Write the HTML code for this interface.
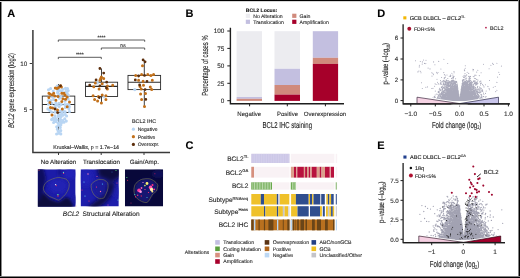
<!DOCTYPE html><html><head><meta charset="utf-8"><style>html,body{margin:0;padding:0;background:#fff;width:520px;height:278px;overflow:hidden}svg{display:block;will-change:transform}text{font-family:"Liberation Sans",sans-serif;text-rendering:geometricPrecision;stroke:#222;stroke-width:0.11px}</style></head><body>
<svg width="520" height="278" viewBox="0 0 520 278">
<rect width="520" height="278" fill="#fff"/>
<text x="7.2" y="16.8" font-size="11.00" text-anchor="start" font-weight="bold" fill="#000" >A</text>
<text x="185.6" y="17.0" font-size="11.00" text-anchor="start" font-weight="bold" fill="#000" >B</text>
<text x="185.4" y="148.9" font-size="11.00" text-anchor="start" font-weight="bold" fill="#000" >C</text>
<text x="377.3" y="17.3" font-size="11.00" text-anchor="start" font-weight="bold" fill="#000" >D</text>
<text x="377.3" y="149.0" font-size="11.00" text-anchor="start" font-weight="bold" fill="#000" >E</text>
<path d="M32.9 30V152.4H170" stroke="#3a3a3a" stroke-width="1.5" fill="none"/>
<path d="M29.7 63.5H32" stroke="#3a3a3a" stroke-width="1"/>
<text x="27.2" y="65.7" font-size="6.30" text-anchor="end" font-weight="normal" fill="#333" >10</text>
<path d="M29.7 109.6H32" stroke="#3a3a3a" stroke-width="1"/>
<text x="27.2" y="111.8" font-size="6.30" text-anchor="end" font-weight="normal" fill="#333" >5</text>
<path d="M58.5 152.4V155" stroke="#3a3a3a" stroke-width="1"/>
<path d="M101.2 152.4V155" stroke="#3a3a3a" stroke-width="1"/>
<path d="M144.0 152.4V155" stroke="#3a3a3a" stroke-width="1"/>
<text transform="translate(13.9,90.5) rotate(-90) scale(0.705,1)" font-size="8.2" text-anchor="middle" fill="#222"><tspan font-style="italic">BCL2</tspan> gene expression (log2)</text>
<path d="M58.3 41.8V40.0H144.7V41.8" stroke="#333" stroke-width="0.8" fill="none"/>
<text x="101.5" y="39.0" font-size="5.00" text-anchor="middle" font-weight="normal" fill="#333" >****</text>
<path d="M101.3 49.8V48.0H144.7V49.8" stroke="#333" stroke-width="0.8" fill="none"/>
<text x="123.0" y="47.0" font-size="5.00" text-anchor="middle" font-weight="normal" fill="#333" >ns</text>
<path d="M58.3 59.1V57.3H101.3V59.1" stroke="#333" stroke-width="0.8" fill="none"/>
<text x="79.8" y="56.0" font-size="5.00" text-anchor="middle" font-weight="normal" fill="#333" >****</text>
<path d="M58.6 84.0V96.1M58.6 112.5V133.5" stroke="#2a2a2a" stroke-width="0.9"/>
<rect x="42.3" y="96.1" width="32.5" height="16.4" fill="none" stroke="#2a2a2a" stroke-width="0.9"/>
<path d="M42.3 104.5H74.8" stroke="#2a2a2a" stroke-width="1.1"/>
<path d="M101.5 68.5V82.2M101.5 96.5V103.0" stroke="#2a2a2a" stroke-width="0.9"/>
<rect x="85.5" y="82.2" width="32.1" height="14.3" fill="none" stroke="#2a2a2a" stroke-width="0.9"/>
<path d="M85.5 86.4H117.6" stroke="#2a2a2a" stroke-width="1.1"/>
<path d="M144.3 60.0V75.4M144.3 89.6V106.6" stroke="#2a2a2a" stroke-width="0.9"/>
<rect x="128.0" y="75.4" width="32.6" height="14.2" fill="none" stroke="#2a2a2a" stroke-width="0.9"/>
<path d="M128.0 82.2H160.6" stroke="#2a2a2a" stroke-width="1.1"/>
<path d="M53.1 118.2h0M60.4 119.3h0M62.3 112.9h0M57.5 92.6h0M67.3 93.5h0M65.5 88.4h0M62.7 89.2h0M56.7 126.8h0M67.5 88.5h0M49.8 110.4h0M60.8 133.9h0M51.6 119.6h0M57.0 105.1h0M58.4 114.7h0M48.5 104.3h0M66.3 121.1h0M55.8 103.0h0M53.2 91.1h0M59.0 103.3h0M58.8 125.2h0M59.2 106.6h0M64.8 104.5h0M59.8 90.5h0M68.9 108.8h0M52.0 103.3h0M58.1 123.3h0M65.1 101.3h0M57.3 129.3h0M68.1 99.1h0M63.1 110.7h0M54.2 120.0h0M53.7 99.5h0M69.3 106.8h0M60.8 130.6h0M65.2 114.3h0M59.8 121.6h0M65.2 111.7h0M57.1 119.8h0M61.4 122.7h0M58.2 131.3h0M60.3 127.4h0M56.0 121.4h0M50.8 100.6h0M67.0 104.6h0M55.0 115.8h0M58.9 133.1h0M57.2 86.1h0M58.3 116.6h0M62.9 115.3h0M50.6 88.6h0M54.8 112.1h0M61.3 104.4h0M52.4 96.9h0M61.0 116.8h0M55.7 108.3h0M62.8 120.5h0M48.3 100.5h0M69.1 104.6h0M65.8 91.5h0M59.5 98.3h0M60.2 111.1h0M66.6 116.0h0M64.7 118.7h0M55.3 117.9h0M64.0 122.3h0M55.0 105.8h0M69.5 111.5h0M68.5 95.3h0M51.5 112.0h0M62.1 91.3h0M47.9 108.9h0M48.5 89.7h0M56.6 134.0h0M58.7 94.2h0M56.7 112.3h0M60.8 96.5h0M68.2 90.6h0M65.4 107.4h0M53.6 122.5h0M60.8 114.5h0M60.9 124.7h0M57.8 90.6h0" stroke="#b8d5f3" stroke-width="3.10" stroke-linecap="round" fill="none"/>
<path d="M55.3 87.9h0M56.9 88.6h0M58.6 87.4h0M60.7 85.8h0M61.4 87.0h0M48.9 93.3h0M50.0 94.0h0M53.7 93.3h0M52.1 95.0h0M61.8 93.3h0M64.0 93.3h0M65.0 95.0h0M67.2 97.1h0M48.9 97.6h0M54.8 96.0h0M58.0 96.6h0M55.9 100.3h0M62.9 98.7h0M65.6 99.3h0M61.8 101.4h0M49.9 102.5h0M50.5 107.4h0M52.6 107.9h0M67.2 106.8h0M62.3 109.0h0M57.5 110.0h0M52.0 115.0h0M69.5 102.0h0" stroke="#c2701a" stroke-width="3.00" stroke-linecap="round" fill="none"/>
<path d="M57.6 112.6h0M60.5 85.8h0M55.0 109.0h0" stroke="#5c2e0c" stroke-width="2.80" stroke-linecap="round" fill="none"/>
<path d="M97.3 82.9h0M103.9 96.7h0" stroke="#b8d5f3" stroke-width="3.10" stroke-linecap="round" fill="none"/>
<path d="M101.4 76.9h0M100.6 78.4h0M103.7 78.4h0M99.9 80.3h0M95.3 82.9h0M102.2 83.7h0M93.8 86.7h0M107.4 85.9h0M112.7 85.2h0M99.1 89.0h0M107.4 88.9h0M93.1 95.8h0M98.4 96.5h0M102.2 95.0h0M105.9 95.8h0M94.6 99.6h0M97.6 101.1h0M105.9 99.6h0M101.4 103.0h0" stroke="#c2701a" stroke-width="3.00" stroke-linecap="round" fill="none"/>
<path d="M99.9 68.5h0M103.7 73.1h0M96.1 79.9h0M106.7 82.2h0M89.7 85.2h0M99.9 85.9h0M106.4 88.0h0M99.3 97.6h0" stroke="#5c2e0c" stroke-width="2.80" stroke-linecap="round" fill="none"/>
<path d="M134.8 89.6h0" stroke="#b8d5f3" stroke-width="3.10" stroke-linecap="round" fill="none"/>
<path d="M142.5 65.7h0M135.7 75.4h0M141.6 74.5h0M147.8 74.5h0M150.9 75.4h0M153.6 74.5h0M138.6 80.3h0M143.1 81.3h0M152.3 80.3h0M140.0 86.5h0M143.5 85.2h0M141.2 89.0h0M150.3 87.1h0M151.7 89.6h0M140.6 93.9h0M145.5 93.5h0M141.6 99.4h0M144.5 106.6h0" stroke="#c2701a" stroke-width="3.00" stroke-linecap="round" fill="none"/>
<path d="M143.1 59.9h0M145.1 61.8h0M138.6 76.0h0M144.5 75.4h0M135.3 79.9h0M147.0 81.3h0M139.6 85.0h0M145.1 89.6h0M145.8 99.4h0" stroke="#5c2e0c" stroke-width="2.80" stroke-linecap="round" fill="none"/>
<text x="53.3" y="148.8" font-size="5.30" text-anchor="start" font-weight="normal" fill="#222" >Kruskal–Wallis, p = 1.7e−14</text>
<text x="132.0" y="123.4" font-size="5.40" text-anchor="start" font-weight="normal" fill="#333" >BCL2 IHC</text>
<circle cx="133.4" cy="129.2" r="1.6" fill="#b8d5f3"/>
<text x="137.7" y="131.1" font-size="5.00" text-anchor="start" font-weight="normal" fill="#333" >Negative</text>
<circle cx="133.4" cy="136.7" r="1.6" fill="#c2701a"/>
<text x="137.7" y="138.6" font-size="5.00" text-anchor="start" font-weight="normal" fill="#333" >Positive</text>
<circle cx="133.4" cy="144.4" r="1.6" fill="#5c2e0c"/>
<text x="137.7" y="146.3" font-size="5.00" text-anchor="start" font-weight="normal" fill="#333" >Overexpr.</text>
<text x="58.5" y="164.1" font-size="6.20" text-anchor="middle" font-weight="normal" fill="#222" >No Alteration</text>
<text x="101.4" y="164.1" font-size="6.20" text-anchor="middle" font-weight="normal" fill="#222" >Translocation</text>
<text x="144.3" y="164.1" font-size="6.20" text-anchor="middle" font-weight="normal" fill="#222" >Gain/Amp.</text>
<defs><filter id="bl" x="-20%" y="-20%" width="140%" height="140%"><feGaussianBlur stdDeviation="1.6"/></filter><filter id="bl2" x="-20%" y="-20%" width="140%" height="140%"><feGaussianBlur stdDeviation="2.2"/></filter><filter id="bs" x="-50%" y="-50%" width="200%" height="200%"><feGaussianBlur stdDeviation="0.45"/></filter><clipPath id="c1"><rect x="37.8" y="169.3" width="37.8" height="37.4"/></clipPath><clipPath id="c2"><rect x="80.6" y="169.3" width="38.2" height="37.2"/></clipPath><clipPath id="c3"><rect x="124.9" y="169.3" width="38.2" height="37.2"/></clipPath></defs>
<g clip-path="url(#c1)"><rect x="37.8" y="169.3" width="37.8" height="37.4" fill="#1c1ca8"/>
<g filter="url(#bl)"><path d="M34 195L44 193L50 199L58 202L62 200L66 197L70 199L73 204L74 210H34Z" fill="#0a0a3c"/><path d="M36 166L43 166L46 178L44 190L40 200L36 200Z" fill="#0e0e60"/><ellipse cx="59.5" cy="172" rx="1.6" ry="4" fill="#141488"/><ellipse cx="58" cy="186" rx="9" ry="7" fill="#2020b4"/><ellipse cx="70" cy="174" rx="6" ry="5" fill="#2222b8"/><ellipse cx="75" cy="200" rx="2.5" ry="5" fill="#1a1aa0"/></g>
<path d="M43.3 188.1C43.6 186.5 44.2 185 45 183.6C46.2 182.3 47.4 181.3 48.8 180.6C51 179.5 53.3 178.5 55.6 177.9C57.2 177.6 58.7 177.5 60.2 177.6C62.3 178 64.3 178.4 66.2 179.1C67.6 180.4 68.6 182 69.2 183.6C69.3 185.5 69.1 187.2 68.5 188.9C67.7 190.8 66.7 192.6 65.5 194.2C64.3 195.6 63 196.9 61.7 198C60.8 199 59.8 199.8 58.7 200.2C57.4 199.9 56.2 199.3 54.9 198.7C53.1 198 51.4 197.3 49.6 196.5C47.9 195.3 46.4 194.1 45 192.7C44.1 191.3 43.5 189.7 43.3 188.1Z" fill="none" stroke="#8c8a46" stroke-width="0.5"/>
</g>
<g clip-path="url(#c2)"><rect x="80.6" y="169.3" width="38.2" height="37.2" fill="#1e1eac"/>
<g filter="url(#bl2)"><path d="M97 166H123V175L114 181L109 181.5L104 178.5L99 177.5Z" fill="#0a0a40"/><path d="M112 183C110 190 108 196 103 200C98 204 94 206 90 210" fill="none" stroke="#0a0a40" stroke-width="7"/><path d="M92 186C92 182 96 179.5 99 179.5C103 179.5 107 181 107.5 185C108 190 106 196 101 197.5C96 197 93 193 92 186Z" fill="#1a1a98"/><ellipse cx="118" cy="192" rx="3" ry="6" fill="#2020b0"/><ellipse cx="86" cy="178" rx="6" ry="8" fill="#2222b8"/></g>
<path d="M91.1 185.1C91.6 184 92.4 183 93.4 182.1C95 180.9 96.7 180 98.6 179.4C100.4 179.3 102.2 179.4 103.9 179.8C105.4 180.6 106.7 181.6 107.7 182.9C108.2 184.6 108.2 186.4 108 188.1C107.6 190 107 191.8 106.2 193.4C105.5 195 104.8 196.6 103.9 198C102.4 198.5 100.9 198.8 99.4 198.7C97.4 197.8 95.6 196.5 94.1 195C93.1 193.6 92.3 192 91.8 190.4C91.4 188.7 91.1 186.9 91.1 185.1Z" fill="none" stroke="#8c8a46" stroke-width="0.5"/>
</g>
<g clip-path="url(#c3)"><rect x="124.9" y="169.3" width="38.2" height="37.2" fill="#08083a"/>
<g filter="url(#bl)"><path d="M134.5 188L137 182.4L142.7 179.2L149.2 178.8L154.9 181.7L157.8 185.3L156.4 191L152.8 193.9L149.9 198.9L147 202.5L142.7 201.8L137.7 198.9L134.8 195.3Z" fill="#121272"/><ellipse cx="158" cy="174" rx="6" ry="4" fill="#10105a"/></g>
<path d="M134.1 188.1C134.5 185 135.5 183.5 137 182.4C139 180.5 141 179.5 142.7 179.2C145 178.7 147 178.6 149.2 178.8C151.5 179.3 153.5 180.5 154.9 181.7C156.5 183 157.5 184 157.8 185.3C157.5 187.5 157 189.5 156.4 191C155 192.5 153.8 193 152.8 193.9C151.5 195.5 150.8 197.5 149.9 198.9C149 200.5 148 201.8 147 202.5C145.5 202.6 144 202.3 142.7 201.8C140.5 200.8 139 200 137.7 198.9C136.5 197.8 135.5 196.5 134.8 195.3C134 193 133.9 190.5 134.1 188.1Z" fill="none" stroke="#8c8a46" stroke-width="0.5"/>
<g filter="url(#bs)"><circle cx="139.1" cy="190.3" r="1.9" fill="#ff3c9c"/><circle cx="140.6" cy="191.8" r="1.3" fill="#ffa0e0"/><circle cx="147.0" cy="183.5" r="1.4" fill="#fff070"/><circle cx="150.6" cy="187.4" r="1.8" fill="#ff50b0"/><circle cx="151.6" cy="189.5" r="1.7" fill="#fff0b0"/><circle cx="152.5" cy="185.0" r="1.0" fill="#ff3080"/><circle cx="141.5" cy="188.0" r="0.9" fill="#ff60b0"/><circle cx="152.3" cy="191.6" r="1.0" fill="#fff080"/><circle cx="144.9" cy="185.6" r="0.8" fill="#c8ff60"/><circle cx="154.2" cy="189.3" r="0.9" fill="#ff4090"/><circle cx="137.7" cy="195.3" r="0.7" fill="#ff3080"/><circle cx="135.5" cy="196.8" r="0.6" fill="#ff3070"/><circle cx="141.3" cy="196.0" r="0.7" fill="#d02050"/><circle cx="134.8" cy="194.6" r="0.5" fill="#40e0e0"/><circle cx="147.0" cy="197.5" r="0.5" fill="#40d0e0"/><circle cx="126.9" cy="177.4" r="0.5" fill="#60ff80"/><circle cx="127.6" cy="180.2" r="0.5" fill="#ff3050"/><circle cx="154.9" cy="173.8" r="0.5" fill="#e02050"/><circle cx="145.0" cy="189.5" r="0.6" fill="#ff5090"/><circle cx="148.5" cy="192.5" r="0.6" fill="#ff3070"/><circle cx="143.0" cy="182.5" r="0.6" fill="#ffa0d0"/><circle cx="131.0" cy="203.0" r="0.5" fill="#c02060"/></g>
</g>
<g filter="url(#bs)"><circle cx="55.6" cy="184.6" r="0.7" fill="#e0f0ff"/><circle cx="56.2" cy="185.6" r="0.6" fill="#ff3060"/><circle cx="63.5" cy="172.4" r="0.6" fill="#60e0c0"/><circle cx="63.6" cy="173.5" r="0.6" fill="#ff3070"/><circle cx="57.9" cy="194.8" r="0.7" fill="#60ff90"/><circle cx="58.0" cy="196.0" r="0.7" fill="#ff2050"/><circle cx="39.0" cy="170.0" r="0.6" fill="#ff6040"/><circle cx="76.0" cy="206.0" r="0.4" fill="#ff8080"/><circle cx="88.0" cy="174.0" r="0.7" fill="#ff80c0"/><circle cx="84.0" cy="182.0" r="0.6" fill="#60c0ff"/><circle cx="97.0" cy="176.5" r="0.5" fill="#ff60a0"/><circle cx="96.5" cy="187.0" r="0.6" fill="#ff3080"/><circle cx="100.5" cy="191.5" r="0.7" fill="#ff70b0"/><circle cx="102.5" cy="184.0" r="0.6" fill="#40c0ff"/><circle cx="85.0" cy="196.0" r="0.6" fill="#60d0ff"/><circle cx="89.0" cy="201.0" r="0.6" fill="#ff3060"/><circle cx="117.0" cy="183.0" r="0.5" fill="#ff4070"/><circle cx="118.0" cy="200.0" r="0.5" fill="#80ffd0"/><circle cx="108.0" cy="205.0" r="0.5" fill="#ff60c0"/><circle cx="116.0" cy="170.5" r="0.5" fill="#60ff80"/><circle cx="82.0" cy="190.0" r="0.5" fill="#ff3080"/><circle cx="112.0" cy="172.0" r="0.4" fill="#40a0ff"/></g>
<text x="62.8" y="215.8" font-size="6.55" fill="#222"><tspan font-style="italic">BCL2</tspan> <tspan dx="1.5">Structural Alteration</tspan></text>
<text x="245.8" y="12.1" font-size="5.10" text-anchor="start" font-weight="bold" fill="#111" >BCL2 Locus:</text>
<rect x="245.8" y="13.7" width="4.2" height="4.2" fill="#ececf0"/>
<text x="253.2" y="17.6" font-size="5.15" text-anchor="start" font-weight="normal" fill="#333" >No Alteration</text>
<rect x="245.8" y="19.7" width="4.2" height="4.2" fill="#c3bfe0"/>
<text x="253.2" y="23.6" font-size="5.15" text-anchor="start" font-weight="normal" fill="#333" >Translocation</text>
<rect x="292.2" y="13.7" width="4.2" height="4.2" fill="#d08a7c"/>
<text x="299.6" y="17.6" font-size="5.15" text-anchor="start" font-weight="normal" fill="#333" >Gain</text>
<rect x="292.2" y="19.7" width="4.2" height="4.2" fill="#a6002a"/>
<text x="299.6" y="23.6" font-size="5.15" text-anchor="start" font-weight="normal" fill="#333" >Amplification</text>
<path d="M230.4 27.7V103.7H344" stroke="#1e1e1e" stroke-width="1.4" fill="none"/>
<path d="M227.3 100.7H230" stroke="#1e1e1e" stroke-width="1"/>
<text x="224.3" y="102.9" font-size="6.40" text-anchor="end" font-weight="normal" fill="#333" >0</text>
<path d="M227.3 83.3H230" stroke="#1e1e1e" stroke-width="1"/>
<text x="224.3" y="85.5" font-size="6.40" text-anchor="end" font-weight="normal" fill="#333" >25</text>
<path d="M227.3 65.9H230" stroke="#1e1e1e" stroke-width="1"/>
<text x="224.3" y="68.1" font-size="6.40" text-anchor="end" font-weight="normal" fill="#333" >50</text>
<path d="M227.3 48.4H230" stroke="#1e1e1e" stroke-width="1"/>
<text x="224.3" y="50.6" font-size="6.40" text-anchor="end" font-weight="normal" fill="#333" >75</text>
<path d="M227.3 31.0H230" stroke="#1e1e1e" stroke-width="1"/>
<text x="224.3" y="33.2" font-size="6.40" text-anchor="end" font-weight="normal" fill="#333" >100</text>
<path d="M249.6 103.6V106.3" stroke="#1e1e1e" stroke-width="1"/>
<path d="M287.3 103.6V106.3" stroke="#1e1e1e" stroke-width="1"/>
<path d="M325.4 103.6V106.3" stroke="#1e1e1e" stroke-width="1"/>
<rect x="236.6" y="31.2" width="25.4" height="65.8" fill="#ececf0"/>
<rect x="236.6" y="97.0" width="25.4" height="1.8" fill="#c3bfe0"/>
<rect x="236.6" y="98.8" width="25.4" height="2.1" fill="#d08a7c"/>
<rect x="274.5" y="31.2" width="25.5" height="37.6" fill="#ececf0"/>
<rect x="274.5" y="68.8" width="25.5" height="16.2" fill="#c3bfe0"/>
<rect x="274.5" y="85.0" width="25.5" height="9.6" fill="#d08a7c"/>
<rect x="274.5" y="94.6" width="25.5" height="6.3" fill="#a6002a"/>
<rect x="312.8" y="31.2" width="25.3" height="26.6" fill="#c3bfe0"/>
<rect x="312.8" y="57.8" width="25.3" height="6.1" fill="#d08a7c"/>
<rect x="312.8" y="63.9" width="25.3" height="37.0" fill="#a6002a"/>
<text x="249.3" y="115.6" font-size="6.05" text-anchor="middle" font-weight="normal" fill="#333" >Negative</text>
<text x="287.5" y="115.6" font-size="6.05" text-anchor="middle" font-weight="normal" fill="#333" >Positive</text>
<text x="325.0" y="115.6" font-size="6.05" text-anchor="middle" font-weight="normal" fill="#333" >Overexpression</text>
<text transform="translate(287.3,128.0) scale(0.70,1)" font-size="8.6" stroke="#222" stroke-width="0.22" text-anchor="middle" fill="#222">BCL2 IHC staining</text>
<text transform="translate(207.9,65.5) rotate(-90) scale(0.666,1)" font-size="8.8" text-anchor="middle" fill="#222">Percentage of cases %</text>
<rect x="251.3" y="153.8" width="38.2" height="9.2" fill="#f9f2f5"/>
<rect x="290.8" y="153.8" width="43.6" height="9.2" fill="#f9f2f5"/>
<rect x="335.7" y="153.8" width="1.5" height="9.2" fill="#f9f2f5"/>
<rect x="251.3" y="166.8" width="38.2" height="10.8" fill="#f9f2f5"/>
<rect x="290.8" y="166.8" width="43.6" height="10.8" fill="#f9f2f5"/>
<rect x="335.7" y="166.8" width="1.5" height="10.8" fill="#f9f2f5"/>
<rect x="251.3" y="182.3" width="38.2" height="7.3" fill="#f9f2f5"/>
<rect x="290.8" y="182.3" width="43.6" height="7.3" fill="#f9f2f5"/>
<rect x="335.7" y="182.3" width="1.5" height="7.3" fill="#f9f2f5"/>
<rect x="251.3" y="153.8" width="38.2" height="9.2" fill="#cbc6e6"/>
<rect x="251.3" y="166.8" width="2.7" height="10.8" fill="#d6907e"/>
<rect x="290.9" y="166.8" width="3.1" height="10.8" fill="#dba08c"/>
<rect x="294.0" y="166.8" width="2.2" height="10.8" fill="#b8123e"/>
<rect x="296.2" y="166.8" width="1.1" height="10.8" fill="#dba08c"/>
<rect x="297.3" y="166.8" width="6.6" height="10.8" fill="#b8123e"/>
<rect x="303.9" y="166.8" width="1.2" height="10.8" fill="#dba08c"/>
<rect x="305.1" y="166.8" width="1.9" height="10.8" fill="#b8123e"/>
<rect x="307.0" y="166.8" width="1.7" height="10.8" fill="#dba08c"/>
<rect x="308.7" y="166.8" width="1.6" height="10.8" fill="#b8123e"/>
<rect x="310.3" y="166.8" width="1.5" height="10.8" fill="#dba08c"/>
<rect x="311.8" y="166.8" width="5.0" height="10.8" fill="#b8123e"/>
<rect x="316.8" y="166.8" width="2.9" height="10.8" fill="#dba08c"/>
<rect x="319.7" y="166.8" width="1.8" height="10.8" fill="#b8123e"/>
<rect x="321.5" y="166.8" width="3.5" height="10.8" fill="#dba08c"/>
<rect x="325.0" y="166.8" width="4.8" height="10.8" fill="#b8123e"/>
<rect x="329.8" y="166.8" width="1.0" height="10.8" fill="#e8b8a8"/>
<rect x="330.8" y="166.8" width="3.2" height="10.8" fill="#b8123e"/>
<rect x="251.3" y="182.3" width="20.7" height="7.3" fill="#68a84c"/>
<rect x="290.8" y="182.3" width="5.2" height="7.3" fill="#68a84c"/>
<rect x="335.8" y="182.3" width="0.8" height="7.3" fill="#68a84c"/>
<path d="M252.90 182.3V189.6M254.50 182.3V189.6M256.10 182.3V189.6M257.70 182.3V189.6M259.30 182.3V189.6M260.90 182.3V189.6M262.50 182.3V189.6M264.10 182.3V189.6M265.70 182.3V189.6M267.30 182.3V189.6M268.90 182.3V189.6M270.50 182.3V189.6M292.40 182.3V189.6M294.00 182.3V189.6M295.60 182.3V189.6" stroke="#eef6ea" stroke-width="0.6"/>
<path d="M253.00 153.8V163M254.70 153.8V163M256.40 153.8V163M258.10 153.8V163M259.80 153.8V163M261.50 153.8V163M263.20 153.8V163M264.90 153.8V163M266.60 153.8V163M268.30 153.8V163M270.00 153.8V163M271.70 153.8V163M273.40 153.8V163M275.10 153.8V163M276.80 153.8V163M278.50 153.8V163M280.20 153.8V163M281.90 153.8V163M283.60 153.8V163M285.30 153.8V163M287.00 153.8V163M288.70 153.8V163" stroke="#e2def4" stroke-width="0.35"/>
<rect x="251.3" y="194.0" width="9.5" height="10.5" fill="#efc12a"/>
<rect x="260.8" y="194.0" width="3.2" height="10.5" fill="#2f4e8e"/>
<rect x="264.0" y="194.0" width="12.8" height="10.5" fill="#efc12a"/>
<rect x="276.8" y="194.0" width="1.5" height="10.5" fill="#2f4e8e"/>
<rect x="278.3" y="194.0" width="1.5" height="10.5" fill="#c8cce4"/>
<rect x="279.8" y="194.0" width="9.5" height="10.5" fill="#efc12a"/>
<rect x="291.1" y="194.0" width="4.8" height="10.5" fill="#efc12a"/>
<rect x="295.9" y="194.0" width="12.8" height="10.5" fill="#2f4e8e"/>
<rect x="308.7" y="194.0" width="1.3" height="10.5" fill="#efc12a"/>
<rect x="310.0" y="194.0" width="2.1" height="10.5" fill="#2f4e8e"/>
<rect x="312.1" y="194.0" width="1.4" height="10.5" fill="#efc12a"/>
<rect x="313.5" y="194.0" width="6.8" height="10.5" fill="#2f4e8e"/>
<rect x="321.2" y="194.0" width="3.6" height="10.5" fill="#2f4e8e"/>
<rect x="326.3" y="194.0" width="1.6" height="10.5" fill="#efc12a"/>
<rect x="327.9" y="194.0" width="1.5" height="10.5" fill="#2f4e8e"/>
<rect x="329.4" y="194.0" width="1.7" height="10.5" fill="#efc12a"/>
<rect x="331.1" y="194.0" width="2.6" height="10.5" fill="#2f4e8e"/>
<rect x="335.8" y="194.0" width="1.0" height="10.5" fill="#2f4e8e"/>
<rect x="251.3" y="206.2" width="12.7" height="10.2" fill="#efc12a"/>
<rect x="264.0" y="206.2" width="1.4" height="10.2" fill="#2f4e8e"/>
<rect x="265.4" y="206.2" width="11.5" height="10.2" fill="#efc12a"/>
<rect x="276.9" y="206.2" width="1.4" height="10.2" fill="#2f4e8e"/>
<rect x="278.3" y="206.2" width="4.6" height="10.2" fill="#efc12a"/>
<rect x="282.9" y="206.2" width="1.7" height="10.2" fill="#c6c6cc"/>
<rect x="284.6" y="206.2" width="3.6" height="10.2" fill="#efc12a"/>
<rect x="288.2" y="206.2" width="1.3" height="10.2" fill="#d4d4dc"/>
<rect x="291.1" y="206.2" width="6.4" height="10.2" fill="#efc12a"/>
<rect x="297.5" y="206.2" width="11.2" height="10.2" fill="#2f4e8e"/>
<rect x="310.0" y="206.2" width="10.0" height="10.2" fill="#2f4e8e"/>
<rect x="320.0" y="206.2" width="1.9" height="10.2" fill="#efc12a"/>
<rect x="322.8" y="206.2" width="2.0" height="10.2" fill="#2f4e8e"/>
<rect x="326.0" y="206.2" width="1.9" height="10.2" fill="#efc12a"/>
<rect x="327.9" y="206.2" width="1.5" height="10.2" fill="#c6c6cc"/>
<rect x="329.4" y="206.2" width="1.7" height="10.2" fill="#efc12a"/>
<rect x="331.1" y="206.2" width="1.7" height="10.2" fill="#2f4e8e"/>
<rect x="332.8" y="206.2" width="1.4" height="10.2" fill="#efc12a"/>
<rect x="335.8" y="206.2" width="1.0" height="10.2" fill="#c6c6cc"/>
<rect x="251.3" y="219.5" width="38.2" height="10.8" fill="#b8701f"/>
<rect x="290.8" y="219.5" width="43.6" height="10.8" fill="#b8701f"/>
<rect x="335.8" y="219.5" width="1.2" height="10.8" fill="#b9d6f2"/>
<rect x="251.3" y="219.5" width="2.3" height="10.8" fill="#6a4518"/>
<rect x="253.9" y="219.5" width="1.5" height="10.8" fill="#b9d6f2"/>
<rect x="258.5" y="219.5" width="1.2" height="10.8" fill="#6a4518"/>
<rect x="263.9" y="219.5" width="1.2" height="10.8" fill="#6a4518"/>
<rect x="268.4" y="219.5" width="5.0" height="10.8" fill="#6a4518"/>
<rect x="277.0" y="219.5" width="1.3" height="10.8" fill="#b9d6f2"/>
<rect x="282.8" y="219.5" width="0.9" height="10.8" fill="#6a4518"/>
<rect x="287.3" y="219.5" width="2.2" height="10.8" fill="#6a4518"/>
<rect x="290.8" y="219.5" width="1.7" height="10.8" fill="#b9d6f2"/>
<rect x="292.8" y="219.5" width="1.4" height="10.8" fill="#6a4518"/>
<rect x="295.5" y="219.5" width="0.6" height="10.8" fill="#6a4518"/>
<rect x="297.2" y="219.5" width="1.6" height="10.8" fill="#6a4518"/>
<rect x="300.5" y="219.5" width="3.5" height="10.8" fill="#6a4518"/>
<rect x="305.5" y="219.5" width="1.5" height="10.8" fill="#6a4518"/>
<rect x="312.0" y="219.5" width="2.8" height="10.8" fill="#6a4518"/>
<rect x="317.0" y="219.5" width="4.0" height="10.8" fill="#6a4518"/>
<rect x="325.0" y="219.5" width="2.8" height="10.8" fill="#6a4518"/>
<rect x="333.0" y="219.5" width="1.4" height="10.8" fill="#6a4518"/>
<text x="248.6" y="160.8" font-size="6.6" text-anchor="end" fill="#2a2a2a">BCL2<tspan font-size="4.2" dy="-2.7">TL</tspan></text>
<text x="248.2" y="174.5" font-size="6.6" text-anchor="end" fill="#2a2a2a">BCL2<tspan font-size="4.2" dy="-2.7">GA</tspan></text>
<text x="248.4" y="188.0" font-size="6.60" text-anchor="end" font-weight="normal" fill="#2a2a2a" >BCL2</text>
<text x="248.2" y="202.3" font-size="6.6" text-anchor="end" fill="#2a2a2a">Subtype<tspan font-size="4.2" dy="-2.7">RNAseq</tspan></text>
<text x="248.2" y="213.7" font-size="6.6" text-anchor="end" fill="#2a2a2a">Subtype<tspan font-size="4.2" dy="-2.7">Hans</tspan></text>
<text x="248.4" y="226.8" font-size="6.60" text-anchor="end" font-weight="normal" fill="#2a2a2a" >BCL2 IHC</text>
<text x="184.8" y="253.9" font-size="5.15" text-anchor="start" font-weight="normal" fill="#333" >Alterations</text>
<rect x="215.2" y="240.1" width="4.6" height="4.6" fill="#c4bfe2"/>
<text x="223.2" y="244.2" font-size="5.20" text-anchor="start" font-weight="normal" fill="#333" >Translocation</text>
<rect x="215.2" y="246.5" width="4.6" height="4.6" fill="#5b9f3e"/>
<text x="223.2" y="250.6" font-size="5.20" text-anchor="start" font-weight="normal" fill="#333" >Coding Mutation</text>
<rect x="215.2" y="252.8" width="4.6" height="4.6" fill="#d8907f"/>
<text x="223.2" y="256.9" font-size="5.20" text-anchor="start" font-weight="normal" fill="#333" >Gain</text>
<rect x="215.2" y="259.2" width="4.6" height="4.6" fill="#a8002c"/>
<text x="223.2" y="263.3" font-size="5.20" text-anchor="start" font-weight="normal" fill="#333" >Amplification</text>
<rect x="264.7" y="240.1" width="4.6" height="4.6" fill="#5a3414"/>
<text x="272.7" y="244.2" font-size="5.20" text-anchor="start" font-weight="normal" fill="#333" >Overexpression</text>
<rect x="264.7" y="246.5" width="4.6" height="4.6" fill="#b0651c"/>
<text x="272.7" y="250.6" font-size="5.20" text-anchor="start" font-weight="normal" fill="#333" >Positive</text>
<rect x="264.7" y="252.8" width="4.6" height="4.6" fill="#bcd8f4"/>
<text x="272.7" y="256.9" font-size="5.20" text-anchor="start" font-weight="normal" fill="#333" >Negative</text>
<rect x="311.5" y="240.1" width="4.6" height="4.6" fill="#233f85"/>
<text x="319.5" y="244.2" font-size="5.20" text-anchor="start" font-weight="normal" fill="#333" >ABC/nonGCB</text>
<rect x="311.5" y="246.5" width="4.6" height="4.6" fill="#f0c020"/>
<text x="319.5" y="250.6" font-size="5.20" text-anchor="start" font-weight="normal" fill="#333" >GCB</text>
<rect x="311.5" y="252.8" width="4.6" height="4.6" fill="#c4c4c8"/>
<text x="319.5" y="256.9" font-size="5.20" text-anchor="start" font-weight="normal" fill="#333" >Unclassified/Other</text>
<rect x="403.3" y="16.3" width="3.1" height="3.1" fill="#f2b705"/>
<text x="409.7" y="20.2" font-size="5.55" fill="#222">GCB DLBCL – <tspan font-style="italic">BCL2</tspan><tspan font-size="3.6" dy="-2.6">TL</tspan></text>
<circle cx="409.3" cy="28.8" r="1.95" fill="#a8102e"/>
<text x="413.9" y="30.8" font-size="5.20" text-anchor="start" font-weight="normal" fill="#222" >FDR&lt;5%</text>
<rect x="485.2" y="26.9" width="1.5" height="1.5" fill="#b01040"/>
<text x="490.0" y="29.6" font-size="5.40" text-anchor="start" font-weight="normal" fill="#333" >BCL2</text>
<path d="M403.1 24.3V103.8H509.8" stroke="#1e1e1e" stroke-width="1.3" fill="none"/>
<path d="M400.5 100.6H403" stroke="#1e1e1e" stroke-width="1"/>
<text x="398.3" y="102.8" font-size="6.20" text-anchor="end" font-weight="normal" fill="#333" >0</text>
<path d="M400.5 79.9H403" stroke="#1e1e1e" stroke-width="1"/>
<text x="398.3" y="82.1" font-size="6.20" text-anchor="end" font-weight="normal" fill="#333" >2</text>
<path d="M400.5 59.0H403" stroke="#1e1e1e" stroke-width="1"/>
<text x="398.3" y="61.2" font-size="6.20" text-anchor="end" font-weight="normal" fill="#333" >4</text>
<path d="M400.5 38.0H403" stroke="#1e1e1e" stroke-width="1"/>
<text x="398.3" y="40.2" font-size="6.20" text-anchor="end" font-weight="normal" fill="#333" >6</text>
<path d="M410.8 103.8V106.4" stroke="#1e1e1e" stroke-width="1"/>
<text x="410.8" y="115.5" font-size="6.50" text-anchor="middle" font-weight="normal" fill="#333" >−1.0</text>
<path d="M435.3 103.8V106.4" stroke="#1e1e1e" stroke-width="1"/>
<text x="435.3" y="115.5" font-size="6.50" text-anchor="middle" font-weight="normal" fill="#333" >−0.5</text>
<path d="M459.6 103.8V106.4" stroke="#1e1e1e" stroke-width="1"/>
<text x="459.6" y="115.5" font-size="6.50" text-anchor="middle" font-weight="normal" fill="#333" >0.0</text>
<path d="M484.0 103.8V106.4" stroke="#1e1e1e" stroke-width="1"/>
<text x="484.0" y="115.5" font-size="6.50" text-anchor="middle" font-weight="normal" fill="#333" >0.5</text>
<path d="M508.4 103.8V106.4" stroke="#1e1e1e" stroke-width="1"/>
<text x="508.4" y="115.5" font-size="6.50" text-anchor="middle" font-weight="normal" fill="#333" >1.0</text>
<text transform="translate(456.6,127.6) scale(0.70,1)" font-size="8.7" stroke="#222" stroke-width="0.22" text-anchor="middle" fill="#222">Fold change (log<tspan font-size="5.4" dy="1.6">2</tspan><tspan dy="-1.6">)</tspan></text>
<text transform="translate(388.2,63.8) rotate(-90) scale(0.74,1)" font-size="8.0" stroke="#222" stroke-width="0.2" text-anchor="middle" fill="#222">p–value (–log<tspan font-size="4.8" dy="1.5">10</tspan><tspan dy="-1.5">)</tspan></text>
<path d="M477.2 96.7h0M452.2 96.0h0M448.1 99.3h0M460.5 100.0h0M464.2 100.0h0M444.4 74.5h0M464.1 93.7h0M463.4 95.7h0M459.9 99.2h0M457.1 96.8h0M452.9 95.9h0M467.5 96.6h0M438.7 61.4h0M460.4 98.1h0M472.3 98.4h0M467.2 88.5h0M462.6 80.1h0M462.0 85.0h0M462.9 90.8h0M449.2 100.0h0M477.7 99.8h0M473.1 99.9h0M465.6 95.3h0M458.9 99.2h0M464.0 99.8h0M456.7 99.0h0M438.0 98.3h0M446.9 99.1h0M449.8 99.9h0M460.5 99.0h0M473.8 98.3h0M454.3 100.0h0M463.0 97.6h0M446.2 79.9h0M460.9 99.3h0M464.3 85.1h0M452.8 91.9h0M443.6 99.2h0M465.2 97.1h0M453.8 100.3h0M457.9 98.7h0M457.4 94.7h0M464.5 100.1h0M467.0 95.3h0M470.8 84.4h0M460.7 100.5h0M468.5 99.3h0M453.7 95.1h0M450.4 75.1h0M464.5 93.0h0M457.3 100.5h0M456.9 92.8h0M458.6 96.3h0M456.1 98.1h0M458.4 91.9h0M454.3 91.9h0M445.5 97.8h0M451.7 85.6h0M451.7 87.7h0M450.8 94.2h0M452.4 100.1h0M449.5 92.0h0M457.3 96.8h0M456.7 100.4h0M461.7 96.4h0M446.4 94.4h0M452.5 98.7h0M460.3 99.1h0M452.8 85.3h0M451.9 98.0h0M446.2 99.2h0M467.7 86.8h0M462.2 94.9h0M454.0 88.8h0M466.9 92.6h0M462.1 96.7h0M469.5 99.0h0M453.4 98.1h0M462.4 87.2h0M452.2 92.6h0M462.6 100.5h0M475.1 96.7h0M462.1 99.6h0M448.0 94.2h0M454.4 89.9h0M463.5 93.1h0M468.3 100.5h0M463.5 92.5h0M466.5 92.9h0M458.4 94.4h0M469.8 85.3h0M462.8 83.1h0M454.5 94.2h0M444.1 97.5h0M469.2 81.9h0M455.0 93.8h0M446.3 94.0h0M441.1 99.0h0M445.6 95.6h0M473.3 98.1h0M468.2 100.0h0M461.4 95.4h0M470.4 89.9h0M454.8 90.2h0M466.2 99.6h0M456.4 95.9h0M477.4 81.7h0M467.2 81.3h0M456.4 98.4h0M443.3 94.0h0M462.2 98.2h0M453.4 88.5h0M463.4 95.1h0M470.0 94.6h0M461.2 95.2h0M469.8 93.0h0M452.7 80.2h0M464.0 98.6h0M457.4 89.6h0M456.9 96.4h0M466.7 83.8h0M466.2 90.8h0M461.4 93.1h0M456.4 97.8h0M462.3 99.8h0M463.1 98.7h0M469.4 97.5h0M456.0 95.7h0M465.1 94.0h0M473.5 88.3h0M448.1 91.9h0M454.7 85.5h0M453.0 99.0h0M453.6 86.4h0M464.3 98.7h0M473.8 89.0h0M452.4 97.3h0M455.9 100.5h0M474.4 78.2h0M458.5 96.0h0M469.3 99.2h0M469.6 99.9h0M462.7 95.2h0M455.0 99.3h0M476.8 83.7h0M451.0 100.2h0M462.6 98.0h0M470.1 95.9h0M453.9 92.8h0M472.4 99.3h0M463.6 99.2h0M442.0 95.9h0M456.8 92.7h0M469.5 94.2h0M448.0 98.7h0M468.2 89.7h0M448.5 85.9h0M469.4 91.2h0M467.4 92.3h0M462.8 100.5h0M454.5 94.0h0M464.7 93.5h0M469.6 93.6h0M454.5 93.9h0M456.6 91.3h0M461.0 91.9h0M465.1 97.3h0M461.3 99.9h0M448.3 85.3h0M455.9 95.2h0M457.5 94.0h0M463.9 91.4h0M466.9 83.4h0M451.3 96.2h0M467.6 100.2h0M463.3 94.7h0M465.7 98.4h0M469.3 92.4h0M459.7 100.5h0M463.3 91.5h0M457.5 85.8h0M464.8 81.9h0M449.2 85.3h0M463.8 98.8h0M455.5 82.7h0M449.1 89.6h0M466.0 99.8h0M465.9 100.3h0M470.9 99.7h0M455.1 98.6h0M457.4 97.1h0M447.1 80.8h0M446.5 98.8h0M471.7 94.2h0M455.2 98.5h0M449.2 94.1h0M459.3 99.2h0M484.0 86.9h0M458.4 100.2h0M451.1 99.9h0M449.2 100.1h0M466.8 94.1h0M457.2 96.4h0M468.4 88.8h0M455.4 99.8h0M470.3 99.0h0M456.5 98.7h0M460.8 95.4h0M478.1 97.6h0M454.8 87.1h0M457.4 96.3h0M460.4 98.3h0M463.7 93.6h0M461.9 98.3h0M472.0 99.6h0M455.7 92.2h0M455.8 95.1h0M449.7 82.4h0M464.4 98.2h0M475.7 97.3h0M466.8 97.7h0M466.3 97.7h0M454.0 95.2h0M465.7 95.6h0M449.4 91.4h0M449.7 98.5h0M457.5 95.2h0M457.7 93.8h0M463.8 90.5h0M461.1 100.0h0M477.7 94.1h0M464.4 91.7h0M465.8 91.2h0M452.5 91.2h0M465.1 93.4h0M456.6 95.6h0M446.7 97.2h0M449.8 93.5h0M446.0 86.4h0M446.1 94.0h0M462.0 97.1h0M461.1 99.6h0M484.4 99.4h0M465.7 97.0h0M480.5 98.2h0M461.4 93.8h0M454.0 96.6h0M465.5 85.0h0M460.7 99.0h0M465.5 92.4h0M463.1 98.5h0M454.5 91.4h0M469.6 96.4h0M451.3 86.4h0M466.2 80.2h0M440.8 99.0h0M466.0 97.5h0M455.2 95.9h0M484.1 98.8h0M449.1 96.5h0M470.8 94.6h0M456.7 99.5h0M453.3 95.9h0M465.2 68.3h0M470.8 91.1h0M469.7 89.4h0M447.0 98.6h0M450.5 99.9h0M457.7 94.9h0M457.2 98.3h0M451.4 100.0h0M469.3 99.1h0M463.9 89.0h0M466.0 98.2h0M463.9 92.5h0M467.0 93.1h0M451.5 78.5h0M450.8 93.7h0M458.7 98.8h0M434.2 96.6h0M457.8 99.1h0M467.0 98.4h0M467.0 97.9h0M458.4 93.5h0M453.9 98.0h0M457.7 95.2h0M466.8 100.0h0M465.2 100.0h0M447.8 97.3h0M465.3 94.8h0M462.8 99.7h0M467.1 100.1h0M454.6 93.8h0M466.6 89.4h0M464.4 100.5h0M444.4 92.8h0M462.1 94.5h0M466.4 98.0h0M469.8 97.5h0M466.0 90.5h0M448.4 91.2h0M466.0 95.5h0M450.9 92.5h0M463.6 95.9h0M442.0 81.8h0M454.2 99.2h0M463.7 92.9h0M467.8 83.5h0M469.8 77.1h0M447.5 85.4h0M456.5 98.6h0M471.1 89.3h0M456.9 85.9h0M448.9 99.3h0M454.6 100.1h0M456.0 82.4h0M466.2 98.2h0M447.2 94.8h0M462.4 100.5h0M450.6 97.4h0M453.2 99.4h0M458.5 98.0h0M457.4 100.3h0M464.4 94.7h0M450.3 97.2h0M469.5 91.6h0M445.6 96.9h0M471.4 85.3h0M463.3 85.4h0M456.9 100.2h0M441.7 94.7h0M462.5 98.2h0M461.8 96.8h0M471.8 97.3h0M463.8 98.8h0M458.9 97.3h0M474.3 87.6h0M451.4 91.7h0M473.3 85.5h0M450.6 95.6h0M459.9 100.6h0M452.8 100.2h0M452.0 89.7h0M464.2 100.3h0M454.2 85.8h0M454.3 99.1h0M441.9 99.2h0M454.3 97.8h0M465.3 65.7h0M466.5 94.1h0M444.0 99.9h0M446.1 98.2h0M449.9 99.7h0M465.2 82.6h0M458.2 98.2h0M456.9 99.2h0M466.4 90.5h0M468.6 93.6h0M452.1 98.3h0M462.5 93.5h0M456.5 95.7h0M460.4 98.4h0M452.5 90.1h0M463.3 98.8h0M452.2 95.5h0M475.4 100.4h0M474.7 91.6h0M447.1 99.3h0M451.2 93.9h0M469.4 95.9h0M454.0 88.5h0M450.5 99.4h0M464.4 99.4h0M454.5 91.0h0M461.8 90.5h0M469.7 95.0h0M449.1 100.4h0M468.8 87.2h0M469.1 99.5h0M461.2 96.8h0M442.4 90.2h0M451.2 95.5h0M464.1 98.8h0M453.7 98.2h0M461.3 95.8h0M471.8 89.5h0M452.7 98.7h0M471.4 90.6h0M455.4 97.2h0M463.9 100.3h0M465.4 91.3h0M461.2 91.7h0M463.3 98.8h0M462.8 98.3h0M433.3 100.1h0M466.5 92.0h0M465.5 98.7h0M464.0 83.1h0M471.0 97.9h0M457.8 97.3h0M452.7 100.2h0M448.5 94.8h0M472.3 96.6h0M470.6 90.8h0M464.1 97.8h0M469.1 99.1h0M455.9 96.5h0M450.4 93.2h0M457.1 99.1h0M462.1 97.7h0M462.2 100.5h0M451.5 83.9h0M456.3 98.6h0M455.6 97.7h0M462.1 92.3h0M460.9 97.5h0M467.8 86.7h0M472.0 100.2h0M454.9 98.8h0M460.8 100.4h0M454.9 97.0h0M458.1 98.6h0M463.9 93.5h0M465.1 92.5h0M463.9 97.4h0M464.3 97.9h0M448.3 100.3h0M456.4 89.9h0M468.6 98.3h0M442.7 93.0h0M452.8 80.5h0M464.0 100.0h0M467.4 97.4h0M463.1 96.1h0M467.2 99.5h0M465.9 93.5h0M464.3 100.0h0M451.7 94.9h0M460.9 95.4h0M461.7 97.7h0M450.3 97.2h0M463.3 96.5h0M452.0 98.7h0M461.5 95.2h0M455.1 93.5h0M470.7 80.6h0M445.9 95.0h0M465.4 94.3h0M456.6 97.1h0M444.2 97.5h0M465.9 100.3h0M452.0 97.7h0M457.4 99.5h0M465.3 98.9h0M465.0 95.5h0M455.0 93.8h0M444.6 94.3h0M465.6 98.0h0M452.7 86.5h0M446.8 93.1h0M467.2 89.3h0M469.8 95.2h0M460.0 98.4h0M469.8 98.7h0M463.9 99.3h0M460.0 100.1h0M451.8 92.7h0M465.9 96.4h0M463.3 87.6h0M457.0 96.0h0M457.8 97.4h0M466.0 98.0h0M450.0 91.4h0M446.5 97.1h0M467.5 94.3h0M446.5 97.5h0M458.8 98.9h0M455.8 82.3h0M456.3 99.7h0M451.4 97.3h0M463.5 100.3h0M464.9 92.1h0M459.4 100.4h0M454.2 96.3h0M466.2 88.8h0M449.0 97.4h0M449.9 97.4h0M461.7 95.5h0M455.2 99.9h0M463.9 98.7h0M459.3 100.5h0M464.3 99.6h0M464.8 96.3h0M456.5 98.7h0M460.9 98.2h0M487.2 99.3h0M464.3 87.5h0M462.9 97.1h0M451.3 95.4h0M455.5 94.3h0M462.0 89.0h0M464.7 99.4h0M468.2 100.1h0M470.7 95.9h0M461.0 99.1h0M457.8 89.8h0M446.7 92.0h0M449.7 91.1h0M451.7 99.9h0M456.8 98.7h0M464.7 100.4h0M456.5 97.6h0M468.7 89.8h0M450.7 98.5h0M453.2 98.1h0M455.3 99.1h0M462.5 95.5h0M464.3 99.6h0M469.6 96.9h0M458.7 98.1h0M467.0 80.9h0M476.8 91.5h0M450.3 97.2h0M457.7 99.3h0M471.9 98.1h0M454.6 97.7h0M458.9 97.5h0M446.8 99.1h0M471.7 94.2h0M447.3 95.2h0M449.0 96.7h0M454.7 97.1h0M464.2 95.1h0M453.5 100.4h0M452.5 94.8h0M434.6 99.5h0M454.3 98.2h0M473.1 70.7h0M453.1 98.9h0M448.2 89.1h0M456.0 96.0h0M460.8 92.5h0M448.5 89.9h0M462.6 99.2h0M449.5 93.9h0M464.8 96.2h0M449.7 90.2h0M446.5 85.3h0M462.2 99.5h0M456.5 97.9h0M465.0 89.0h0M454.5 88.3h0M483.2 85.6h0M448.3 94.2h0M464.7 92.2h0M470.9 100.5h0M454.8 98.1h0M465.4 92.9h0M462.8 99.7h0M451.0 99.8h0M455.4 94.5h0M454.4 93.0h0M463.1 97.7h0M468.2 94.1h0M468.6 89.5h0M467.0 82.2h0M461.7 92.7h0M472.0 87.2h0M453.9 88.1h0M451.2 97.4h0M463.2 94.6h0M460.8 98.5h0M453.5 80.6h0M471.8 98.8h0M464.6 99.7h0M455.5 97.9h0M469.8 88.3h0M467.1 85.9h0M450.1 97.7h0M450.1 97.9h0M473.6 81.2h0M461.7 97.7h0M454.0 98.1h0M453.6 97.3h0M469.7 96.6h0M454.2 97.6h0M466.0 100.0h0M470.0 93.8h0M448.8 89.8h0M467.6 90.9h0M451.6 87.9h0M450.1 85.9h0M461.4 95.7h0M464.1 90.5h0M469.4 95.2h0M452.8 100.0h0M460.4 98.8h0M457.8 100.2h0M450.4 96.6h0M456.8 99.9h0M464.1 95.8h0M474.1 94.5h0M475.3 100.5h0M462.4 89.5h0M472.9 95.7h0M452.9 99.8h0M481.2 88.4h0M465.6 97.1h0M464.8 84.3h0M449.5 96.3h0M474.2 95.2h0M452.1 85.4h0M464.1 98.7h0M467.6 97.0h0M461.2 96.7h0M448.8 88.9h0M463.8 97.3h0M464.5 99.9h0M454.3 98.9h0M450.8 96.3h0M459.1 100.6h0M469.8 79.6h0M451.1 98.3h0M464.2 94.8h0M469.5 91.5h0M459.4 100.0h0M452.7 97.0h0M462.8 97.3h0M453.1 98.0h0M474.1 93.9h0M447.5 91.3h0M453.9 83.6h0M447.2 100.5h0M454.2 100.6h0M449.2 97.1h0M438.6 100.1h0M460.2 96.8h0M468.0 96.9h0M460.2 98.1h0M454.9 89.0h0M463.4 95.5h0M454.2 80.7h0M455.3 84.0h0M469.3 88.8h0M463.5 87.2h0M458.8 97.5h0M474.3 83.5h0M461.5 90.8h0M466.2 91.8h0M469.2 97.8h0M468.2 97.8h0M453.5 95.1h0M451.2 97.7h0M454.6 98.0h0M458.4 98.9h0M472.9 98.7h0M470.4 89.3h0M449.8 94.4h0M470.5 76.5h0M454.6 98.9h0M465.1 99.9h0M443.9 92.8h0M456.6 95.4h0M454.3 91.2h0M460.9 99.9h0M453.4 95.6h0M458.5 99.8h0M446.7 83.9h0M472.2 97.7h0M453.9 88.0h0M459.3 98.6h0M461.5 98.7h0M466.1 98.7h0M466.7 98.4h0M455.6 96.0h0M454.5 88.1h0M457.9 95.5h0M447.4 84.3h0M477.7 98.7h0M467.3 90.6h0M450.1 96.7h0M449.5 96.0h0M462.2 97.8h0M437.5 82.3h0M456.5 100.1h0M457.3 99.8h0M457.3 98.2h0M461.7 100.1h0M446.7 95.1h0M462.3 90.6h0M464.7 100.1h0M460.9 97.8h0M462.1 99.2h0M467.7 100.1h0M470.5 95.3h0M461.7 98.3h0M438.1 92.8h0M449.0 83.8h0M447.9 82.9h0M457.4 93.1h0M463.6 94.4h0M473.5 99.8h0M444.8 100.4h0M448.0 93.0h0M462.4 89.9h0M453.5 100.1h0M481.2 97.2h0M473.7 97.8h0M461.7 94.9h0M464.0 98.0h0M469.4 86.8h0M459.3 99.5h0M469.2 98.0h0M461.2 93.7h0M471.3 87.0h0M457.1 98.9h0M451.8 93.3h0M472.3 95.6h0M466.3 99.0h0M463.2 99.7h0M474.6 90.5h0M470.9 98.4h0M468.5 89.5h0M456.8 96.1h0M461.8 99.6h0M479.6 87.0h0M466.6 83.3h0M465.7 92.5h0M456.8 93.3h0M469.2 92.2h0M462.5 99.8h0M466.8 82.5h0M461.9 100.3h0M452.4 99.3h0M452.0 95.2h0M463.4 95.8h0M460.8 100.1h0M469.4 91.3h0M454.9 98.0h0M465.7 98.3h0M437.9 94.6h0M452.0 96.5h0M441.6 100.4h0M464.6 97.3h0M462.3 92.0h0M462.3 100.5h0M474.7 93.7h0M466.6 99.3h0M458.7 98.6h0M471.1 97.6h0M457.3 97.7h0M469.1 95.0h0M454.2 98.0h0M444.9 98.9h0M465.9 99.5h0M454.6 98.9h0M466.0 99.5h0M462.8 93.1h0M478.6 95.3h0M460.4 97.5h0M457.7 96.2h0M470.6 96.6h0M447.5 96.1h0M461.2 98.5h0M457.7 100.0h0M466.7 90.2h0M449.0 85.5h0M462.5 81.7h0M464.1 96.3h0M474.9 97.9h0M452.1 99.0h0M444.8 84.5h0M454.7 90.3h0M445.2 99.3h0M460.6 98.3h0M478.3 96.0h0M444.6 90.4h0M471.9 93.9h0M440.9 93.5h0M474.4 98.2h0M457.3 92.9h0M436.2 99.7h0M450.3 100.2h0M447.5 87.2h0M468.2 82.0h0M467.2 97.8h0M457.8 99.5h0M452.7 90.9h0M462.8 95.9h0M452.8 93.8h0M448.1 82.1h0M443.2 98.4h0M474.0 94.3h0M463.1 98.5h0M443.3 96.3h0M455.5 96.4h0M463.2 98.7h0M470.0 98.0h0M453.5 100.3h0M468.3 94.0h0M458.3 97.2h0M468.8 99.8h0M457.8 93.1h0M446.9 82.5h0M486.7 98.7h0M452.3 99.2h0M465.6 100.2h0M450.2 92.4h0M458.0 98.1h0M471.7 96.6h0M439.7 99.9h0M462.8 100.2h0M462.8 98.6h0M451.0 97.0h0M448.8 91.8h0M467.1 94.4h0M462.6 92.6h0M461.6 100.5h0M455.4 97.4h0M462.1 88.2h0M469.7 94.9h0M481.1 98.3h0M469.7 87.6h0M462.0 86.5h0M463.3 90.4h0M468.6 96.9h0M465.8 98.1h0M466.8 91.0h0M466.6 96.4h0M451.4 85.8h0M448.4 90.6h0M452.3 98.3h0M469.0 81.2h0M470.5 93.7h0M482.8 91.1h0M466.2 92.5h0M458.5 97.1h0M466.0 99.0h0M442.0 94.9h0M449.6 88.8h0M451.5 91.3h0M458.7 95.0h0M446.3 95.5h0M458.1 99.6h0M469.3 81.1h0M469.6 95.2h0M457.0 94.2h0M464.1 93.5h0M445.3 99.6h0M434.7 96.6h0M467.0 80.7h0M452.3 91.4h0M455.4 93.0h0M458.0 97.5h0M467.1 100.4h0M454.5 93.7h0M467.6 83.0h0M456.9 99.3h0M463.1 91.9h0M458.3 96.2h0M463.2 87.9h0M456.2 92.7h0M466.8 99.0h0M445.5 98.2h0M453.5 94.5h0M461.7 99.0h0M445.4 96.8h0M467.0 93.3h0M457.7 97.8h0M466.9 87.3h0M461.7 97.7h0M473.4 92.9h0M471.5 88.7h0M462.5 100.3h0M469.1 99.9h0M455.6 92.9h0M466.4 92.9h0M462.7 96.5h0M470.0 97.7h0M460.0 98.4h0M461.9 94.8h0M464.8 99.8h0M451.8 98.2h0M449.8 91.5h0M468.5 96.1h0M469.1 97.4h0M458.7 95.7h0M461.9 86.1h0M457.9 100.4h0M457.6 94.3h0M452.8 88.9h0M461.0 93.0h0M450.0 95.4h0M451.7 98.8h0M452.0 95.5h0M458.3 95.9h0M461.0 100.1h0M459.1 97.4h0M477.3 99.8h0M451.0 91.3h0M454.6 94.9h0M468.6 93.3h0M452.0 96.8h0M462.5 94.1h0M462.9 99.0h0M465.6 91.3h0M453.3 80.1h0M458.0 98.6h0M460.9 92.3h0M463.8 90.2h0M464.5 99.1h0M463.4 80.1h0M456.9 98.7h0M454.2 94.4h0M452.3 100.3h0M456.3 98.7h0M480.9 99.3h0M458.7 98.5h0M465.4 93.3h0M457.2 98.4h0M446.6 92.8h0M457.6 97.5h0M469.0 96.2h0M463.7 95.7h0M467.3 100.4h0M458.6 99.6h0M465.9 84.7h0M449.7 91.2h0M464.6 98.8h0M473.4 87.6h0M444.2 99.2h0M455.2 91.7h0M475.0 92.3h0M464.6 99.5h0M465.3 100.4h0M454.0 100.3h0M462.4 94.6h0M461.0 98.4h0M463.2 99.8h0M448.5 99.4h0M466.2 97.5h0M468.5 97.4h0M463.6 100.3h0M456.1 100.5h0M451.0 94.9h0M466.0 99.7h0M449.7 92.6h0M468.7 100.3h0M459.3 98.4h0M476.1 83.8h0M468.3 97.4h0M450.7 87.6h0M449.2 85.8h0M442.2 86.3h0M455.2 97.3h0M457.9 100.2h0M464.8 98.5h0M449.2 96.8h0M451.8 99.2h0M466.7 99.2h0M462.2 100.6h0M455.3 98.0h0M435.0 100.2h0M446.6 98.9h0M463.6 82.9h0M453.7 98.1h0M454.8 96.6h0M464.0 99.5h0M481.0 94.4h0M455.2 100.4h0M456.2 95.1h0M457.7 96.6h0M475.8 93.1h0M454.8 99.8h0M459.9 100.4h0M457.6 100.2h0M471.7 99.7h0M450.4 99.8h0M450.8 92.2h0M451.0 87.7h0M453.1 76.7h0M473.7 96.5h0M461.1 96.4h0M471.1 96.0h0M449.9 99.7h0M468.6 90.4h0M474.7 96.7h0M462.4 84.2h0M451.6 97.3h0M460.6 100.3h0M461.7 100.1h0M455.0 97.0h0M467.2 91.3h0M463.9 86.4h0M466.6 100.5h0M453.4 99.7h0M472.0 91.6h0M454.3 96.8h0M466.3 100.3h0M463.8 90.8h0M454.3 100.4h0M468.4 90.5h0M466.9 100.3h0M467.3 84.5h0M442.3 93.9h0M468.6 94.4h0M472.5 92.3h0M468.4 96.1h0M475.6 95.5h0M465.3 95.4h0M460.3 99.4h0M445.5 97.1h0M464.7 92.2h0M458.5 99.4h0M464.9 96.2h0M453.4 99.3h0M450.1 94.6h0M449.7 94.4h0M475.6 94.5h0M475.5 93.8h0M467.8 97.2h0M450.5 97.8h0M468.0 90.2h0M474.4 93.9h0M447.6 98.1h0M468.4 98.3h0M452.3 99.8h0M468.6 100.0h0M463.4 91.4h0M476.5 96.4h0M453.5 98.4h0M456.6 100.4h0M463.5 90.1h0M454.9 100.1h0M450.0 94.6h0M460.8 98.1h0M473.2 97.1h0M440.1 84.0h0M470.7 95.1h0M470.7 95.3h0M455.5 100.0h0M456.3 95.0h0M463.0 80.3h0M446.6 90.9h0M467.9 99.5h0M456.9 92.5h0M464.0 95.1h0M474.3 99.6h0M466.5 99.5h0M457.3 96.5h0M458.0 98.5h0M468.2 90.1h0M474.3 95.5h0M450.1 98.6h0M464.6 94.8h0M467.0 99.1h0M461.6 98.7h0M456.0 99.2h0M435.1 95.0h0M460.5 97.5h0M453.0 89.3h0M457.3 89.6h0M463.3 99.1h0M454.2 85.7h0M465.4 96.4h0M453.3 93.8h0M469.2 90.9h0M463.4 97.6h0M456.8 93.1h0M466.7 99.6h0M461.4 97.4h0M457.5 97.0h0M468.2 88.8h0M461.3 98.2h0M464.6 94.8h0M466.4 99.9h0M456.7 91.2h0M472.5 100.0h0M461.5 98.1h0M473.2 96.7h0M457.3 96.5h0M451.3 84.2h0M457.5 99.1h0M456.7 99.8h0M468.9 93.2h0M468.0 85.8h0M467.1 98.4h0M449.0 97.1h0M463.5 100.1h0M463.9 92.1h0M464.5 100.3h0M468.7 95.5h0M453.5 100.5h0M467.8 97.9h0M460.1 100.3h0M461.4 98.3h0M458.3 100.5h0M469.2 97.7h0M456.1 99.9h0M451.5 95.3h0M458.7 96.1h0M447.8 88.9h0M451.0 96.6h0M444.1 95.0h0M457.2 100.3h0M474.8 94.4h0M470.4 96.4h0M467.6 81.4h0M469.8 91.5h0M466.7 92.0h0M443.7 99.0h0M462.6 86.9h0M452.1 92.6h0M468.7 100.2h0M464.1 96.4h0M473.8 99.9h0M472.5 96.8h0M466.2 93.4h0M464.8 96.5h0M441.4 94.7h0M468.0 89.2h0M448.2 98.8h0M456.3 97.8h0M463.4 98.2h0M458.0 92.1h0M459.1 100.3h0M467.6 85.8h0M438.5 99.9h0M454.6 96.5h0M467.3 91.2h0M461.0 93.6h0M473.5 94.0h0M442.3 98.9h0M443.1 81.2h0M451.0 89.4h0M457.8 100.1h0M474.8 100.3h0M441.4 92.1h0M457.8 96.8h0M455.9 93.5h0M452.3 100.1h0M463.7 92.3h0M450.6 96.7h0M460.9 95.5h0M460.3 98.8h0M448.7 99.0h0M466.9 93.3h0M447.6 87.5h0M468.3 97.8h0M458.2 100.1h0M455.1 84.9h0M451.5 94.6h0M450.9 100.5h0M468.0 94.5h0M454.1 100.6h0M448.9 94.8h0M449.3 91.0h0M460.6 97.3h0M474.9 98.0h0M439.1 98.5h0M462.5 99.9h0M468.0 94.7h0M472.9 90.1h0M479.0 95.7h0M465.1 100.5h0M476.4 96.3h0M462.8 98.6h0M458.7 98.4h0M455.0 91.1h0M471.1 91.8h0M459.3 99.7h0M476.4 90.9h0M468.2 95.2h0M470.5 78.2h0M467.8 98.6h0M461.6 93.4h0M463.4 99.0h0M448.2 93.5h0M477.8 70.2h0M472.8 89.3h0M455.5 95.0h0M457.8 99.7h0M474.6 95.7h0M457.5 86.5h0M457.2 96.2h0M460.3 100.3h0M455.5 83.8h0M464.3 92.8h0M468.3 91.0h0M463.8 98.5h0M469.7 86.4h0M471.0 99.2h0M482.5 100.2h0M451.0 100.3h0M467.2 98.3h0M461.0 99.0h0M461.6 97.1h0M451.0 81.0h0M473.6 99.9h0M456.9 94.5h0M457.5 98.9h0M462.1 89.0h0M464.5 84.0h0M462.5 85.0h0M475.9 98.3h0M464.0 100.0h0M449.2 99.1h0M455.0 99.9h0M473.3 100.2h0M466.4 89.4h0M459.0 97.4h0M458.2 95.6h0M464.2 81.5h0M465.6 96.3h0M470.8 95.4h0M466.3 100.3h0M471.8 82.9h0M465.9 92.2h0M461.7 99.7h0M468.3 90.1h0M466.2 93.9h0M449.9 99.7h0M467.6 89.2h0M465.7 98.3h0M450.4 87.5h0M440.4 89.9h0M456.7 89.2h0M457.8 99.0h0M456.8 96.4h0M444.6 98.4h0M451.5 91.4h0M463.4 83.9h0M447.5 93.3h0M466.6 96.0h0M468.5 96.6h0M453.6 97.1h0M472.2 96.6h0M462.2 100.2h0M469.9 99.6h0M462.0 100.2h0M457.2 99.6h0M467.3 94.5h0M451.7 98.5h0M467.3 94.9h0M468.9 99.2h0M471.4 88.6h0M455.8 100.3h0M465.0 97.2h0M461.9 100.5h0M464.3 89.9h0M463.7 95.0h0M471.8 94.4h0M467.5 94.6h0M457.5 91.4h0M477.8 86.2h0M451.4 80.6h0M463.0 98.2h0M464.2 100.3h0M464.8 90.9h0M457.2 91.5h0M450.4 89.2h0M471.8 94.9h0M453.7 97.5h0M455.2 87.7h0M467.4 98.9h0M456.6 88.5h0M450.9 95.9h0M452.6 95.3h0M453.2 98.9h0M468.3 81.6h0M469.2 95.1h0M462.0 90.5h0M460.8 98.9h0M465.0 100.1h0M452.6 99.4h0M450.5 96.4h0M471.9 98.3h0M455.6 92.0h0M466.7 98.4h0M461.4 96.9h0M444.0 80.7h0M471.4 96.2h0M460.0 100.0h0M456.6 94.8h0M448.2 96.9h0M452.0 94.6h0M467.9 95.3h0M456.1 93.3h0M468.3 96.4h0M455.9 96.0h0M455.7 99.3h0M486.9 99.4h0M464.3 87.9h0M464.9 96.6h0M475.2 97.8h0M466.2 95.6h0M463.2 95.4h0M446.3 80.6h0M475.4 98.6h0M465.3 93.8h0M463.1 98.4h0M454.2 97.0h0M452.7 98.6h0M467.3 90.0h0M470.0 76.2h0M462.8 92.5h0M461.2 93.1h0M477.4 87.4h0M450.5 97.3h0M454.3 95.3h0M480.8 91.8h0M446.4 100.2h0M464.8 98.5h0M462.2 88.6h0M462.4 99.4h0M458.8 96.2h0M452.1 93.8h0M469.1 93.4h0M455.3 97.6h0M460.7 96.3h0M456.8 96.2h0M465.7 100.0h0M472.1 99.3h0M458.1 93.0h0M451.1 91.6h0M460.4 96.7h0M469.8 99.3h0M465.5 100.4h0M456.8 95.5h0M466.1 96.8h0M471.9 93.2h0M458.5 95.6h0M456.6 88.8h0M465.6 99.9h0M464.4 96.0h0M471.7 82.0h0M449.8 89.6h0M463.2 96.2h0M449.6 99.7h0M475.2 98.1h0M470.8 97.7h0M468.9 96.3h0M460.4 99.6h0M453.2 98.8h0M455.7 96.9h0M468.1 95.4h0M458.9 96.2h0M452.2 96.4h0M462.5 99.5h0M462.7 99.7h0M469.3 85.2h0M456.7 92.0h0M460.0 100.3h0M455.2 90.8h0M444.9 98.9h0M461.0 95.8h0M455.8 100.1h0M450.0 96.6h0M453.8 95.2h0M452.3 95.7h0M472.6 95.4h0M456.3 99.9h0M453.7 95.4h0M458.6 97.0h0M468.4 86.5h0M451.2 98.2h0M455.6 91.5h0M464.4 89.9h0M437.8 96.8h0M455.3 98.2h0M467.6 95.8h0M458.0 100.5h0M450.5 99.6h0M464.5 77.3h0M467.8 86.8h0M448.1 98.3h0M465.7 89.0h0M466.8 96.1h0M465.5 89.6h0M464.5 93.5h0M454.0 95.0h0M441.9 92.5h0M449.7 95.2h0M456.7 99.3h0M446.9 80.5h0M468.1 100.3h0M455.2 91.3h0M467.2 88.1h0M462.1 96.5h0M464.0 95.0h0M464.6 100.4h0M444.2 91.9h0M470.5 93.6h0M470.7 85.8h0M444.1 80.9h0M460.3 99.3h0M464.7 97.5h0M464.3 97.7h0M467.9 90.3h0M438.8 92.5h0M448.9 92.7h0M449.8 84.7h0M463.2 100.1h0M458.5 98.0h0M460.4 100.1h0M466.4 96.3h0M470.1 93.5h0M477.7 94.4h0M470.3 98.5h0M453.3 80.1h0M453.7 93.4h0M465.8 100.1h0M447.2 93.0h0M464.5 100.0h0M461.3 99.3h0M449.8 99.8h0M461.4 99.5h0M464.7 92.2h0M457.2 98.3h0M468.0 96.0h0M462.3 89.5h0M451.3 89.2h0M465.0 99.5h0M421.5 82.8h0M443.9 92.0h0M465.6 96.4h0M470.8 93.2h0M470.3 98.3h0M450.4 98.4h0M462.3 95.8h0M467.4 100.2h0M451.9 95.6h0M469.9 99.9h0M464.9 93.7h0M463.0 93.7h0M469.3 95.8h0M460.9 98.8h0M463.6 92.0h0M438.2 97.3h0M453.3 100.4h0M457.2 92.1h0M457.8 96.0h0M454.1 83.4h0M468.5 96.2h0M458.8 99.2h0M448.1 95.9h0M463.2 93.8h0M466.3 80.9h0M468.5 99.4h0M458.3 99.3h0M462.6 93.5h0M449.0 81.0h0M464.7 93.8h0M461.3 91.7h0M451.5 92.1h0M470.3 94.7h0M449.2 90.2h0M451.8 94.0h0M463.2 99.8h0M466.9 97.1h0M450.5 100.0h0M456.3 88.6h0M464.8 100.5h0M462.0 98.1h0M457.8 92.0h0M445.3 98.6h0M450.1 85.1h0M458.8 100.0h0M472.5 91.4h0M456.1 90.5h0M454.7 82.3h0M477.0 97.8h0M443.9 94.6h0M444.5 92.3h0M464.1 99.4h0M467.4 98.5h0M467.5 92.0h0M455.9 90.6h0M461.9 88.9h0M463.0 96.6h0M461.6 89.3h0M461.0 100.3h0M468.4 94.6h0M466.5 95.3h0M460.7 98.2h0M454.6 97.6h0M462.4 93.3h0M471.7 91.7h0M457.5 94.8h0M443.0 84.9h0M454.2 90.4h0M464.6 99.7h0M454.9 100.0h0M451.6 90.0h0M461.1 97.9h0M463.9 87.3h0M451.8 100.5h0M458.1 96.7h0M471.1 100.1h0M463.8 84.4h0M463.5 93.3h0M456.6 90.5h0M453.9 84.6h0M458.3 96.0h0M465.0 94.1h0M461.7 100.0h0M456.8 98.4h0M460.4 99.8h0M455.2 84.0h0M470.7 97.3h0M456.9 99.6h0M468.5 89.5h0M447.8 97.0h0M474.7 99.2h0M462.7 100.5h0M458.7 96.0h0M453.4 99.0h0M456.1 100.3h0M455.9 96.7h0M453.6 100.0h0M462.5 99.0h0M470.8 99.3h0M456.0 99.0h0M447.1 98.8h0M456.0 90.0h0M455.4 99.1h0M448.6 94.2h0M460.1 98.9h0M463.8 95.0h0M453.3 87.0h0M461.6 94.3h0M464.5 97.5h0M465.2 98.8h0M453.3 96.7h0M462.2 86.5h0M450.0 90.1h0M448.5 97.8h0M463.9 97.8h0M468.2 92.4h0M455.1 96.1h0M448.3 92.2h0M451.8 91.9h0M441.8 93.6h0M466.6 95.7h0M462.7 96.1h0M461.1 92.5h0M460.9 94.3h0M454.7 93.2h0M468.9 94.4h0M451.7 96.0h0M444.2 87.3h0M452.2 90.0h0M458.2 100.1h0M467.6 83.9h0M449.1 96.3h0M449.3 86.1h0M453.0 100.0h0M462.3 91.5h0M447.5 98.2h0M451.5 100.0h0M473.3 91.9h0M463.2 99.9h0M466.3 98.7h0M456.5 100.0h0M451.2 89.7h0M452.4 97.7h0M441.9 89.8h0M463.2 92.0h0M462.9 96.2h0M457.6 94.0h0M456.1 99.6h0M450.6 95.2h0M456.2 100.3h0M469.8 100.0h0M466.2 98.2h0M455.8 100.1h0M474.4 80.7h0M473.9 94.4h0M448.8 88.4h0M468.9 80.4h0M469.0 96.9h0M466.0 92.8h0M462.8 100.5h0M463.0 95.8h0M457.4 91.0h0M455.5 99.7h0M457.8 100.0h0M450.0 93.7h0M456.0 98.0h0M464.5 97.6h0M473.2 99.2h0M468.5 89.7h0M458.5 95.0h0M467.9 100.0h0M461.7 98.7h0M467.5 95.0h0M458.9 98.8h0M453.5 93.1h0M462.4 99.7h0M451.5 89.0h0M463.3 87.9h0M460.3 97.0h0M471.4 97.8h0M471.7 98.1h0M467.9 88.4h0M453.7 98.8h0M457.8 92.5h0M469.5 98.9h0M454.8 87.7h0M456.9 89.6h0M482.9 100.3h0M446.9 100.4h0M461.3 98.3h0M449.0 95.8h0M473.6 88.9h0M469.7 97.8h0M459.1 100.3h0M461.5 89.6h0M460.8 100.2h0M473.5 100.0h0M453.3 95.0h0M466.4 91.8h0M464.4 69.8h0M444.0 84.6h0M466.4 99.4h0M442.3 86.7h0M456.0 97.8h0M472.5 97.4h0M465.1 89.6h0M439.8 95.1h0M442.5 99.0h0M463.0 92.5h0M457.7 96.9h0M464.0 92.6h0M473.7 80.8h0M472.4 97.2h0M458.3 96.1h0M433.0 88.2h0M461.1 92.0h0M463.7 96.2h0M465.9 85.6h0M464.6 95.6h0M468.0 81.4h0M453.2 100.3h0M470.0 94.5h0M462.1 85.3h0M461.8 98.9h0M466.9 96.9h0M449.9 91.4h0M453.4 97.9h0M462.7 97.8h0M456.2 95.3h0M449.3 96.6h0M462.2 98.5h0M460.9 94.3h0M455.0 94.2h0M444.4 91.0h0M468.7 98.6h0M445.5 77.0h0M464.1 97.9h0M457.9 98.0h0M447.4 94.2h0M460.6 100.6h0M465.4 84.7h0M455.1 90.2h0M452.4 98.4h0M461.5 94.7h0M465.0 73.6h0M448.6 98.5h0M459.0 96.3h0M461.1 97.4h0M467.3 92.9h0M435.1 99.8h0M457.5 93.4h0M461.3 99.1h0M459.7 100.4h0M464.9 99.8h0M467.2 100.1h0M480.1 81.2h0M457.7 99.1h0M452.7 100.5h0M447.9 83.8h0M457.3 98.1h0M455.7 90.6h0M449.1 83.4h0M444.2 100.4h0M453.7 96.3h0M456.3 91.5h0M447.2 100.6h0M460.8 96.9h0M461.0 98.3h0M455.3 93.7h0M470.9 99.8h0M455.6 97.3h0M445.0 87.3h0M454.3 91.9h0M449.0 88.2h0M447.0 99.5h0M457.0 99.2h0M455.9 91.4h0M464.5 94.3h0M454.2 85.1h0M444.6 99.8h0M467.8 95.4h0M454.9 98.9h0M457.4 98.1h0M458.5 100.5h0M467.0 81.2h0M449.8 100.2h0M460.9 96.2h0M457.3 98.9h0M467.4 100.4h0M456.8 88.5h0M459.0 98.8h0M468.1 93.6h0M451.1 96.5h0M464.8 93.0h0M465.9 95.9h0M470.5 99.6h0M444.3 81.0h0M471.5 92.8h0M480.7 91.7h0M458.4 94.0h0M465.1 94.2h0M449.2 93.2h0M455.2 99.1h0M464.7 96.2h0M475.3 99.7h0M466.8 100.0h0M450.9 75.8h0M465.0 99.4h0M471.0 97.2h0M464.8 97.2h0M469.9 96.2h0M445.6 94.9h0M455.2 91.8h0M470.1 96.0h0M450.7 97.5h0M452.7 98.6h0M467.3 100.5h0M448.9 98.1h0M467.4 82.4h0M460.0 97.6h0M472.1 84.1h0M442.3 100.1h0M453.9 89.6h0M461.5 96.0h0M453.3 89.0h0M449.5 97.1h0M450.4 89.0h0M443.6 97.7h0M455.8 97.1h0M448.3 84.2h0M449.3 96.4h0M468.0 100.0h0M462.8 98.5h0M463.8 98.7h0M451.3 95.2h0M469.6 91.3h0M455.9 97.0h0M452.8 84.2h0M464.6 100.2h0M463.4 94.4h0M451.6 99.3h0M452.7 96.0h0M455.9 90.9h0M446.6 96.5h0M451.8 99.8h0M455.0 98.9h0M450.2 98.4h0M460.2 99.5h0M465.3 94.1h0M467.5 84.5h0M460.9 95.0h0M479.5 92.9h0M469.3 95.7h0M478.9 88.8h0M467.6 98.9h0M460.5 98.7h0M465.3 95.7h0M464.8 96.5h0M449.6 95.9h0M465.0 96.7h0M467.3 82.0h0M464.7 97.2h0M454.5 87.8h0M469.3 99.7h0M446.9 99.7h0M465.6 82.4h0M455.1 96.6h0M452.2 96.2h0M450.0 100.1h0M451.0 96.2h0M471.7 91.4h0M452.9 99.8h0M453.3 88.5h0M463.3 100.3h0M451.4 98.3h0M458.8 96.9h0M461.5 93.7h0M465.2 98.0h0M462.4 96.1h0M482.7 98.3h0M458.1 100.6h0M462.1 94.9h0M464.4 70.3h0M458.0 98.8h0M470.9 91.9h0M446.1 98.9h0M457.2 95.7h0M452.0 94.1h0M456.4 95.1h0M469.7 100.5h0M458.8 98.2h0M445.6 99.7h0M456.2 86.9h0M457.0 86.8h0M450.3 96.0h0M453.0 94.7h0M470.4 96.5h0M469.1 98.3h0M456.7 97.0h0M451.7 98.4h0M454.1 98.7h0M450.6 95.5h0M456.4 95.2h0M466.2 97.7h0M461.6 98.6h0M471.7 97.7h0M463.8 85.3h0M452.9 98.5h0M457.2 98.3h0M443.9 100.3h0M453.5 98.6h0M452.7 97.7h0M458.3 93.8h0M449.9 98.7h0M454.6 96.4h0M450.4 83.8h0M454.3 95.0h0M450.5 90.9h0M465.8 98.6h0M456.8 100.5h0M441.6 77.5h0M467.6 99.9h0M441.3 87.0h0M456.2 99.6h0M472.3 100.4h0M466.1 99.2h0M467.8 97.3h0M471.5 85.3h0M470.5 82.6h0M461.4 93.8h0M449.1 98.8h0M473.0 99.7h0M446.4 99.5h0M457.3 97.8h0M468.6 89.3h0M455.0 95.5h0M457.8 97.9h0M438.0 100.2h0M452.6 99.7h0M465.7 96.5h0M457.0 88.5h0M457.8 91.7h0M451.1 98.3h0M461.5 96.9h0M466.2 100.0h0M468.2 99.0h0M462.4 86.7h0M450.8 98.8h0M455.0 97.8h0M458.0 92.4h0M460.8 98.7h0M467.2 98.5h0M457.3 84.7h0M450.6 96.7h0M451.4 95.7h0M448.8 97.5h0M452.0 100.0h0M448.6 96.4h0M467.4 100.3h0M444.2 91.9h0M461.4 96.1h0M449.7 95.8h0M474.6 99.4h0M465.1 87.7h0M463.3 97.7h0M469.7 99.5h0M444.8 86.3h0M458.1 93.1h0M469.3 99.5h0M472.5 95.8h0M465.9 84.4h0M455.0 96.5h0M462.7 96.5h0M462.6 89.1h0M451.2 99.2h0M477.2 97.2h0M446.2 97.6h0M446.0 88.0h0M454.9 99.8h0M461.7 97.7h0M461.1 93.6h0M477.4 93.5h0M458.2 100.3h0M451.5 91.0h0M461.6 99.4h0M451.8 99.1h0M463.8 100.6h0M460.9 98.4h0M456.3 82.5h0M468.4 98.7h0M462.1 94.0h0M473.6 92.3h0M456.0 81.4h0M476.3 84.4h0M480.9 81.0h0M452.1 95.9h0M469.0 95.4h0M473.7 92.7h0M446.0 97.2h0M446.7 92.3h0M462.8 100.0h0M466.5 97.6h0M455.2 97.1h0M462.1 95.4h0M466.2 96.7h0M451.3 91.8h0M444.4 94.2h0M455.2 95.8h0M451.3 97.6h0M464.7 93.3h0M470.5 89.3h0M462.8 98.3h0M464.5 94.4h0M475.9 100.2h0M463.2 100.0h0M455.8 99.5h0M474.0 97.7h0M462.0 96.1h0M469.6 96.3h0M465.0 94.1h0M450.7 96.1h0M467.0 89.8h0M446.2 99.2h0M473.3 96.9h0M457.6 98.5h0M456.5 99.2h0M453.5 97.5h0M457.5 93.1h0M465.1 99.4h0M465.7 90.8h0M467.2 94.9h0M468.7 97.7h0M460.8 100.4h0M463.1 99.9h0M456.3 99.6h0M462.4 93.8h0M452.1 95.5h0M466.2 99.7h0M469.9 93.5h0M445.1 99.9h0M466.4 100.5h0M463.5 94.1h0M444.0 95.8h0M469.9 99.2h0M461.7 91.5h0M466.5 93.2h0M449.6 100.2h0M455.6 88.4h0M441.2 99.9h0M462.1 100.5h0M465.1 96.1h0M445.5 84.4h0M460.9 96.2h0M449.1 99.4h0M483.9 94.2h0M466.3 91.8h0M455.0 97.7h0M456.6 92.4h0M445.3 96.6h0M460.6 93.7h0M456.5 95.8h0M461.9 88.1h0M464.6 99.4h0M461.7 96.2h0M463.7 96.5h0M453.9 99.3h0M448.0 80.7h0M466.0 100.0h0M458.6 100.1h0M457.7 93.7h0M453.1 95.4h0M471.8 98.8h0M464.3 99.8h0M463.1 100.4h0M473.4 99.1h0M452.4 100.3h0M456.5 100.1h0M466.6 96.9h0M461.4 98.0h0M465.2 93.0h0M473.6 98.9h0M455.9 98.6h0M453.5 78.1h0M461.9 91.3h0M464.6 98.4h0M451.3 99.3h0M481.9 100.5h0M470.2 99.0h0M441.1 93.4h0M465.3 100.4h0M454.2 90.4h0M471.0 94.2h0M454.0 89.3h0M445.1 93.8h0M478.2 92.4h0M462.5 100.5h0M458.8 94.7h0M460.5 96.8h0M461.5 97.7h0M437.0 98.6h0M438.1 99.2h0M469.0 99.4h0M463.2 90.7h0M462.2 90.1h0M448.2 99.8h0M473.4 87.4h0M471.2 99.1h0M465.4 92.8h0M457.4 94.0h0M470.9 81.1h0M453.4 90.7h0M458.0 100.0h0M455.2 86.4h0M454.6 97.6h0M464.4 97.7h0M457.7 88.9h0M467.5 95.3h0M470.7 97.5h0M467.3 94.2h0M473.3 91.4h0M464.8 87.4h0M466.6 99.1h0M462.0 95.3h0M468.7 95.4h0M463.6 96.5h0M454.5 98.5h0M460.3 98.7h0M465.7 84.9h0M475.9 96.7h0M477.9 90.7h0M450.4 98.4h0M458.1 95.1h0M461.4 100.2h0M466.3 97.1h0M457.0 99.7h0M467.0 99.2h0M467.1 90.0h0M453.5 98.2h0M457.3 96.4h0M460.9 96.2h0M467.4 98.2h0M462.7 100.4h0M456.3 95.7h0M468.3 87.3h0M466.7 88.4h0M445.5 97.5h0M467.5 83.7h0M464.5 88.9h0M470.6 90.0h0M450.1 81.7h0M455.6 97.0h0M467.6 88.1h0M454.1 93.5h0M472.4 94.3h0M457.4 96.4h0M456.1 92.1h0M462.9 89.5h0M454.0 95.7h0M473.9 97.8h0M453.4 100.4h0M463.1 96.1h0M443.8 100.5h0M471.6 83.2h0M450.1 82.4h0M465.9 75.9h0M451.9 95.9h0M465.8 95.7h0M461.2 98.8h0M466.2 96.5h0M456.1 91.9h0M462.4 98.9h0M451.6 100.0h0M461.4 98.8h0M444.4 95.2h0M479.6 91.8h0M471.0 91.9h0M459.9 99.8h0M455.1 98.9h0M448.0 90.6h0M460.5 94.8h0M456.4 96.6h0M468.5 99.2h0M464.1 95.0h0M453.2 96.1h0M451.6 100.3h0M452.6 97.4h0M461.6 100.4h0M447.5 95.9h0M465.4 95.3h0M467.1 100.4h0M463.9 97.0h0M450.5 82.3h0M461.3 94.8h0M440.6 89.9h0M465.7 93.0h0M475.3 92.7h0M461.8 98.4h0M449.3 93.5h0M450.9 95.5h0M461.7 95.5h0M465.0 94.2h0M455.9 95.2h0M456.7 92.4h0M469.7 78.6h0M450.8 96.8h0M463.0 97.9h0M449.3 95.9h0M466.3 88.9h0M471.2 100.6h0M462.9 100.0h0M461.0 91.5h0M467.4 87.2h0M452.3 99.7h0M455.5 99.7h0M448.9 98.8h0M476.8 98.8h0M452.6 98.9h0M461.2 97.3h0M455.2 86.3h0M455.1 99.7h0M444.6 96.8h0M445.7 100.2h0M466.7 93.9h0M472.4 98.2h0M448.1 89.8h0M464.7 96.8h0M436.3 99.2h0M462.8 100.4h0M469.4 97.5h0M466.5 93.4h0M463.7 92.9h0M470.5 95.4h0M463.9 85.1h0M461.9 98.3h0M462.3 96.3h0M461.7 99.4h0M459.9 98.4h0M457.3 98.7h0M450.7 94.8h0M445.7 83.2h0M454.9 100.1h0M473.2 95.7h0M465.5 81.5h0M444.4 96.5h0M471.4 96.8h0M451.3 92.0h0M453.5 95.3h0M458.2 99.0h0M465.7 100.4h0M464.6 99.1h0M448.5 99.9h0M450.3 91.7h0M449.7 100.4h0M453.8 87.3h0M449.3 76.3h0M448.9 88.6h0M445.7 99.2h0M476.0 89.7h0M450.8 99.4h0M451.2 99.4h0M471.7 97.3h0M472.0 92.9h0M460.2 98.8h0M457.7 94.5h0M453.1 94.6h0M457.7 95.8h0M457.9 93.6h0M453.5 77.2h0M455.3 97.1h0M464.4 81.9h0M462.0 93.3h0M465.4 94.3h0M449.8 99.1h0M450.6 98.9h0M449.5 82.8h0M453.8 92.5h0M458.7 95.7h0M457.4 100.4h0M461.9 100.0h0M443.9 91.0h0M457.9 98.3h0M471.1 95.5h0M458.8 97.5h0M440.5 93.9h0M462.6 99.8h0M464.6 96.1h0M442.5 100.5h0M468.7 76.4h0M449.9 97.5h0M466.9 93.0h0M454.6 96.7h0M478.7 95.9h0M471.4 91.0h0M456.7 96.1h0M463.0 93.0h0M464.0 95.6h0M454.2 82.2h0M453.7 95.6h0M444.7 97.3h0M476.8 98.1h0M452.0 97.6h0M461.4 98.2h0M458.2 96.8h0M472.9 90.4h0M461.2 96.5h0M473.2 97.9h0M460.4 94.6h0M461.0 98.5h0M465.0 100.6h0M462.7 98.3h0M457.1 100.0h0M457.4 98.7h0M462.0 99.2h0M475.4 97.6h0M469.8 95.0h0M457.3 85.5h0M465.8 99.5h0M453.7 98.4h0M462.4 98.7h0M461.8 99.8h0M469.1 93.6h0M448.2 99.2h0M451.7 96.6h0M448.4 98.7h0M455.5 97.6h0M474.1 92.6h0M463.7 90.6h0M453.9 95.9h0M466.0 100.4h0M452.2 95.5h0M448.2 92.4h0M466.0 99.5h0M457.2 96.0h0M460.9 96.5h0M447.6 95.4h0M453.5 93.7h0M440.5 83.1h0M470.1 94.9h0M463.3 88.2h0M451.9 98.2h0M457.0 100.2h0M455.1 87.9h0M464.9 91.6h0M448.7 91.7h0M456.1 99.1h0M461.9 92.8h0M455.1 94.5h0M463.4 98.5h0M459.3 100.0h0M465.4 96.9h0M463.1 89.6h0M463.7 98.3h0M463.1 96.2h0M463.2 86.5h0M449.9 92.3h0M466.5 99.0h0M481.6 95.9h0M462.4 94.1h0M465.2 97.7h0M486.1 96.6h0M474.3 88.4h0M467.6 98.9h0M467.3 97.8h0M462.9 91.8h0M476.4 91.4h0M454.9 90.8h0M454.8 90.4h0M462.2 95.0h0M455.1 91.2h0M450.4 85.9h0M462.2 86.5h0M468.6 96.6h0M452.1 97.6h0M464.9 86.2h0M456.2 84.5h0M462.6 80.7h0M449.6 97.7h0M445.2 94.8h0M471.8 85.9h0M458.1 98.0h0M455.2 93.9h0M459.8 100.3h0M464.2 99.1h0M463.7 96.9h0M458.6 98.7h0M463.7 97.2h0M466.4 91.0h0M454.0 99.3h0M470.1 96.2h0M455.2 99.5h0M467.2 94.1h0M444.5 96.8h0M465.7 88.2h0M482.3 98.6h0M450.1 95.3h0M462.1 98.7h0M465.4 93.3h0M464.1 96.5h0M453.5 95.9h0M463.8 86.4h0M451.7 97.8h0M466.9 97.5h0M452.3 89.2h0M468.9 96.0h0M452.6 94.7h0M447.9 90.1h0M458.0 99.7h0M473.5 86.1h0M457.3 100.2h0M461.1 98.1h0M450.6 85.1h0M463.6 93.1h0M476.7 79.4h0M453.8 93.9h0M449.7 100.2h0M464.9 94.6h0M464.3 99.6h0M454.8 99.1h0M450.9 98.0h0M478.1 97.1h0M460.7 97.6h0M470.5 96.5h0M451.9 93.8h0M458.4 97.2h0M465.8 99.8h0M454.3 98.3h0M472.0 99.6h0M450.6 100.2h0M460.0 98.8h0M450.1 99.6h0M467.9 98.1h0M458.7 98.5h0M466.2 88.8h0M458.5 100.6h0M462.4 96.1h0M445.5 95.0h0M461.1 100.4h0M456.5 88.7h0M460.6 99.2h0M458.4 98.0h0M454.9 91.5h0M467.1 99.5h0M458.7 99.2h0M465.0 77.0h0M474.5 96.9h0M452.2 84.2h0M477.6 98.5h0M473.5 69.5h0M451.9 93.4h0M454.8 99.1h0M472.8 97.3h0M452.8 92.8h0M455.2 90.9h0M466.8 96.8h0M460.6 95.2h0M464.2 99.7h0M464.8 99.1h0M463.2 91.1h0M461.2 100.1h0M474.7 81.8h0M467.2 98.3h0M459.9 99.9h0M442.5 91.6h0M477.0 97.7h0M451.8 98.5h0M466.2 90.3h0M453.2 100.4h0M465.7 87.0h0M461.1 99.3h0M452.9 100.6h0M457.7 96.8h0M466.8 85.7h0M463.9 98.1h0M468.8 79.7h0M470.6 97.7h0M464.1 92.3h0M454.8 99.5h0M464.9 83.4h0M457.0 91.5h0M467.0 99.6h0M479.3 75.6h0M463.1 93.8h0M457.2 92.6h0M446.6 99.0h0M458.0 90.4h0M454.5 100.5h0M460.8 93.8h0M447.9 95.3h0M446.1 88.0h0M461.6 95.9h0M442.9 100.4h0M445.5 99.2h0M453.1 99.2h0M446.8 100.5h0M462.2 92.6h0M465.1 91.8h0M464.6 99.4h0M460.4 99.5h0M465.9 99.9h0M463.6 99.3h0M458.8 100.1h0M462.0 99.8h0M450.6 99.6h0M479.5 100.0h0M456.9 99.4h0M456.0 91.1h0M452.6 97.0h0M455.3 96.3h0M466.1 96.9h0M469.2 97.0h0M469.7 84.5h0M462.8 94.6h0M465.0 93.4h0M454.7 100.1h0M449.5 100.2h0M451.8 94.8h0M467.0 96.8h0M456.6 94.9h0M466.3 95.3h0M461.6 87.9h0M469.4 86.3h0M463.8 100.1h0M468.7 88.0h0M465.8 99.2h0M458.0 96.7h0M445.0 94.8h0M468.1 84.5h0M456.1 90.0h0M473.1 93.6h0M455.5 83.3h0M465.5 99.3h0M458.0 94.2h0M457.9 94.4h0M458.1 100.4h0M464.9 90.0h0M464.4 96.5h0M470.7 95.6h0M464.9 100.2h0M469.6 86.6h0M452.4 100.5h0M449.6 96.8h0M473.7 93.3h0M465.9 96.9h0M467.3 94.1h0M453.6 99.3h0M456.0 92.2h0M455.3 94.3h0M445.3 89.2h0M452.1 82.5h0M462.2 95.9h0M466.7 98.6h0M467.9 99.3h0M451.9 90.1h0M453.9 83.4h0M464.0 83.7h0M454.5 99.6h0M462.2 86.9h0M472.2 100.6h0M470.4 95.1h0M472.7 97.1h0M444.7 97.1h0M465.6 90.6h0M454.7 98.9h0M470.9 86.0h0M452.6 91.6h0M466.3 96.4h0M469.5 85.2h0M469.4 97.1h0M464.6 99.1h0M453.7 91.7h0M470.2 97.6h0M447.3 94.3h0M466.6 89.2h0M458.4 94.0h0M473.3 90.0h0M450.9 97.6h0M446.2 95.3h0M453.5 92.0h0M462.4 91.0h0M461.9 95.2h0M452.9 93.5h0M462.8 98.6h0M468.9 91.4h0M446.1 98.7h0M468.7 99.8h0M465.4 100.3h0M449.1 98.4h0M457.8 100.3h0M444.2 98.1h0M446.8 84.1h0M453.2 83.4h0M464.7 93.5h0M458.8 97.0h0M458.7 96.3h0M453.5 95.1h0M463.6 99.2h0M461.3 97.8h0M470.0 80.7h0M467.5 86.6h0M464.4 88.0h0M467.4 94.2h0M452.3 93.5h0M462.0 92.6h0M447.2 84.8h0M470.1 97.9h0M470.7 96.9h0M452.3 91.6h0M469.9 96.6h0M445.1 90.5h0M463.6 90.6h0M464.1 94.9h0M450.6 98.3h0M460.1 97.2h0M461.5 97.6h0M461.4 95.8h0M456.5 92.9h0M456.2 91.6h0M462.1 94.6h0M464.9 93.1h0M477.4 96.1h0M449.8 97.4h0M451.0 81.6h0M466.7 96.3h0M460.1 99.0h0M457.0 86.1h0M455.5 89.2h0M466.7 100.3h0M458.7 97.7h0M444.3 78.6h0M466.3 84.4h0M456.2 98.6h0M448.8 90.1h0M467.9 91.0h0M467.0 94.9h0M465.4 97.8h0M467.8 95.9h0M467.0 92.8h0M445.0 96.3h0M461.2 91.7h0M460.3 96.6h0M463.4 96.4h0M456.4 96.6h0M463.7 96.9h0M461.9 95.6h0M448.1 92.4h0M466.6 100.6h0M446.6 91.1h0M462.0 83.8h0M468.2 100.0h0M455.1 98.6h0M474.4 91.3h0M461.4 94.0h0M462.6 87.0h0M466.4 85.5h0M464.1 97.0h0M451.8 99.8h0M478.5 97.1h0M465.8 96.2h0M449.0 94.3h0M457.4 98.5h0M447.4 86.8h0M444.9 96.6h0M460.3 99.8h0M452.7 99.8h0M471.9 100.2h0M465.1 100.5h0M473.0 92.5h0M454.4 99.6h0M454.6 82.9h0M467.5 96.7h0M464.5 90.6h0M466.8 91.3h0M458.7 99.8h0M476.7 96.1h0M474.5 97.8h0M460.0 98.5h0M449.4 96.5h0M451.7 97.8h0M452.8 94.7h0M457.3 97.7h0M464.9 99.8h0M472.9 88.4h0M454.6 99.0h0M456.8 87.9h0M455.4 100.1h0M461.1 98.0h0M462.8 95.3h0M443.6 92.8h0M462.7 87.3h0M465.3 97.8h0M466.1 98.8h0M447.7 99.9h0M473.1 98.6h0M471.5 100.0h0M469.2 97.6h0M467.9 92.8h0M480.6 83.6h0M453.1 96.8h0M458.9 95.9h0M469.6 87.3h0M473.0 98.3h0M461.5 96.0h0M477.2 97.4h0M456.9 98.1h0M450.1 97.8h0M442.4 89.0h0M448.5 99.0h0M463.6 87.3h0M477.2 89.5h0M467.9 81.9h0M453.2 94.3h0M467.2 98.3h0M455.1 98.9h0M471.9 95.6h0M444.3 99.6h0M456.2 97.1h0M450.5 92.4h0M466.8 99.4h0M467.0 90.3h0M465.5 97.7h0M463.2 98.6h0M460.6 98.5h0M464.6 93.8h0M461.4 89.5h0M453.5 100.1h0M451.2 100.3h0M466.8 96.7h0M460.3 96.6h0M463.9 96.2h0M477.0 94.5h0M475.1 84.1h0M466.4 89.7h0M465.8 85.0h0M456.6 96.0h0M454.7 98.7h0M447.0 75.0h0M448.4 90.8h0M469.1 90.2h0M477.2 98.9h0M472.6 89.7h0M441.7 92.6h0M477.9 94.7h0M456.9 88.3h0M464.3 95.8h0M448.5 99.2h0M465.7 97.4h0M457.6 96.0h0M458.3 97.7h0M466.1 91.3h0M449.6 94.9h0M456.3 98.7h0M460.8 96.9h0M462.4 92.6h0M453.4 94.9h0M456.0 100.0h0M470.0 100.5h0M436.9 100.3h0M451.0 94.8h0M467.6 99.7h0M460.4 100.5h0M454.0 83.7h0M469.8 92.1h0M463.4 93.0h0M454.1 95.0h0M466.3 95.2h0M456.6 87.6h0M453.1 98.6h0M455.8 92.9h0M469.7 97.4h0M447.5 88.2h0M471.8 87.7h0M465.0 98.5h0M462.5 100.2h0M460.3 99.5h0M446.8 90.1h0M460.7 99.3h0M468.7 86.3h0M463.3 99.0h0M473.2 92.0h0M480.6 92.6h0M482.4 91.1h0M469.3 91.9h0M455.5 100.5h0M460.8 99.0h0M449.0 95.6h0M453.7 100.3h0M461.1 89.9h0M458.5 99.1h0M454.9 98.6h0M463.0 99.8h0M464.6 91.5h0M455.0 99.2h0M461.4 89.7h0M457.0 100.5h0M448.6 80.7h0M453.8 97.7h0M464.4 94.4h0M465.6 96.8h0M443.5 98.2h0M468.7 73.4h0M453.7 92.8h0M454.2 97.2h0M449.1 100.6h0M463.1 86.9h0M442.5 88.3h0M453.6 89.1h0M462.8 98.8h0M455.7 90.8h0M464.6 100.5h0M456.4 86.6h0M442.4 99.9h0M448.5 85.1h0M446.9 82.7h0M450.5 89.5h0M457.1 88.8h0M479.7 87.2h0M460.7 97.9h0M457.7 87.3h0M455.1 96.2h0M462.5 83.1h0M464.2 93.7h0M468.8 92.5h0M460.3 97.9h0M455.1 89.1h0M467.3 97.3h0M452.3 94.2h0M452.2 97.7h0M474.0 92.9h0M435.1 83.7h0M469.0 100.2h0M454.8 90.3h0M456.4 88.0h0M465.6 83.5h0M465.1 86.1h0M450.0 87.1h0M462.0 99.1h0M462.8 99.7h0M456.4 100.4h0M455.7 94.4h0M454.1 96.2h0M453.6 100.3h0M466.6 99.1h0M460.8 95.6h0M462.4 96.4h0M460.6 98.6h0M462.7 96.2h0M451.8 78.6h0M467.8 95.8h0M475.4 96.4h0M458.7 100.1h0M451.9 98.3h0M455.1 97.6h0M449.3 82.6h0M444.8 100.0h0M466.0 98.7h0M476.7 92.7h0M470.1 95.1h0M444.2 99.2h0M480.9 94.5h0M468.1 87.4h0M457.9 98.8h0M457.1 98.2h0M458.2 94.7h0M475.3 90.5h0M468.1 96.8h0M455.3 95.7h0M461.6 91.7h0M456.5 97.1h0M477.6 86.5h0M458.8 100.4h0M474.4 95.6h0M454.7 90.8h0M454.1 95.9h0M447.8 92.5h0M458.0 99.4h0M471.0 96.6h0M463.8 98.7h0M462.6 97.2h0M442.4 98.5h0M465.2 99.9h0M445.5 89.9h0M459.9 98.7h0M465.6 98.2h0M448.9 99.4h0M466.1 100.3h0M464.4 97.2h0M449.2 90.4h0M466.6 88.6h0M445.7 96.5h0M462.0 99.7h0M463.1 94.3h0M458.7 97.9h0M470.5 86.1h0M464.8 97.4h0M469.0 96.7h0M469.6 87.3h0M454.4 99.1h0M473.4 87.4h0M466.7 94.0h0M469.3 87.3h0M467.9 96.4h0M464.8 97.8h0M457.0 100.1h0M458.0 94.7h0M451.9 97.9h0M470.8 98.8h0M447.9 96.0h0M458.5 98.0h0M460.9 92.5h0M452.0 88.0h0M449.7 95.7h0M457.9 100.5h0M474.9 95.9h0M452.9 96.0h0M454.5 98.8h0M464.9 94.0h0M454.5 99.6h0M449.8 82.1h0M478.4 100.0h0M465.1 96.8h0M461.1 93.9h0M462.6 95.8h0M455.2 88.6h0M471.0 100.4h0M454.7 99.1h0M455.2 98.7h0M463.0 99.1h0M470.8 99.4h0M465.2 93.5h0M449.2 95.2h0M461.7 97.6h0M455.4 81.3h0M461.6 92.9h0M451.3 96.9h0M454.0 100.4h0M457.5 90.5h0M461.1 97.8h0M458.6 99.6h0M462.4 96.3h0M456.7 91.6h0M471.8 84.2h0M465.9 87.0h0M462.0 96.2h0M451.9 99.9h0M465.0 96.1h0M460.9 97.8h0M467.0 97.7h0M472.2 100.5h0M453.9 86.3h0M469.0 100.1h0M439.4 91.9h0M452.5 100.6h0M458.5 100.1h0M452.4 100.4h0M468.4 92.8h0M450.9 91.8h0M452.5 93.6h0M469.8 85.9h0M463.8 97.3h0M470.7 94.6h0M450.4 100.0h0M463.9 97.3h0M463.0 97.9h0M479.4 90.3h0M462.8 100.3h0M461.9 92.9h0M472.3 93.4h0M456.2 92.6h0M467.3 99.9h0M466.7 78.0h0M449.4 96.6h0M466.1 89.6h0M465.5 99.5h0M475.2 93.9h0M457.7 97.9h0M463.9 89.4h0M462.7 91.6h0M466.9 93.6h0M470.2 99.8h0M451.5 98.7h0M466.0 99.2h0M460.4 95.7h0M458.3 97.2h0M468.0 96.0h0M455.7 100.1h0M444.8 85.2h0M463.8 96.1h0M453.0 98.1h0M466.5 97.7h0M463.2 94.0h0M450.6 100.0h0M454.4 99.7h0M452.0 98.6h0M456.4 98.8h0M459.1 98.3h0M457.7 94.6h0M470.0 98.4h0M466.8 93.6h0M462.2 99.3h0M451.7 100.4h0M476.9 93.7h0M474.0 87.7h0M460.5 96.6h0M473.2 98.1h0M459.8 100.5h0M457.2 85.9h0M461.2 100.5h0M468.0 98.9h0M475.0 75.0h0M464.5 94.2h0M455.8 91.5h0M462.7 87.9h0M465.3 96.3h0M460.1 97.9h0M464.4 100.1h0M457.5 99.7h0M473.9 97.0h0M468.3 99.0h0M471.3 88.8h0M454.4 88.2h0M473.3 90.1h0M463.9 87.7h0M469.1 100.4h0M442.4 99.8h0M466.9 97.0h0M455.8 98.1h0M462.8 96.3h0M446.7 85.3h0M472.1 99.6h0M465.3 87.5h0M461.9 95.9h0M449.5 100.5h0M453.2 87.2h0M467.4 100.3h0M455.7 97.6h0M458.5 96.5h0M475.1 99.3h0M469.6 99.2h0M450.2 98.4h0M449.3 85.7h0M463.1 89.4h0M462.5 98.9h0M466.3 98.7h0M447.3 95.5h0M467.5 93.1h0M463.7 95.0h0M473.8 96.6h0M465.4 94.3h0M460.0 98.2h0M487.1 100.1h0M463.6 98.3h0M467.2 72.3h0M453.1 94.2h0M443.1 93.0h0M451.5 99.9h0M471.9 84.7h0M443.0 94.0h0M444.7 89.0h0M449.0 97.5h0M474.2 97.2h0M447.3 90.4h0M463.6 90.7h0M452.5 97.4h0M472.9 98.2h0M453.0 90.6h0M456.0 93.3h0M465.9 94.3h0M460.3 99.9h0M461.8 99.6h0M464.2 100.2h0M463.3 98.2h0M452.6 99.5h0M455.6 98.9h0M465.4 98.5h0M461.6 100.6h0M461.7 98.9h0M455.6 97.6h0M453.2 97.5h0M467.1 92.8h0M453.1 95.0h0M453.3 100.1h0M445.8 99.7h0M468.0 98.0h0M464.6 95.7h0M445.9 98.2h0M447.7 93.7h0M457.8 96.7h0M447.2 90.1h0M464.2 100.4h0M458.6 100.1h0M444.9 96.7h0M466.7 87.5h0M449.0 99.9h0M461.7 97.8h0M449.9 98.8h0M449.9 98.7h0M458.1 97.5h0M455.0 89.1h0M460.4 96.1h0M457.9 97.8h0M466.4 96.2h0M456.8 91.9h0M474.3 98.2h0M458.5 96.1h0M466.1 99.8h0M461.9 97.4h0M455.8 100.5h0M468.5 95.4h0M448.5 95.5h0M465.9 96.1h0M466.2 86.4h0M452.6 100.1h0M461.8 100.5h0M451.7 98.1h0M451.2 84.0h0M456.6 100.5h0M455.2 94.3h0M458.8 95.2h0M463.4 97.8h0M465.5 95.5h0M448.3 88.9h0M467.2 87.4h0M448.9 97.8h0M465.2 98.2h0M468.3 95.8h0M458.4 95.2h0M476.4 98.6h0M449.8 86.6h0M452.6 99.4h0M450.6 98.3h0M469.3 94.0h0M468.8 99.4h0M458.0 100.4h0M454.1 72.7h0M462.8 94.7h0M460.4 96.4h0M464.3 93.1h0M451.3 98.0h0M461.6 92.7h0M442.9 96.1h0M480.6 83.4h0M463.4 97.8h0M460.6 98.2h0M446.5 88.8h0M465.6 99.0h0M464.5 99.3h0M466.1 89.4h0M450.5 76.4h0M448.7 98.8h0M450.6 98.0h0M456.6 93.1h0M465.7 97.5h0M475.6 96.5h0M464.7 99.3h0M465.9 83.4h0M453.2 98.0h0M468.9 99.7h0M454.4 99.3h0M467.5 89.0h0M464.1 92.6h0M451.2 98.8h0M477.6 92.4h0M458.7 98.3h0M467.8 99.7h0M462.7 98.5h0M465.8 95.5h0M449.6 92.3h0M465.0 94.4h0M469.4 85.9h0M459.8 100.1h0M463.7 97.0h0M449.6 96.7h0M450.9 97.1h0M477.4 97.4h0M472.7 94.7h0M469.8 84.5h0M463.2 95.5h0M444.8 99.3h0M462.6 97.1h0M447.2 98.1h0M448.4 99.6h0M449.5 96.2h0M466.1 99.1h0M469.1 95.4h0M450.0 99.2h0M439.2 97.0h0M452.9 75.1h0M444.5 90.3h0M464.4 99.4h0M462.9 85.5h0M462.2 97.8h0M474.7 99.3h0M454.8 96.4h0M471.4 89.9h0M457.6 99.5h0M463.3 84.6h0M460.0 97.9h0M451.8 99.9h0M464.3 100.3h0M476.6 99.9h0M456.2 97.8h0M469.3 94.8h0M467.8 88.5h0M462.0 95.1h0M458.1 97.1h0M454.7 89.0h0M458.5 99.3h0M469.1 99.8h0M468.6 88.5h0M467.3 99.9h0M464.1 99.5h0M463.0 90.9h0M451.4 98.7h0M461.1 97.6h0M464.1 95.5h0M466.3 85.9h0M467.3 97.5h0M464.1 97.8h0M461.4 100.1h0M463.7 99.2h0M456.5 95.0h0M462.6 98.5h0M448.3 87.7h0M462.2 99.6h0M461.6 86.5h0M450.5 96.1h0M463.5 85.0h0M451.9 73.3h0M458.8 98.8h0M458.1 96.4h0M466.7 87.4h0M455.6 89.6h0M468.7 88.6h0M453.8 84.5h0M465.4 90.3h0M467.9 95.7h0M451.7 97.7h0M466.4 85.2h0M455.8 100.6h0M469.1 99.1h0M454.1 100.6h0M460.2 97.1h0M465.4 99.3h0M462.4 96.7h0M465.0 76.9h0M461.9 92.5h0M466.9 94.8h0M457.4 97.2h0M473.8 86.1h0M465.5 96.6h0M456.6 94.7h0M449.3 98.8h0M467.5 92.6h0M451.6 97.5h0M446.9 98.4h0M462.2 97.1h0M454.6 91.0h0M462.8 82.8h0M469.6 97.7h0M467.3 97.6h0M479.1 88.6h0M464.5 96.9h0M463.3 100.2h0M461.5 98.8h0M450.8 95.3h0M453.8 97.2h0M464.1 98.8h0M455.1 96.2h0M452.9 91.5h0M455.0 94.1h0M477.2 84.1h0M467.5 98.1h0M464.0 98.9h0M463.6 98.5h0M466.7 74.9h0M458.2 99.0h0M489.4 89.7h0M464.3 100.3h0M455.2 90.1h0M452.4 97.3h0M461.5 90.9h0M470.1 99.4h0M460.4 100.5h0M458.1 95.2h0M477.3 96.2h0M448.9 94.3h0M460.7 98.4h0M460.7 98.9h0M451.0 100.4h0M442.1 97.1h0M455.1 98.5h0M467.2 100.5h0M452.8 99.8h0M470.7 97.8h0M473.3 88.5h0M456.8 98.6h0M464.9 100.1h0M465.8 99.6h0M462.0 97.7h0M445.3 94.7h0M451.3 96.0h0M444.7 81.8h0M474.2 100.1h0M462.6 91.3h0M458.2 90.9h0M451.4 99.5h0M451.9 97.2h0M451.7 82.4h0M464.0 98.4h0M457.6 96.9h0M463.1 90.3h0M458.9 96.9h0M474.0 100.3h0M476.6 98.2h0M466.3 80.4h0M452.3 92.4h0M447.0 98.8h0M464.0 97.7h0M460.7 99.7h0M469.0 99.9h0M465.3 100.2h0M454.5 100.4h0M455.0 97.9h0M462.6 96.5h0M444.7 94.5h0M463.8 100.1h0M465.8 100.3h0M442.6 91.8h0M461.6 99.2h0M462.5 94.8h0M458.8 97.6h0M462.2 90.3h0M444.2 92.6h0M444.4 98.1h0M456.2 100.5h0M457.0 98.3h0M470.2 89.3h0M456.5 94.6h0M455.9 97.1h0M465.6 84.3h0M468.3 98.0h0M458.3 96.0h0M457.5 100.6h0M461.2 98.2h0M440.6 96.5h0M462.4 95.1h0M456.0 91.2h0M471.6 96.8h0M471.1 100.2h0M452.7 98.5h0M472.4 97.7h0M456.3 98.7h0M456.4 92.8h0M449.2 93.5h0M448.8 97.2h0M456.3 95.9h0M461.1 95.9h0M463.9 99.4h0M467.4 93.7h0M457.2 99.0h0M455.8 88.7h0M455.9 94.2h0M478.6 89.6h0M458.2 100.2h0M457.5 95.9h0M457.3 94.0h0M460.2 96.6h0M456.4 94.6h0M461.9 95.1h0M466.6 98.7h0M453.2 98.3h0M469.2 88.8h0M461.2 95.8h0M454.7 92.4h0M462.8 98.5h0M464.1 90.8h0M456.3 99.8h0M452.9 100.5h0M445.9 96.7h0M459.0 99.8h0M466.3 97.4h0M463.7 98.0h0M463.1 85.3h0M449.4 94.7h0M460.6 99.3h0M463.9 98.9h0M454.2 99.2h0M463.5 97.7h0M455.7 99.2h0M458.0 98.5h0M455.4 98.5h0M451.2 97.4h0M453.5 98.8h0M471.3 99.3h0M464.0 98.2h0M459.8 99.5h0M455.5 99.2h0M456.0 92.9h0M471.3 85.3h0M454.8 81.5h0M467.7 100.0h0M462.3 92.3h0M462.2 89.3h0M460.0 98.0h0M474.3 91.4h0M451.9 96.3h0M472.4 99.4h0M467.6 87.3h0M456.6 97.4h0M445.9 91.3h0M465.1 98.5h0M472.4 95.9h0M454.6 97.1h0M471.9 98.9h0M445.9 84.7h0M460.8 100.3h0M468.0 85.2h0M450.9 97.9h0M455.5 100.3h0M463.1 94.0h0M456.3 98.6h0M475.0 100.2h0M452.2 97.4h0M464.3 95.1h0M470.6 87.9h0M462.3 87.5h0M462.4 99.5h0M457.2 98.7h0M460.2 96.6h0M456.5 90.3h0M470.3 95.5h0M442.4 96.7h0M472.1 82.4h0M452.3 97.9h0M460.6 100.1h0M461.6 94.2h0M460.8 100.4h0M458.6 95.9h0M455.5 99.6h0M443.5 87.9h0M472.7 87.1h0M460.2 100.5h0M458.7 96.9h0M452.1 97.3h0M464.7 94.6h0M461.0 97.1h0M453.3 90.5h0M454.1 98.4h0M463.5 91.7h0M468.2 98.0h0M464.1 100.3h0M458.4 95.5h0M460.4 97.2h0M466.6 90.2h0M459.0 98.2h0M463.3 100.4h0M460.2 99.0h0M440.4 99.8h0M479.2 98.7h0M464.8 97.4h0M472.9 94.4h0M462.9 99.0h0M463.8 96.3h0M457.7 97.1h0M472.3 96.9h0M451.8 95.1h0M465.8 88.9h0M459.1 97.7h0M462.8 99.4h0M457.0 90.0h0M451.2 99.3h0M474.9 95.3h0M466.4 98.8h0M451.8 81.2h0M455.6 100.3h0M453.0 93.0h0M452.7 100.5h0M473.2 88.0h0M460.4 98.4h0M453.3 91.3h0M461.8 93.4h0M461.6 90.5h0M457.5 99.9h0M460.0 99.2h0M463.4 96.0h0M465.0 92.5h0M461.9 99.2h0M453.0 96.9h0M468.6 95.1h0M469.4 96.1h0M462.2 97.5h0M469.1 94.9h0M460.2 100.2h0M470.6 98.8h0M454.1 89.4h0M465.6 97.7h0M467.7 99.6h0M449.8 93.3h0M467.7 100.3h0M457.2 94.0h0M455.3 98.0h0M444.7 95.5h0M462.4 98.1h0M439.7 98.6h0M475.5 93.7h0M473.4 81.6h0M463.1 84.8h0M441.5 97.2h0M468.9 95.4h0M442.5 93.5h0M462.6 96.6h0M445.8 95.8h0M466.2 97.8h0M469.2 82.9h0M471.3 98.7h0M468.4 99.6h0M465.4 95.5h0M453.2 81.2h0M464.8 97.0h0M446.6 94.2h0M455.3 94.5h0M455.5 99.8h0M463.6 85.9h0M468.0 96.7h0M447.7 82.1h0M451.3 100.2h0M453.6 95.3h0M474.8 90.9h0M471.4 91.0h0M434.4 97.6h0M471.2 92.5h0M456.2 97.1h0M475.2 91.4h0M463.5 100.5h0M465.2 98.1h0M450.7 87.7h0M457.5 98.3h0M468.6 91.8h0M449.4 97.0h0M450.4 99.9h0M456.8 98.9h0M447.6 95.5h0M472.3 95.6h0M467.1 89.4h0M465.3 86.2h0M451.8 87.7h0M473.7 88.6h0M457.3 95.9h0M466.2 99.8h0M468.2 99.5h0M473.2 86.8h0M473.7 87.4h0M464.8 97.2h0M457.1 83.9h0M443.6 82.9h0M438.9 95.1h0M463.6 93.5h0M474.6 100.4h0M470.8 99.6h0M446.1 86.9h0M443.2 94.9h0M476.4 95.7h0M464.0 89.4h0M464.9 90.7h0M464.8 89.2h0M453.8 95.1h0M451.4 87.8h0M451.6 97.3h0M469.2 94.4h0M447.8 87.6h0M462.4 80.5h0M467.4 95.8h0M464.2 88.9h0M472.7 99.9h0M455.4 92.7h0M460.8 93.2h0M460.3 98.6h0M453.8 100.2h0M455.5 100.0h0M464.0 93.7h0M461.7 91.5h0M449.1 96.1h0M460.8 99.4h0M455.6 96.9h0M457.0 97.5h0M456.6 98.7h0M453.1 84.8h0M443.6 98.2h0M444.3 97.3h0M472.1 93.8h0M463.9 96.9h0M461.3 88.9h0M465.0 90.4h0M470.0 95.6h0M454.8 83.0h0M453.6 96.7h0M461.1 93.8h0M471.5 81.8h0M449.9 100.1h0M452.3 95.8h0M455.4 98.7h0M455.6 94.4h0M467.7 98.2h0M464.4 98.5h0M463.1 96.9h0M470.2 100.5h0M462.7 99.1h0M474.8 96.4h0M448.5 91.2h0M450.9 89.0h0M454.1 99.2h0M451.1 100.0h0M456.5 96.8h0M455.6 93.0h0M432.9 99.2h0M453.5 98.9h0M477.3 99.0h0M454.3 99.2h0M452.4 93.0h0M443.1 94.5h0M460.0 99.6h0M453.2 99.2h0M461.8 98.8h0M445.5 98.2h0M463.3 98.9h0M448.9 94.1h0M453.5 99.8h0M465.4 88.5h0M454.0 99.1h0M472.0 93.0h0M455.4 95.3h0M465.8 95.6h0M464.0 87.0h0M458.4 97.0h0M452.4 94.5h0M460.9 93.4h0M479.0 100.4h0M455.9 86.9h0M456.8 93.1h0M465.2 99.9h0M479.9 81.9h0M449.2 97.9h0M449.2 99.3h0M454.5 100.5h0M450.4 96.1h0M445.1 75.3h0M469.4 100.3h0M464.2 99.8h0M463.5 98.4h0M454.2 96.8h0M468.2 100.1h0M463.1 76.2h0M463.9 94.9h0M450.5 99.2h0M451.9 99.6h0M465.9 92.2h0M453.2 89.8h0M463.5 98.9h0M451.8 85.8h0M457.6 93.2h0M457.1 94.8h0M464.8 98.2h0M456.5 91.5h0M471.0 99.3h0M455.0 91.3h0M458.2 98.0h0M457.6 98.9h0M456.9 97.6h0M468.9 98.3h0M453.6 99.2h0M470.4 93.4h0M463.5 99.5h0M463.9 87.2h0M457.2 93.2h0M480.8 83.5h0M475.4 82.5h0M462.4 85.4h0M450.2 96.0h0M462.3 99.3h0M457.3 88.0h0M456.9 99.4h0M467.8 85.3h0M453.6 89.2h0M467.8 92.6h0M455.3 91.2h0M457.9 97.8h0M470.4 92.4h0M464.5 92.5h0M462.1 94.1h0M450.0 93.4h0M471.6 95.3h0M455.6 98.1h0M460.3 97.9h0M464.0 91.0h0M462.4 98.1h0M461.9 97.7h0M456.7 81.8h0M462.8 97.2h0M452.8 97.7h0M462.9 81.6h0M469.5 94.9h0M466.6 96.8h0M445.3 89.0h0M457.7 91.5h0M453.2 94.6h0M455.4 99.0h0M452.4 85.8h0M470.1 92.2h0M467.9 92.2h0M453.2 89.1h0M438.3 91.4h0M447.5 98.9h0M447.9 90.3h0M481.2 90.2h0M454.7 91.3h0M450.9 99.3h0M444.2 98.4h0M455.8 96.2h0M469.6 88.9h0M463.6 90.8h0M461.9 89.4h0M463.6 99.4h0M460.0 98.7h0M454.4 96.7h0M445.2 89.0h0M470.6 98.0h0M465.7 93.3h0M470.0 99.2h0M439.5 93.9h0M469.9 98.4h0M443.1 97.5h0M455.7 95.9h0M450.2 99.6h0M464.2 98.6h0M482.3 90.2h0M449.1 99.7h0M449.0 99.2h0M479.3 98.9h0M465.5 98.9h0M465.2 98.9h0M455.3 100.4h0M453.3 94.8h0M457.4 86.0h0M462.3 98.7h0M467.3 98.6h0M461.1 90.1h0M460.6 98.5h0M458.4 94.7h0M470.0 84.1h0M452.8 98.0h0M452.0 100.3h0M467.9 99.9h0M463.6 97.1h0M452.3 96.2h0M461.9 91.9h0M457.1 91.1h0M469.1 91.1h0M466.8 91.1h0M453.3 98.6h0M451.6 86.7h0M448.4 97.3h0M442.5 89.1h0M464.7 94.6h0M468.2 93.2h0M480.1 97.5h0M470.8 96.0h0M452.1 94.1h0M443.7 100.1h0M453.1 98.5h0M454.7 91.8h0M456.2 89.0h0M448.1 94.4h0M461.7 97.9h0M474.0 86.7h0M456.4 89.1h0M469.3 99.7h0M465.1 88.9h0M455.9 97.6h0M453.4 80.9h0M461.9 99.8h0M455.3 91.4h0M450.8 99.6h0M466.3 95.5h0M453.9 98.7h0M450.2 95.9h0M454.1 92.1h0M452.3 96.6h0M449.8 97.2h0M460.8 99.4h0M457.9 90.4h0M461.8 92.8h0M457.2 89.8h0M442.8 95.8h0M457.2 94.4h0M453.6 97.1h0M474.2 92.3h0M469.1 97.2h0M450.0 99.5h0M454.3 100.6h0M467.7 94.8h0M453.6 98.4h0M476.3 99.7h0M448.7 99.7h0M469.9 98.9h0M459.9 100.4h0M471.0 99.9h0M469.7 92.5h0M460.8 100.0h0M453.4 93.5h0M466.6 99.0h0M474.6 98.4h0M456.6 99.7h0M470.3 94.3h0M467.7 100.2h0M450.5 98.7h0M470.4 100.3h0M462.3 94.6h0M446.2 99.6h0M457.5 97.2h0M458.2 97.8h0M460.9 100.1h0M452.6 97.4h0M456.0 94.8h0M460.3 96.3h0M482.6 84.5h0M453.3 97.8h0M456.9 91.3h0M440.5 80.6h0M475.5 100.3h0M452.6 97.8h0M464.4 94.7h0M443.4 96.6h0M465.6 90.4h0M460.2 98.3h0M482.2 89.6h0M458.6 98.8h0M438.4 95.9h0M460.2 99.9h0M470.4 98.5h0M447.9 99.8h0M462.7 99.5h0M460.6 94.1h0M453.5 96.9h0M466.3 99.4h0M472.9 94.6h0M457.5 100.0h0M463.8 90.4h0M451.4 97.3h0M451.9 100.3h0M474.1 90.9h0M456.2 95.9h0M469.5 96.7h0M453.7 97.4h0M465.2 100.5h0M452.8 89.0h0M460.7 100.4h0M462.7 96.8h0M466.3 96.5h0M472.8 92.3h0M467.0 96.3h0M461.7 98.1h0M457.3 97.9h0M459.6 100.5h0M464.5 99.1h0M457.2 85.1h0M467.4 87.2h0M446.0 85.9h0M455.3 93.2h0M453.9 93.8h0M468.6 91.7h0M469.6 96.5h0M465.3 99.7h0M456.9 99.7h0M464.8 100.2h0M478.7 97.0h0M451.8 95.7h0M475.9 95.8h0M472.1 94.1h0M476.0 83.4h0M466.8 98.4h0M452.7 96.0h0M464.1 99.3h0M451.6 98.6h0M455.4 97.1h0M458.4 94.6h0M488.0 86.6h0M470.2 98.2h0M466.1 84.3h0M452.0 95.8h0M441.7 97.1h0M458.7 94.0h0M458.0 97.0h0M476.6 98.5h0M462.5 95.6h0M445.2 97.6h0M468.8 98.7h0M461.2 98.7h0M460.8 97.9h0M465.2 94.3h0M466.8 95.1h0M471.3 99.0h0M457.3 95.7h0M453.3 99.1h0M448.3 97.3h0M460.7 99.6h0M461.3 93.2h0M448.0 90.9h0M456.4 96.8h0M471.5 98.9h0M468.1 100.2h0M450.2 96.1h0M452.2 97.6h0M454.9 99.0h0M452.6 92.7h0M449.3 91.8h0M450.8 88.9h0M468.0 94.4h0M462.0 98.5h0M452.2 97.9h0M448.6 97.7h0M455.6 91.7h0M452.3 100.1h0M451.7 87.2h0M460.5 99.0h0M447.8 100.4h0M462.2 85.3h0M466.5 99.4h0M469.6 81.5h0M468.4 99.7h0M464.1 97.2h0M471.2 98.9h0M455.4 93.0h0M463.6 95.1h0M470.8 97.8h0M458.1 90.6h0M460.8 98.1h0M467.3 93.5h0M446.5 96.7h0M453.7 98.2h0M468.1 99.9h0M462.5 95.9h0M453.3 99.5h0M451.7 83.5h0M464.0 98.8h0M464.5 98.9h0M472.4 100.2h0M461.7 89.8h0M468.1 95.2h0M473.4 90.8h0M471.5 100.4h0M465.8 93.0h0M461.8 92.3h0M458.3 100.0h0M461.5 95.0h0M465.1 85.8h0M452.1 99.3h0M452.5 94.0h0M455.3 97.6h0M463.3 87.1h0M467.9 98.6h0M466.1 95.0h0M454.3 99.9h0M459.9 99.8h0M437.4 97.8h0M457.1 94.4h0M469.2 99.9h0M445.8 81.5h0M456.6 81.6h0M454.7 99.5h0M456.3 98.1h0M464.2 99.5h0M457.3 97.3h0M447.5 83.2h0M460.6 98.2h0M468.9 95.3h0M455.8 87.3h0M472.6 86.0h0M446.4 87.8h0M451.7 100.3h0M453.5 93.7h0M446.5 94.8h0M445.4 93.2h0M450.1 89.2h0M460.8 93.0h0M454.0 97.6h0M462.8 93.6h0M467.7 87.0h0M454.4 85.9h0M450.6 82.0h0M473.8 91.0h0M443.7 94.0h0M461.2 92.2h0M448.3 98.6h0M454.8 89.4h0M474.3 96.5h0M455.0 94.1h0M455.5 87.9h0M452.6 95.1h0M468.9 97.3h0M445.0 83.1h0M455.1 100.0h0M464.3 89.8h0M452.4 96.1h0M439.5 89.3h0M462.0 99.4h0M464.9 89.3h0M463.9 93.2h0M458.4 98.9h0M454.2 90.6h0M455.5 92.3h0M457.3 94.1h0M448.2 91.0h0M454.5 100.3h0M472.0 95.7h0M459.4 99.6h0M441.0 82.1h0M457.0 95.3h0M466.5 97.9h0M466.4 99.6h0M462.8 94.5h0M469.6 97.2h0M465.8 84.3h0M458.5 99.6h0M464.7 97.2h0M464.5 82.4h0M441.2 97.6h0M450.4 97.0h0M466.2 97.2h0M458.2 98.2h0M465.1 99.9h0M470.0 93.6h0M454.2 96.9h0M450.1 100.5h0M455.5 95.7h0M468.2 86.7h0M467.0 98.5h0M447.7 100.1h0M465.6 91.1h0M469.0 99.6h0M456.5 91.8h0M458.6 98.0h0M448.1 86.4h0M457.6 92.6h0M461.2 100.5h0M455.3 98.9h0M446.3 99.0h0M474.4 100.5h0M463.1 94.0h0M445.8 95.4h0M462.2 96.9h0M465.4 99.7h0M465.3 98.8h0M463.6 98.2h0M466.8 99.6h0M452.4 97.2h0M462.3 92.1h0M460.9 94.9h0M459.2 99.9h0M472.2 89.3h0M448.8 82.3h0M454.5 88.5h0M455.0 99.0h0M469.3 95.4h0M457.8 97.9h0M443.5 99.2h0M471.6 98.1h0M458.1 97.3h0M450.2 96.8h0M462.5 97.6h0M467.9 97.0h0M451.0 93.6h0M459.4 99.4h0M466.9 90.9h0M460.4 97.2h0M441.5 87.8h0M468.2 95.6h0M438.5 92.2h0M485.5 93.4h0M465.8 100.2h0M453.8 100.6h0M450.1 96.8h0M481.8 97.4h0M462.3 98.3h0M462.4 98.1h0M469.9 90.0h0M446.5 100.5h0M461.8 98.6h0M448.8 99.4h0M465.4 90.1h0M464.7 96.6h0M463.9 98.4h0M459.1 97.4h0M448.7 97.6h0M456.2 86.3h0M456.7 99.0h0M466.2 95.4h0M461.2 90.2h0M468.0 99.3h0M458.7 98.0h0M456.8 96.7h0M463.6 92.5h0M464.3 98.9h0M464.2 91.7h0M456.3 100.6h0M461.6 100.2h0M471.9 92.1h0M463.5 98.2h0M449.6 93.0h0M472.4 100.2h0M458.7 99.4h0M456.5 98.7h0M471.1 99.7h0M455.9 99.7h0M452.6 88.0h0M445.1 97.5h0M448.1 98.9h0M446.8 97.6h0M455.5 95.5h0M454.1 88.9h0M440.1 99.7h0M458.8 99.8h0M453.9 91.6h0M457.8 93.6h0M453.0 98.6h0M471.2 97.5h0M469.2 97.6h0M442.1 94.3h0M455.2 98.8h0M464.0 89.8h0M456.6 99.1h0M452.2 90.0h0M456.2 99.2h0M464.9 98.9h0M448.3 97.3h0M457.1 97.7h0M444.2 100.3h0M463.3 97.8h0M453.3 93.5h0M466.2 97.7h0M455.4 99.0h0M449.2 98.5h0M468.6 94.3h0M470.2 100.4h0M455.2 98.7h0M447.7 88.1h0M458.1 94.5h0M461.5 99.2h0M450.2 97.7h0M448.1 94.1h0M458.8 100.0h0M455.5 94.1h0M450.7 96.2h0M467.9 91.1h0M450.7 99.0h0M445.7 100.0h0M464.4 91.9h0M455.3 93.0h0M445.1 83.5h0M440.1 97.2h0M462.6 97.1h0M461.5 91.6h0M463.0 99.7h0M465.1 98.8h0M473.8 93.5h0M475.5 97.4h0M454.4 94.9h0M443.8 72.6h0M451.6 86.8h0M474.3 99.5h0M454.0 94.4h0M454.3 85.7h0M464.7 98.1h0M443.2 80.3h0M465.7 98.4h0M468.9 93.8h0M460.9 98.9h0M464.0 95.8h0M459.3 99.6h0M462.1 91.6h0M456.9 98.7h0M460.4 97.5h0M455.4 93.9h0M438.2 83.9h0M453.5 90.5h0M461.2 90.9h0M452.6 93.9h0M441.2 97.4h0M467.9 97.9h0M455.3 96.3h0M463.1 98.6h0M450.9 100.3h0M478.4 94.5h0M468.2 98.3h0M458.9 98.7h0M449.3 85.6h0M441.8 94.5h0M458.3 92.6h0M458.3 99.2h0M442.4 97.9h0M450.0 99.7h0M456.1 96.0h0M462.5 99.4h0M457.2 99.3h0M442.3 99.4h0M462.2 87.6h0M463.6 77.5h0M465.4 95.8h0M460.9 100.5h0M462.0 89.0h0M452.7 97.4h0M458.8 98.1h0M460.1 100.3h0M469.5 91.1h0M485.2 97.1h0M452.7 96.9h0M443.0 100.1h0M470.8 97.0h0M466.1 96.7h0M461.4 100.5h0M462.8 94.3h0M462.2 93.7h0M467.1 97.9h0M458.5 100.5h0M449.2 98.1h0M453.8 100.4h0M446.7 98.7h0M467.8 92.2h0M468.0 85.2h0M461.4 95.3h0M478.7 100.2h0M463.7 96.3h0M464.1 87.2h0M465.4 100.3h0M460.5 99.3h0M446.8 86.7h0M443.9 98.3h0M465.7 99.0h0M462.3 100.0h0M470.1 100.5h0M469.3 97.3h0M471.6 96.9h0M456.1 100.3h0M446.7 93.6h0M445.5 92.0h0M453.4 99.0h0M453.6 92.3h0M455.3 92.8h0M443.9 59.2h0M454.5 87.8h0M453.1 97.9h0M470.6 98.6h0M463.5 97.2h0M456.0 96.1h0M454.1 93.3h0M468.1 88.3h0M470.4 95.0h0M462.0 91.9h0M468.9 91.8h0M449.3 97.8h0M449.6 99.8h0M457.3 97.7h0M453.0 92.1h0M449.9 100.0h0M460.7 100.2h0M464.1 93.1h0M466.1 100.6h0M460.4 95.6h0M456.9 89.7h0M461.7 95.7h0M451.8 96.1h0M460.9 100.0h0M452.9 93.4h0M454.4 96.4h0M464.3 96.2h0M462.0 100.4h0M468.6 94.0h0M460.4 100.3h0M465.2 100.5h0M449.8 100.3h0M464.5 88.0h0M461.4 96.2h0M464.6 94.0h0M475.1 83.6h0M452.4 87.5h0M455.0 100.4h0M460.2 100.2h0M455.8 100.0h0M449.1 96.4h0M460.3 98.3h0M466.0 82.4h0M465.6 91.2h0M462.2 98.5h0M464.3 98.8h0M457.2 98.7h0M458.8 97.4h0M450.9 100.2h0M456.6 91.0h0M457.1 99.0h0M461.1 92.7h0M455.7 100.2h0M473.4 84.4h0M464.3 100.1h0M463.9 89.6h0M470.0 99.3h0M465.9 82.3h0M460.4 100.0h0M457.1 98.7h0M458.6 99.7h0M440.5 95.7h0M471.6 99.2h0M463.4 95.9h0M441.3 98.3h0M479.6 89.9h0M461.2 89.6h0M473.7 92.2h0M456.5 88.2h0M457.9 94.1h0M458.1 93.3h0M466.0 98.5h0M455.3 86.2h0M458.5 96.3h0M453.3 95.8h0M462.3 90.1h0M467.3 99.4h0M453.1 99.3h0M467.9 88.4h0M476.3 95.6h0M461.9 98.1h0M457.9 88.8h0M483.6 96.5h0M464.0 97.0h0M464.9 98.1h0M455.1 95.2h0M463.6 97.1h0M448.6 95.6h0M463.6 94.7h0M456.2 99.9h0M465.3 100.2h0M449.4 99.6h0M464.2 97.7h0M455.1 93.2h0M476.4 95.6h0M446.3 86.9h0M460.8 100.4h0M446.8 87.3h0M479.9 96.1h0M462.8 98.4h0M455.2 98.6h0M458.7 94.1h0M477.5 97.0h0M467.6 92.4h0M451.0 99.1h0M465.9 100.2h0M448.7 94.9h0M463.2 94.5h0M464.2 95.4h0M472.7 97.9h0M454.3 98.6h0M457.6 97.5h0M461.0 99.0h0M467.9 95.9h0M453.6 100.4h0M465.5 92.4h0M461.8 97.1h0M453.0 94.4h0M456.2 98.3h0M466.9 92.2h0M461.1 99.6h0M455.8 96.8h0M465.1 92.4h0M472.6 97.5h0M456.3 93.7h0M459.1 99.7h0M453.1 99.0h0M450.0 85.2h0M466.1 95.5h0M470.6 93.2h0M480.5 85.0h0M465.3 97.3h0M476.4 95.6h0M466.1 81.0h0M461.8 98.4h0M458.5 96.1h0M472.9 85.7h0M461.9 89.7h0M451.7 93.9h0M453.2 100.5h0M446.2 93.1h0M462.0 98.7h0M453.0 94.3h0M458.5 100.3h0M470.6 98.0h0M451.1 97.7h0M465.0 98.7h0M452.3 97.8h0M465.6 97.2h0M450.6 97.7h0M470.8 96.4h0M460.9 93.2h0M463.1 97.7h0M461.1 100.1h0M448.8 97.5h0M456.6 88.5h0M465.1 96.5h0M457.5 98.8h0M466.7 94.3h0M453.8 100.2h0M458.1 98.5h0M454.2 96.3h0M451.3 100.4h0M460.3 97.1h0M469.5 77.7h0M463.1 97.2h0M452.2 97.0h0M463.3 100.4h0M465.9 100.4h0M473.1 89.7h0M465.4 92.6h0M457.5 89.0h0M463.2 91.7h0M441.0 94.2h0M448.3 97.4h0M454.0 88.5h0M466.8 96.2h0M462.3 96.9h0M458.6 98.6h0M466.6 88.2h0M446.9 98.0h0M464.5 91.1h0M472.9 86.7h0M469.8 95.8h0M468.7 87.4h0M449.8 96.6h0M461.4 92.8h0M456.8 100.3h0M457.9 100.2h0M460.3 100.2h0M457.2 93.1h0M454.2 83.6h0M449.4 96.7h0M457.0 94.7h0M451.3 95.2h0M466.0 96.5h0M456.9 97.7h0M459.2 99.3h0M445.4 96.2h0M467.8 99.9h0M461.7 98.0h0M477.9 83.3h0M453.0 100.1h0M461.9 97.6h0M471.1 98.4h0M456.8 90.1h0M456.7 98.5h0M442.3 95.2h0M453.9 99.4h0M464.3 97.3h0M458.0 98.5h0M454.8 92.9h0M464.0 94.0h0M470.7 97.7h0M458.2 99.8h0M443.7 99.1h0M476.4 99.9h0M477.0 93.4h0M454.1 95.2h0M464.9 99.5h0M464.5 100.4h0M476.7 99.4h0M469.2 97.2h0M449.0 100.5h0M452.2 98.7h0M449.4 99.6h0M462.7 97.2h0M464.6 100.4h0M467.0 99.6h0M460.9 95.6h0M469.4 84.1h0M481.5 97.0h0M458.3 92.9h0M454.8 92.9h0M467.7 98.0h0M450.1 87.0h0M451.2 94.5h0M448.1 91.0h0M466.1 96.7h0M453.2 98.1h0M451.6 96.7h0M458.0 95.8h0M472.3 89.3h0M465.8 97.2h0M471.1 100.3h0M471.5 96.4h0M456.6 98.2h0M453.9 98.5h0M450.9 97.7h0M463.7 95.0h0M443.3 87.1h0M457.2 97.1h0M463.9 85.4h0M441.0 100.3h0M445.1 77.2h0M442.7 100.2h0M462.4 97.4h0M465.3 95.3h0M448.6 97.8h0M467.9 100.3h0M456.8 96.8h0M450.0 98.0h0M469.8 98.6h0M454.2 99.7h0M472.3 89.6h0M462.2 100.1h0M452.6 100.1h0M449.2 97.3h0M456.7 97.3h0M450.0 99.8h0M458.1 100.2h0M465.3 96.3h0M466.5 92.2h0M461.1 93.3h0M465.4 81.8h0M471.8 97.8h0M441.8 100.1h0M467.7 81.6h0M467.9 85.1h0M460.7 96.4h0M467.5 99.2h0M446.2 89.9h0M467.4 94.4h0M457.9 100.2h0M456.6 98.7h0M457.1 91.8h0M483.7 96.6h0M445.5 100.4h0M452.3 97.0h0M463.8 94.2h0M458.0 98.7h0M451.8 100.0h0M471.1 98.8h0M454.3 87.6h0M464.8 87.0h0M450.9 98.3h0M450.3 93.7h0M463.6 100.5h0M465.9 90.8h0M457.6 95.8h0M471.5 91.2h0M456.7 97.9h0M458.0 94.6h0M469.2 97.2h0M460.6 99.1h0M460.7 96.8h0M452.3 86.2h0M455.8 99.1h0M452.6 89.7h0M457.2 100.2h0M452.4 93.9h0M475.1 100.1h0M463.7 99.7h0M466.5 99.6h0M458.9 97.6h0M436.3 94.1h0M439.2 96.4h0M458.1 97.4h0M449.8 98.4h0M461.2 97.6h0M462.7 98.1h0M453.7 97.8h0M466.3 93.8h0M456.9 99.0h0M465.5 98.5h0M470.2 96.2h0M450.5 95.4h0M452.7 99.3h0M444.8 100.1h0M449.0 98.7h0M448.4 89.2h0M454.0 88.8h0M467.9 93.9h0M448.1 100.6h0M438.9 91.8h0M475.4 81.0h0M447.0 96.5h0M450.5 89.4h0M461.9 99.3h0M444.9 99.5h0M467.4 99.7h0M463.3 85.9h0M462.9 94.5h0M457.1 92.3h0M448.9 97.7h0M454.9 99.6h0M462.6 96.8h0M463.7 96.3h0M457.0 99.2h0M444.7 94.3h0M455.8 99.4h0M474.6 95.6h0M470.5 100.3h0M443.0 85.1h0M444.0 98.6h0M463.7 95.0h0M450.3 99.7h0M463.4 99.0h0M465.0 99.3h0M470.4 99.4h0M472.1 100.6h0M464.8 89.2h0M452.9 77.7h0M471.1 96.0h0M445.8 95.5h0M463.0 84.2h0M458.4 100.2h0M451.2 88.5h0M467.2 92.3h0M467.9 95.2h0M464.5 99.3h0M461.6 94.9h0M464.0 84.5h0M459.2 99.3h0M454.2 90.5h0M452.1 88.4h0M474.0 93.6h0M457.6 96.3h0M451.1 98.8h0M470.6 99.8h0M463.6 94.0h0M448.4 85.8h0M457.1 99.0h0M471.3 97.4h0M465.6 97.6h0M469.6 99.3h0M455.0 95.4h0M463.1 97.9h0M464.3 100.0h0M461.1 95.8h0M454.1 94.8h0M464.9 88.3h0M465.5 86.2h0M443.1 99.0h0M461.7 92.3h0M452.5 97.5h0M475.8 96.9h0M460.7 98.4h0M461.8 97.9h0M470.8 99.3h0M465.1 98.4h0M457.9 94.7h0M454.6 99.8h0M456.3 95.9h0M456.0 99.6h0M458.3 98.6h0M455.8 95.0h0M436.1 84.5h0M451.9 98.7h0M452.7 95.4h0M442.6 95.7h0M455.6 78.7h0M464.6 96.7h0M461.9 88.7h0M465.0 97.5h0M458.2 99.8h0M450.7 93.7h0M467.3 100.5h0M469.1 91.6h0M471.2 98.5h0M456.7 98.8h0M450.9 88.0h0M457.5 91.2h0M453.3 100.1h0M466.9 97.3h0M454.4 98.7h0M463.5 79.5h0M466.1 99.6h0M464.0 99.8h0M455.0 89.5h0M456.4 98.5h0M463.7 98.9h0M462.7 99.9h0M466.5 83.0h0M472.5 82.3h0M467.3 87.1h0M469.6 92.1h0M460.5 100.1h0M456.0 91.7h0M462.2 91.6h0M435.3 91.1h0M456.9 100.1h0M469.7 97.0h0M461.2 92.9h0M462.7 96.9h0M465.6 100.5h0M466.1 98.7h0M467.2 97.0h0M472.6 99.5h0M462.7 97.7h0M461.9 97.0h0M454.3 97.9h0M456.8 97.4h0M464.9 97.8h0M455.0 95.0h0M451.0 98.3h0M455.2 84.2h0M457.0 93.6h0M441.0 90.8h0M450.1 86.5h0M456.6 99.1h0M461.5 97.9h0M463.1 99.7h0M447.8 94.2h0M460.5 99.3h0M451.5 95.2h0M469.4 93.2h0M460.9 96.2h0M449.4 91.9h0M440.2 99.5h0M456.8 82.1h0M461.6 87.0h0M461.6 95.9h0M458.2 100.0h0M466.0 99.2h0M465.2 78.7h0M454.5 99.2h0M467.3 99.3h0M457.1 99.4h0M464.5 98.7h0M449.5 98.3h0M451.2 95.3h0M465.6 95.4h0M457.6 98.1h0M473.0 100.3h0M438.4 99.0h0M454.3 100.3h0M468.4 97.6h0M451.7 99.4h0M455.2 99.2h0M454.0 89.2h0M457.9 100.3h0M452.6 92.7h0M461.6 100.2h0M453.2 90.3h0M467.7 96.2h0M471.1 83.0h0M462.2 95.5h0M456.6 93.3h0M454.6 92.7h0M466.8 96.3h0M443.9 98.3h0M463.6 94.7h0M455.0 97.6h0M452.5 98.1h0M450.8 86.2h0M460.9 100.3h0M442.6 97.3h0M469.8 97.8h0M461.5 96.4h0M461.4 98.6h0M467.8 98.6h0M450.3 99.8h0M462.6 94.6h0M466.5 93.7h0M451.9 98.6h0M466.8 97.2h0M473.1 99.8h0M455.8 97.6h0M456.0 95.7h0M472.3 97.6h0M452.2 94.6h0M446.7 97.7h0M465.5 96.4h0M452.8 99.4h0M475.9 89.1h0M450.0 100.0h0M462.2 94.1h0M454.6 96.8h0M467.9 97.4h0M463.1 98.0h0M461.9 89.2h0M462.7 97.7h0M450.4 99.4h0M460.3 96.4h0M448.1 100.3h0M475.2 92.9h0M440.9 94.8h0M453.6 82.0h0M468.9 78.2h0M466.4 91.7h0M443.3 99.9h0M455.9 88.7h0M467.1 86.4h0M466.2 95.0h0M460.9 97.8h0M462.1 89.6h0M463.6 99.9h0M446.1 85.7h0M454.1 99.4h0M452.4 99.5h0M463.1 82.4h0M455.7 100.3h0M463.4 88.7h0M457.1 89.5h0M456.3 96.9h0M459.9 100.2h0M453.2 81.2h0M464.7 100.0h0M466.5 91.7h0M471.2 98.0h0M463.8 100.1h0M469.1 94.1h0M453.4 100.1h0M461.0 96.4h0M451.5 90.3h0M466.7 96.7h0M458.0 93.0h0M452.9 100.0h0M460.8 93.5h0M447.8 89.7h0M452.3 85.3h0M464.0 99.8h0M458.5 100.2h0M463.8 97.1h0M478.9 92.4h0M446.2 86.9h0M453.5 92.0h0M471.3 92.3h0M478.1 100.0h0M462.6 94.8h0M453.5 97.9h0M466.6 91.3h0M443.5 90.8h0M453.7 99.9h0M433.9 99.2h0M475.9 97.9h0M458.7 98.3h0M454.0 99.0h0M474.3 90.6h0M464.4 100.0h0M450.9 96.3h0M443.1 98.6h0M453.2 99.1h0M459.3 98.6h0M469.8 95.7h0M450.2 94.8h0M447.9 90.9h0M480.8 89.9h0M465.7 97.9h0M467.0 100.6h0M461.1 99.6h0M453.5 100.3h0M445.3 82.7h0M475.0 99.5h0M453.3 99.2h0M458.9 96.6h0M451.0 93.7h0M462.3 87.6h0M468.1 92.4h0M453.9 96.7h0M451.8 94.6h0M460.9 98.4h0M463.4 96.7h0M461.3 92.2h0M454.1 86.7h0M462.8 97.5h0M454.1 86.6h0M453.5 99.7h0M447.9 94.8h0M453.2 98.8h0M470.7 99.2h0M451.6 92.9h0M453.8 93.0h0M463.6 97.1h0M468.6 89.4h0M459.0 96.3h0M455.0 96.5h0M467.8 99.1h0M462.3 95.5h0M445.7 97.7h0M469.7 97.4h0M449.7 81.6h0M463.7 99.6h0M457.7 96.6h0M444.8 95.9h0M463.4 99.8h0M447.7 97.7h0M444.5 97.3h0M467.5 92.8h0M452.5 83.6h0M472.0 95.4h0M460.3 100.2h0M444.2 88.2h0M470.9 96.6h0M468.1 99.4h0M454.9 87.3h0M449.2 99.9h0M450.2 90.1h0M461.3 99.8h0M467.2 88.2h0M452.7 94.0h0M461.8 94.1h0M465.1 96.3h0M452.4 91.4h0M473.5 96.5h0M466.5 99.0h0M461.0 96.2h0M446.8 92.4h0M466.6 99.5h0M466.9 94.7h0M457.2 86.0h0M457.0 96.8h0M477.2 89.8h0M465.1 93.5h0M460.9 95.6h0M446.2 95.8h0M462.8 91.5h0M463.3 79.5h0M470.3 99.0h0M476.5 98.3h0M463.6 90.5h0M467.3 96.1h0M474.9 90.7h0M475.0 97.8h0M464.2 98.2h0M459.9 99.3h0M481.7 94.8h0M454.4 98.0h0M455.8 100.2h0M465.5 92.8h0M474.9 89.6h0M447.7 63.5h0M437.3 99.6h0M462.8 98.1h0M457.8 100.0h0M454.5 99.9h0M470.0 95.8h0M454.3 98.4h0M466.2 89.8h0M457.9 100.6h0M469.1 92.4h0M448.9 94.7h0M452.4 100.1h0M454.7 88.6h0M450.1 98.5h0M463.9 98.1h0M451.7 97.1h0M446.3 97.0h0M472.9 99.6h0M457.9 97.6h0M452.7 96.2h0M472.1 98.4h0M466.0 88.5h0M471.0 95.4h0M461.2 89.5h0M462.6 96.1h0M455.3 100.1h0M445.0 98.8h0M457.0 100.5h0M469.6 92.4h0M470.3 87.0h0M462.0 90.5h0M463.3 100.1h0M460.8 100.4h0M453.4 90.8h0M457.7 99.7h0M458.2 95.2h0M475.7 98.7h0M447.8 97.9h0M467.1 99.2h0M454.0 99.8h0M452.5 89.0h0M446.3 89.4h0M453.7 87.1h0M462.5 99.6h0M461.4 91.6h0M465.2 100.6h0M455.9 85.6h0M461.5 99.4h0M455.3 83.5h0M462.3 94.4h0M462.7 95.9h0M456.3 98.5h0M442.8 96.6h0M468.3 99.0h0M458.6 100.0h0M467.7 97.9h0M453.4 97.8h0M454.7 98.6h0M450.2 99.7h0M464.2 100.3h0M463.3 98.9h0M476.1 92.5h0M466.7 99.5h0M468.2 98.6h0M471.3 93.5h0M457.2 88.9h0M452.0 93.0h0M463.0 95.5h0M465.3 99.9h0M464.5 97.7h0M469.5 98.7h0M443.4 91.4h0M467.6 96.0h0M470.8 99.5h0M460.6 95.1h0M457.8 99.5h0M455.3 95.5h0M468.4 96.8h0M453.9 82.8h0M468.5 98.7h0M468.4 81.4h0M463.1 87.9h0M455.4 95.3h0M460.7 97.6h0M450.1 97.9h0M467.0 100.2h0M454.9 96.2h0M453.3 95.4h0M457.3 99.7h0M469.8 100.5h0M475.9 100.4h0M442.6 96.0h0M452.0 99.3h0M471.0 98.0h0M463.4 98.0h0M464.7 90.1h0M465.6 100.2h0M469.9 84.9h0M457.1 92.0h0M449.9 99.2h0M451.3 100.4h0M472.7 99.7h0M466.0 97.9h0M464.0 94.9h0M482.0 91.6h0M447.6 83.6h0M467.0 88.5h0M454.8 99.4h0M462.5 93.0h0M456.2 97.7h0M448.6 86.5h0M458.8 96.5h0M464.4 97.4h0M474.8 83.0h0M469.0 98.5h0M466.0 84.6h0M464.2 97.1h0M462.8 98.0h0M466.3 95.1h0M455.3 94.0h0M462.3 98.1h0M472.0 96.5h0M454.6 99.6h0M447.3 97.3h0M451.9 93.4h0M467.9 95.0h0M468.5 99.6h0M472.8 92.6h0M454.0 71.5h0M451.2 99.2h0M467.8 82.2h0M453.9 99.7h0M464.3 99.8h0M472.0 99.2h0M460.6 94.0h0M464.5 100.1h0M452.1 94.7h0M444.4 97.5h0M461.4 100.6h0M470.0 80.6h0M445.6 95.1h0M463.7 99.4h0M450.1 88.2h0M477.7 93.4h0M467.8 99.9h0M458.6 95.0h0M469.1 90.1h0M465.8 99.6h0M473.2 100.4h0M451.7 100.2h0M452.8 96.6h0M444.4 98.1h0M452.2 99.3h0M474.6 92.1h0M455.7 99.4h0M480.4 88.0h0M464.0 90.4h0M451.8 83.5h0M463.1 99.1h0M458.9 100.4h0M462.2 96.5h0M463.5 95.3h0M443.7 95.9h0M463.0 90.0h0M474.4 83.1h0M468.8 100.1h0M461.6 97.3h0M453.9 91.7h0M465.0 98.2h0M471.6 99.7h0M457.0 99.9h0M452.2 92.7h0M465.7 86.9h0M468.3 93.6h0M465.4 92.0h0M456.3 98.4h0M462.4 99.6h0M453.7 86.8h0M460.6 95.2h0M451.0 96.7h0M454.9 100.3h0M440.2 98.7h0M464.5 89.6h0M469.0 94.2h0M461.1 97.0h0M450.5 84.9h0M462.0 89.9h0M470.2 85.3h0M464.4 98.8h0M463.3 99.0h0M457.6 97.2h0M445.9 99.4h0M475.8 85.3h0M454.6 97.8h0M475.4 78.6h0M470.0 96.7h0M462.3 100.2h0M462.7 96.7h0M447.3 92.3h0M454.1 88.2h0M472.2 98.9h0M467.3 97.3h0M462.1 90.1h0M462.3 97.9h0M451.1 90.3h0M447.6 97.6h0M453.1 99.5h0M444.4 100.0h0M446.6 94.0h0M465.9 100.4h0M467.3 98.2h0M458.5 95.4h0M466.0 94.7h0M453.8 95.2h0M450.0 90.5h0M464.8 98.9h0M445.5 99.2h0M459.9 99.2h0M472.8 99.0h0M448.5 94.0h0M468.2 99.4h0M472.5 94.6h0M461.0 91.7h0M454.4 100.4h0M469.3 92.1h0M455.5 97.9h0M441.6 97.2h0M459.0 97.6h0M470.5 98.7h0M448.8 83.4h0M458.6 99.7h0M457.1 92.4h0M444.7 97.0h0M467.6 94.8h0M468.6 92.7h0M462.5 100.0h0M449.3 88.9h0M451.3 86.1h0M452.5 92.4h0M444.0 92.7h0M469.6 100.4h0M466.4 92.7h0M461.6 100.1h0M458.5 97.2h0M455.9 100.0h0M452.7 81.9h0M467.9 100.6h0M467.3 97.4h0M451.1 99.1h0M454.8 98.6h0M446.1 86.5h0M457.2 94.6h0M454.2 99.4h0M468.1 97.8h0M464.7 95.0h0M455.5 92.7h0M465.7 98.3h0M469.8 100.4h0M466.6 97.4h0M445.5 99.8h0M473.6 100.0h0M460.1 99.5h0M455.6 87.5h0M470.6 99.1h0M474.0 98.5h0M467.9 88.9h0M463.1 95.4h0M453.1 92.1h0M462.3 99.4h0M449.1 94.0h0M472.6 100.3h0M470.8 100.4h0M461.6 95.5h0M449.8 94.1h0M463.9 96.0h0M457.7 99.7h0M462.6 91.5h0M472.7 93.9h0M453.8 91.9h0M454.1 97.2h0M470.6 96.6h0M465.8 85.3h0M462.7 96.0h0M469.2 99.9h0M456.7 91.3h0M465.0 97.4h0M462.2 99.5h0M462.4 87.6h0M454.7 82.8h0M471.9 96.3h0M464.7 95.6h0M468.8 96.4h0M451.4 96.5h0M473.1 100.2h0M477.5 89.8h0M453.3 89.1h0M463.5 96.5h0M462.0 99.0h0M452.6 97.1h0M461.7 92.7h0M467.0 94.6h0M465.2 93.2h0M475.6 87.3h0M441.2 83.9h0M465.9 89.3h0M465.2 92.8h0M455.9 93.8h0M467.2 85.1h0M452.4 98.9h0M460.8 98.8h0M456.3 96.9h0M457.2 96.9h0M461.2 100.3h0M452.5 96.6h0M465.7 95.4h0M464.2 98.0h0M464.6 96.8h0M452.3 93.7h0M463.2 96.2h0M473.3 100.4h0M476.5 99.4h0M444.4 98.4h0M456.7 100.2h0M462.1 99.5h0M457.0 85.2h0M462.3 95.9h0M441.9 87.8h0M464.1 98.4h0M453.4 95.4h0M447.9 88.0h0M450.3 91.6h0M461.7 94.4h0M448.5 98.2h0M477.7 91.2h0M446.8 94.7h0M453.4 96.3h0M458.7 97.1h0M469.1 90.1h0M462.2 98.3h0M468.4 100.5h0M489.1 88.6h0M444.7 98.9h0M451.0 83.3h0M455.1 95.3h0M463.0 88.2h0M449.5 99.7h0M457.8 89.1h0M456.0 100.1h0M458.4 97.4h0M451.3 92.0h0M462.1 97.3h0M466.4 95.0h0M466.1 83.6h0M445.8 99.0h0M448.5 98.8h0M454.9 91.5h0M464.0 96.5h0M450.1 97.1h0M462.4 90.9h0M439.9 90.5h0M460.2 97.3h0M463.8 96.8h0M474.4 76.0h0M473.6 98.1h0M476.6 97.6h0M444.1 92.1h0M460.6 99.4h0M473.2 94.5h0M451.7 100.5h0M457.6 92.0h0M469.9 83.0h0M464.1 80.2h0M472.0 95.0h0M464.0 92.5h0M454.0 97.1h0M447.9 94.1h0M445.7 94.2h0M463.5 100.2h0M452.0 85.8h0M461.8 90.6h0M451.4 93.6h0M477.1 82.1h0M466.3 100.6h0M445.6 82.4h0M460.6 98.7h0M445.2 97.0h0M465.5 96.7h0M459.8 99.9h0M470.5 99.6h0M474.6 98.8h0M465.8 100.4h0M455.7 99.6h0M458.5 100.5h0M455.1 94.3h0M470.9 94.4h0M454.4 98.6h0M463.0 89.3h0M468.4 99.6h0M465.7 87.6h0M467.0 100.3h0M438.6 91.9h0M461.8 97.9h0M448.8 95.4h0M471.3 91.8h0M460.0 99.7h0M453.1 99.4h0M459.0 99.2h0M452.3 98.8h0M453.9 96.2h0M446.0 88.9h0M464.1 75.3h0M475.3 98.7h0M460.4 96.5h0M474.2 99.0h0M469.6 92.1h0M468.2 90.5h0M444.4 88.5h0M465.3 98.4h0M451.7 98.5h0M448.9 98.7h0M460.7 96.6h0M465.3 98.7h0M469.2 96.2h0M454.5 95.4h0M456.0 98.1h0M464.9 98.6h0M470.3 99.4h0M456.8 82.3h0M451.9 91.6h0M468.1 95.8h0M466.5 87.7h0M471.9 98.0h0M450.8 94.7h0M459.2 98.0h0M451.8 94.8h0M464.5 97.4h0M474.9 96.1h0M465.5 84.3h0M453.0 100.1h0M469.2 90.1h0M463.0 99.2h0M468.1 97.9h0M473.0 96.0h0M456.2 87.7h0M448.5 90.5h0M456.7 95.8h0M446.1 100.3h0M454.7 95.5h0M448.8 96.6h0M455.6 83.5h0M448.7 100.0h0M474.8 95.1h0M461.6 96.7h0M460.3 100.4h0M466.4 97.1h0M464.5 100.4h0M456.2 100.3h0M463.0 98.8h0M464.7 100.3h0M456.5 95.9h0M462.9 98.6h0M462.1 89.3h0M465.6 95.8h0M466.0 78.7h0M443.4 91.1h0M464.0 93.6h0M454.1 97.9h0M455.7 91.5h0M452.3 78.0h0M456.1 100.1h0M453.5 97.5h0M473.3 96.5h0M447.1 83.3h0M448.8 85.0h0M458.1 99.0h0M468.1 95.4h0M464.7 95.9h0M462.3 100.5h0M447.9 95.7h0M461.5 98.1h0M465.0 95.9h0M478.6 97.8h0M460.3 99.2h0M470.8 88.6h0M466.6 99.5h0M454.7 98.9h0M458.6 95.8h0M464.3 100.3h0M460.2 98.4h0M465.8 88.7h0M456.5 100.3h0M444.2 99.9h0M450.6 84.3h0M468.1 91.0h0M465.4 92.5h0M472.8 96.8h0M468.2 97.7h0M452.3 98.5h0M469.9 99.6h0M452.2 96.1h0M461.8 100.4h0M454.3 89.9h0M465.9 88.9h0M457.3 94.0h0M454.7 87.5h0M466.9 95.4h0M454.5 94.7h0M467.8 88.6h0M467.4 100.4h0M466.3 92.5h0M454.4 86.2h0M453.4 91.1h0M475.1 98.7h0M469.7 100.5h0M453.0 96.3h0M460.1 98.2h0M465.0 98.7h0M464.1 92.8h0M471.7 99.3h0M462.2 89.1h0M463.9 94.8h0M453.4 93.0h0M465.6 94.4h0M455.5 94.4h0M467.2 98.5h0M455.7 94.8h0M465.9 97.5h0M463.6 97.8h0M452.1 86.3h0M486.0 98.9h0M451.9 98.1h0M462.2 88.3h0M464.4 99.3h0M448.0 89.8h0M451.4 92.8h0M452.8 89.6h0M466.9 99.8h0M462.0 91.3h0M465.1 83.9h0M445.7 92.9h0M448.7 99.1h0M466.0 96.5h0M461.8 96.9h0M458.0 94.6h0M462.4 94.1h0M461.5 100.5h0M447.4 98.6h0M455.3 87.6h0M443.6 94.5h0M456.4 99.1h0M468.9 98.8h0M457.3 96.3h0M463.4 94.5h0M469.1 85.2h0M463.4 100.2h0M464.5 99.8h0M452.3 94.6h0M455.8 96.7h0M470.5 96.0h0M457.1 93.8h0M463.1 92.9h0M470.1 99.3h0M442.5 100.4h0M452.4 98.1h0M451.2 98.5h0M456.3 99.0h0M454.9 85.4h0M448.1 100.2h0M445.5 98.9h0M451.7 87.9h0M471.0 100.4h0M464.4 98.9h0M439.8 88.2h0M443.9 92.7h0M451.7 94.6h0M457.1 98.1h0M453.2 98.9h0M474.1 90.5h0M455.3 98.0h0M463.4 91.8h0M455.0 94.0h0M460.4 99.5h0M450.2 95.3h0M460.3 99.6h0M462.7 100.6h0M462.9 83.9h0M450.5 100.5h0M458.3 95.0h0M463.4 98.8h0M476.8 82.6h0M449.7 99.7h0M477.9 80.1h0M451.4 95.3h0M457.3 95.3h0M461.4 95.0h0M455.9 100.5h0M460.8 100.3h0M468.5 92.4h0M456.3 98.3h0M461.0 98.4h0M478.2 96.5h0M452.2 99.1h0M452.2 100.5h0M477.0 95.0h0M465.7 99.6h0M445.7 94.8h0M467.3 87.6h0M451.2 90.0h0M465.6 98.1h0M467.3 98.7h0M467.1 96.3h0M456.3 90.1h0M461.3 100.4h0M467.0 95.1h0M451.0 83.5h0M466.7 96.6h0M457.2 99.6h0M468.6 91.1h0M447.5 100.5h0M466.2 94.5h0M465.0 88.0h0M462.3 94.2h0M479.9 99.3h0M465.5 98.0h0M475.6 89.8h0M455.2 88.3h0M435.5 97.3h0M446.7 99.8h0M464.8 96.8h0M475.6 88.0h0M453.5 99.5h0M461.5 90.3h0M461.3 97.2h0M462.7 95.1h0M466.8 98.3h0M447.3 89.6h0M466.1 96.5h0M456.9 98.5h0M454.2 91.9h0M473.5 97.5h0M458.3 92.9h0M465.0 92.8h0M464.1 90.8h0M477.5 83.5h0M453.2 95.8h0M461.9 91.4h0M466.3 92.1h0M449.0 95.2h0M464.9 84.1h0M462.2 85.1h0M448.9 99.6h0M474.7 100.3h0M457.0 98.7h0M470.2 91.7h0M452.6 88.0h0M467.1 100.3h0M469.7 97.5h0M458.2 98.3h0M466.6 91.3h0M456.7 99.2h0M455.5 93.3h0M471.2 99.7h0M462.9 96.9h0M470.2 98.3h0M479.2 92.5h0M454.5 97.7h0M449.8 89.4h0M463.7 96.6h0M450.7 97.2h0M467.0 94.0h0M452.9 95.0h0M464.4 100.0h0M469.4 95.8h0M463.6 91.9h0M456.5 97.1h0M462.6 95.9h0M453.9 97.1h0M468.7 96.2h0M441.9 97.1h0M452.6 87.9h0M453.9 91.1h0M445.9 99.4h0M450.5 96.3h0M467.6 95.1h0M464.3 98.2h0M454.3 90.2h0M448.7 94.9h0M443.1 92.6h0M457.9 99.3h0M470.1 99.1h0M463.7 94.3h0M465.0 88.8h0M445.6 98.0h0M442.7 81.8h0M449.8 92.1h0M468.2 91.4h0M454.8 95.2h0M462.9 94.7h0M455.8 90.6h0M466.5 94.0h0M454.9 96.9h0M477.1 88.7h0M472.8 97.6h0M450.2 95.2h0M460.9 95.5h0M444.1 80.9h0M468.5 99.3h0M474.2 86.2h0M454.0 97.2h0M462.1 99.3h0M465.2 97.1h0M456.4 89.5h0M462.2 96.4h0M470.0 83.5h0M456.1 98.1h0M446.2 100.6h0M463.7 92.7h0M465.0 76.1h0M463.6 100.3h0M456.9 99.4h0M452.2 100.0h0M453.9 99.5h0M468.2 94.7h0M454.4 100.5h0M467.5 99.1h0M465.8 94.9h0M474.2 95.9h0M462.2 91.5h0M445.5 100.4h0M473.1 88.7h0M462.7 99.8h0M460.9 98.8h0M462.7 97.4h0M453.4 90.4h0M483.5 93.1h0M455.5 93.8h0M475.6 99.7h0M463.2 90.8h0M462.3 89.1h0M455.6 95.5h0M467.6 100.5h0M461.4 96.4h0M470.2 97.7h0M458.1 94.4h0M453.8 99.1h0M467.2 99.2h0M464.9 79.3h0M441.7 96.6h0M453.4 97.5h0M457.2 88.6h0M467.6 99.7h0M448.4 97.6h0M450.9 99.2h0M455.6 99.8h0M451.8 86.1h0M458.0 100.3h0M463.3 98.3h0M449.6 96.1h0M464.3 92.0h0M471.0 95.5h0M469.5 86.4h0M460.8 94.2h0M464.0 97.7h0M457.9 93.2h0M442.4 99.0h0M473.5 99.6h0M466.1 99.2h0M449.2 97.9h0M462.5 100.0h0M470.7 83.7h0M462.9 97.6h0M458.4 97.5h0M457.0 90.0h0M448.2 93.3h0M458.9 97.5h0M466.2 97.3h0M463.4 99.7h0M455.7 97.5h0M464.9 96.4h0M449.9 90.4h0M464.4 87.3h0M457.9 90.3h0M453.1 89.8h0M470.7 91.8h0M452.5 99.3h0M458.0 91.9h0M467.8 97.7h0M469.0 98.0h0M467.9 90.4h0M450.6 98.2h0M451.3 98.8h0M467.5 99.3h0M450.0 89.1h0M446.1 97.7h0M481.6 97.7h0M469.9 96.6h0M466.4 99.8h0M466.4 99.9h0M450.9 92.2h0M461.3 99.3h0M460.7 98.2h0M455.2 100.6h0M467.4 93.1h0M464.0 96.4h0M456.6 97.6h0M454.0 76.4h0M468.2 100.5h0M453.3 98.5h0M446.1 97.2h0M463.4 97.9h0M468.8 95.2h0M467.1 94.8h0M469.2 97.7h0M462.5 100.3h0M446.3 98.3h0M467.5 92.3h0M469.5 98.9h0M463.2 84.7h0M450.6 94.9h0M451.7 94.7h0M463.4 88.4h0M457.4 91.2h0M461.2 93.5h0M443.4 83.5h0M460.8 97.2h0M464.3 100.6h0M467.7 100.0h0M463.3 100.4h0M473.7 98.4h0M464.7 70.7h0M452.6 98.2h0M449.5 99.3h0M468.1 95.5h0M456.3 88.5h0M463.7 92.7h0M455.2 95.4h0M468.8 93.5h0M456.1 86.2h0M457.5 92.5h0M447.7 95.0h0M462.8 96.0h0M458.1 91.3h0M458.7 99.6h0M464.3 94.3h0M459.9 99.4h0M442.7 89.9h0M471.8 91.3h0M465.2 95.3h0M470.8 100.4h0M458.5 100.5h0M446.6 99.7h0M446.8 94.3h0M447.0 92.7h0M460.3 96.6h0M466.4 81.0h0M464.7 97.7h0M455.3 96.6h0M465.1 88.7h0M452.6 81.0h0M463.5 92.8h0M463.7 98.7h0M464.4 90.2h0M452.1 89.8h0M458.8 96.6h0M474.6 97.0h0M456.7 85.9h0M463.1 93.3h0M474.1 100.3h0M462.3 90.7h0M465.9 94.6h0M456.0 99.2h0M483.0 96.2h0M453.2 96.4h0M447.9 97.0h0M452.3 97.2h0M450.4 75.2h0M450.9 100.2h0M457.2 95.1h0M446.4 82.1h0M462.2 100.2h0M461.7 96.2h0M461.9 95.3h0M454.6 95.7h0M463.8 95.4h0M451.1 96.2h0M443.2 92.5h0M451.0 96.1h0M471.4 86.3h0M468.6 84.4h0M468.6 96.6h0M468.5 95.9h0M457.1 99.2h0M446.6 99.0h0M444.2 98.4h0M454.7 83.4h0M465.6 90.6h0M467.3 94.6h0M462.7 94.3h0M448.8 96.8h0M441.7 98.8h0M464.6 90.3h0M457.1 91.6h0M461.4 98.5h0M455.1 98.7h0M476.9 93.0h0M455.0 100.2h0M462.6 94.3h0M463.8 99.8h0M468.4 96.6h0M463.0 99.0h0M448.0 97.7h0M464.4 86.6h0M447.6 96.8h0M455.3 90.0h0M462.2 96.8h0M469.0 94.6h0M441.9 97.6h0M456.2 95.1h0M447.4 98.0h0M442.5 97.3h0M473.3 91.6h0M467.8 99.0h0M478.9 96.7h0M468.5 95.0h0M457.0 87.4h0M467.9 98.5h0M463.9 95.5h0M474.9 98.2h0M452.3 80.3h0M468.0 98.5h0M477.9 91.3h0M471.5 99.2h0M463.4 94.4h0M456.4 89.2h0M451.8 84.3h0M464.5 91.0h0M451.8 97.9h0M467.3 98.3h0M433.0 97.9h0M465.2 99.8h0M461.4 96.1h0M455.2 97.3h0M451.0 95.3h0M465.4 99.9h0M463.4 100.5h0M457.6 90.3h0M453.2 86.4h0M454.1 96.3h0M452.4 99.1h0M451.6 100.3h0M463.5 99.5h0M450.0 97.0h0M453.8 90.6h0M463.2 98.3h0M469.2 91.5h0M464.9 94.1h0M448.5 99.8h0M471.4 98.0h0M445.5 97.7h0M471.6 96.9h0M457.6 97.1h0M464.0 99.3h0M450.3 88.3h0M453.7 95.6h0M461.0 96.0h0M469.1 92.8h0M458.9 99.6h0M452.2 92.7h0M451.9 89.0h0M451.8 83.5h0M465.9 100.3h0M450.4 92.8h0M464.5 94.2h0M464.3 93.5h0M456.8 98.9h0M452.0 96.3h0M468.3 89.5h0M445.1 81.2h0M472.9 69.2h0M433.4 74.6h0M473.3 76.6h0M434.9 64.8h0M426.0 60.3h0M438.0 72.5h0M497.6 77.1h0M422.2 64.1h0M444.3 77.9h0M489.5 80.5h0M447.0 89.6h0M495.2 86.5h0M437.2 73.6h0M439.3 89.2h0M487.9 86.4h0M470.4 82.5h0M420.3 61.5h0M501.4 66.1h0M432.9 73.3h0M422.4 61.9h0M431.8 88.5h0M428.1 68.1h0M496.9 82.4h0M421.0 72.8h0M476.5 82.2h0M417.9 71.9h0M437.0 79.3h0M481.6 83.0h0M434.6 86.3h0M436.5 72.3h0M476.7 72.1h0M415.5 60.7h0M481.1 72.7h0M443.3 83.9h0M496.9 63.3h0M441.2 84.5h0M427.4 86.9h0M499.6 74.5h0M476.0 75.3h0M476.9 91.2h0M496.9 90.3h0M424.5 63.4h0M418.9 71.0h0M430.0 68.9h0M489.1 68.8h0M493.3 87.2h0M446.4 90.0h0M438.4 83.9h0M483.5 64.3h0M447.8 78.5h0M495.7 91.6h0M425.8 87.2h0M485.4 84.7h0M440.9 69.0h0M423.6 60.0h0M433.6 61.9h0M490.9 65.2h0M498.8 72.2h0M420.6 71.3h0M486.2 91.0h0M493.3 64.4h0M492.5 63.2h0M419.4 65.2h0M425.8 63.6h0M431.8 72.7h0M446.7 80.8h0M432.0 76.1h0M475.2 84.1h0M419.3 66.9h0M422.3 88.5h0" stroke="#a9a9ba" stroke-width="1.10" stroke-linecap="round" fill="none"/>
<path d="M417.3 97.4L459.6 103.2L498.5 97.4" fill="none" stroke="#fff" stroke-width="2.6" stroke-linejoin="round"/>
<ellipse cx="459.6" cy="103.4" rx="9" ry="2.4" fill="#fff"/>
<path d="M417 97.2L459.6 103.6H417Z" fill="#f6d3e4" stroke="#3c2a40" stroke-width="0.7"/>
<path d="M459.6 103.6L498.5 97.2V103.6Z" fill="#c9c5eb" stroke="#2c2a4a" stroke-width="0.7"/>
<path d="M403.1 103.8H509.8" stroke="#1e1e1e" stroke-width="1.3"/>
<rect x="403.4" y="155.5" width="3.1" height="3.1" fill="#22408e"/>
<text x="410" y="159.1" font-size="5.55" fill="#222">ABC DLBCL – <tspan font-style="italic">BCL2</tspan><tspan font-size="3.6" dy="-2.6">GA</tspan></text>
<circle cx="410.9" cy="167.9" r="1.25" fill="#111"/>
<text x="414.9" y="169.9" font-size="5.40" text-anchor="start" font-weight="normal" fill="#222" >18q</text>
<circle cx="410.9" cy="175.5" r="1.95" fill="#b01030"/>
<text x="414.9" y="177.5" font-size="5.20" text-anchor="start" font-weight="normal" fill="#222" >FDR&lt;5%</text>
<path d="M403.1 162.9V242.6H505" stroke="#1e1e1e" stroke-width="1.3" fill="none"/>
<path d="M400.5 239.3H403" stroke="#1e1e1e" stroke-width="1"/>
<text x="398.8" y="241.5" font-size="6.20" text-anchor="end" font-weight="normal" fill="#333" >0.0</text>
<path d="M400.5 219.8H403" stroke="#1e1e1e" stroke-width="1"/>
<text x="398.8" y="222.0" font-size="6.20" text-anchor="end" font-weight="normal" fill="#333" >2.5</text>
<path d="M400.5 200.3H403" stroke="#1e1e1e" stroke-width="1"/>
<text x="398.8" y="202.5" font-size="6.20" text-anchor="end" font-weight="normal" fill="#333" >5.0</text>
<path d="M400.5 180.6H403" stroke="#1e1e1e" stroke-width="1"/>
<text x="398.8" y="182.8" font-size="6.20" text-anchor="end" font-weight="normal" fill="#333" >7.5</text>
<path d="M431.7 242.6V245.2" stroke="#1e1e1e" stroke-width="1"/>
<text x="431.7" y="254.2" font-size="6.50" text-anchor="middle" font-weight="normal" fill="#333" >−1</text>
<path d="M463.4 242.6V245.2" stroke="#1e1e1e" stroke-width="1"/>
<text x="463.4" y="254.2" font-size="6.50" text-anchor="middle" font-weight="normal" fill="#333" >0</text>
<path d="M495.1 242.6V245.2" stroke="#1e1e1e" stroke-width="1"/>
<text x="495.1" y="254.2" font-size="6.50" text-anchor="middle" font-weight="normal" fill="#333" >1</text>
<text transform="translate(454.5,267.1) scale(0.70,1)" font-size="8.7" stroke="#222" stroke-width="0.22" text-anchor="middle" fill="#222">Fold change (log<tspan font-size="5.4" dy="1.6">2</tspan><tspan dy="-1.6">)</tspan></text>
<text transform="translate(384.2,202.2) rotate(-90) scale(0.74,1)" font-size="8.0" stroke="#222" stroke-width="0.2" text-anchor="middle" fill="#222">p–value (–log<tspan font-size="4.8" dy="1.5">10</tspan><tspan dy="-1.5">)</tspan></text>
<path d="M483.4 206.8h0M456.0 228.1h0M458.3 229.8h0M458.6 236.2h0M449.7 239.0h0M454.8 230.3h0M446.8 233.7h0M456.4 225.8h0M462.5 233.6h0M474.4 225.7h0M447.4 238.2h0M460.4 231.9h0M459.6 236.8h0M472.3 236.6h0M455.6 238.0h0M468.1 217.7h0M461.1 233.5h0M473.0 229.3h0M460.2 237.9h0M447.8 235.9h0M483.6 207.8h0M449.9 238.6h0M457.9 239.0h0M448.8 218.8h0M481.0 229.6h0M465.7 233.4h0M457.0 238.3h0M469.4 201.6h0M457.4 237.9h0M467.3 218.3h0M473.4 232.4h0M455.2 211.3h0M457.2 211.0h0M452.8 217.1h0M460.5 235.9h0M453.1 229.1h0M476.0 217.3h0M454.0 229.0h0M459.4 235.7h0M466.2 229.5h0M452.2 229.0h0M465.9 239.3h0M477.4 220.0h0M480.1 225.0h0M459.3 231.8h0M460.9 231.1h0M476.1 229.6h0M470.7 210.6h0M454.2 213.1h0M453.8 225.3h0M468.3 235.0h0M447.0 233.1h0M473.6 229.2h0M470.3 235.2h0M457.7 215.3h0M458.5 237.8h0M461.7 232.0h0M458.8 235.5h0M471.1 226.7h0M467.6 218.7h0M474.6 216.5h0M476.7 222.5h0M454.1 238.3h0M449.8 226.0h0M488.7 236.8h0M452.5 227.5h0M450.5 223.8h0M456.3 220.8h0M476.7 234.3h0M459.3 238.1h0M457.9 234.5h0M471.5 229.7h0M454.4 226.1h0M453.7 206.7h0M483.9 237.6h0M467.3 220.6h0M459.6 223.1h0M467.4 229.7h0M453.2 234.5h0M474.1 217.6h0M457.7 234.5h0M454.4 231.9h0M447.1 196.3h0M450.7 227.1h0M456.5 225.7h0M469.5 238.5h0M472.6 238.6h0M446.9 233.1h0M467.9 225.5h0M460.5 237.0h0M460.6 230.2h0M474.7 237.7h0M469.8 226.4h0M462.3 227.1h0M478.1 236.5h0M460.8 235.4h0M476.3 219.7h0M469.3 210.3h0M478.6 224.6h0M456.1 207.5h0M465.9 237.8h0M458.2 219.4h0M474.5 199.8h0M454.0 228.6h0M457.8 226.2h0M470.1 222.8h0M469.1 217.8h0M471.3 225.7h0M457.4 239.3h0M447.4 228.7h0M476.1 226.6h0M449.3 228.3h0M481.0 209.9h0M453.1 234.3h0M459.2 227.4h0M471.5 219.4h0M439.2 237.4h0M449.5 232.3h0M450.5 218.5h0M458.4 205.6h0M459.8 216.4h0M449.5 223.4h0M474.1 208.3h0M454.7 236.4h0M471.5 221.0h0M456.9 212.2h0M471.4 237.1h0M460.2 228.0h0M461.1 220.5h0M456.8 226.6h0M486.0 231.9h0M454.9 222.5h0M459.4 220.4h0M459.1 231.1h0M458.2 232.8h0M454.9 236.9h0M444.7 203.1h0M468.3 224.5h0M460.1 222.7h0M448.9 202.5h0M455.8 206.8h0M456.3 230.0h0M452.8 226.6h0M453.5 232.9h0M472.3 227.8h0M469.3 239.2h0M474.5 234.8h0M455.4 206.6h0M469.8 225.6h0M471.5 227.5h0M470.3 232.4h0M457.6 226.9h0M438.9 235.6h0M451.3 237.3h0M460.8 222.1h0M453.8 228.2h0M457.3 238.6h0M470.3 237.7h0M455.4 237.8h0M471.6 233.8h0M456.1 225.4h0M451.8 231.7h0M452.7 227.2h0M478.2 222.1h0M460.3 230.5h0M446.1 216.1h0M460.8 229.5h0M459.7 223.0h0M455.2 215.6h0M467.9 225.9h0M473.7 238.8h0M453.8 228.2h0M466.7 218.7h0M450.8 227.4h0M470.7 219.7h0M468.5 239.3h0M469.0 236.1h0M467.1 226.6h0M470.7 236.9h0M477.1 208.8h0M468.7 223.3h0M462.9 233.5h0M460.9 234.4h0M481.9 226.9h0M474.7 220.8h0M465.5 238.1h0M468.1 237.4h0M451.1 215.3h0M468.2 218.4h0M463.1 238.7h0M461.3 227.0h0M456.4 239.3h0M458.5 238.9h0M448.7 199.8h0M457.1 216.0h0M448.0 230.9h0M474.2 224.2h0M471.6 227.1h0M446.9 235.8h0M456.6 238.6h0M455.2 224.6h0M474.4 236.2h0M471.2 232.4h0M467.0 238.1h0M465.9 233.1h0M459.5 218.8h0M462.0 236.9h0M464.6 238.5h0M487.9 237.0h0M459.9 214.7h0M456.5 222.4h0M464.4 237.1h0M467.1 229.7h0M456.3 236.2h0M454.2 228.4h0M455.6 223.4h0M446.6 218.2h0M453.1 229.5h0M462.4 234.1h0M483.8 225.0h0M449.9 213.4h0M459.4 212.4h0M462.1 236.5h0M468.2 220.1h0M457.1 236.1h0M466.8 234.0h0M461.9 224.6h0M474.9 203.6h0M462.0 234.7h0M473.9 217.8h0M451.0 223.4h0M470.3 227.7h0M448.8 227.3h0M453.0 232.7h0M458.3 236.8h0M463.2 238.1h0M468.2 238.1h0M449.7 232.2h0M446.5 223.0h0M478.6 218.4h0M457.9 233.3h0M447.0 237.3h0M462.6 234.5h0M469.1 237.4h0M467.9 239.1h0M470.8 221.9h0M479.1 235.3h0M472.8 239.0h0M475.2 222.0h0M457.7 235.2h0M458.0 230.9h0M456.7 213.9h0M455.2 238.3h0M457.3 212.2h0M454.0 221.5h0M457.0 235.4h0M449.8 230.3h0M468.8 223.3h0M477.3 227.2h0M469.2 234.0h0M482.8 228.1h0M448.5 233.4h0M457.5 237.1h0M452.3 230.2h0M460.6 226.0h0M454.3 230.6h0M470.7 232.1h0M467.2 236.2h0M462.0 233.3h0M465.3 236.5h0M452.3 235.5h0M460.2 221.2h0M459.9 211.1h0M448.3 233.6h0M468.8 216.1h0M460.9 236.6h0M453.7 238.4h0M447.2 227.1h0M474.5 231.6h0M470.7 220.1h0M470.8 239.1h0M473.3 238.7h0M466.5 231.5h0M473.1 236.0h0M458.0 205.8h0M471.5 235.9h0M475.8 229.6h0M467.2 235.3h0M466.8 220.9h0M457.9 234.3h0M455.9 231.8h0M456.1 237.5h0M471.6 214.1h0M466.3 232.7h0M467.3 238.3h0M451.1 232.2h0M472.7 234.3h0M464.8 232.6h0M469.4 206.2h0M466.7 230.5h0M446.3 230.3h0M477.5 231.5h0M447.0 206.5h0M455.2 212.3h0M455.8 231.3h0M457.8 233.3h0M471.0 238.4h0M455.5 212.2h0M472.7 223.2h0M478.1 229.5h0M461.8 235.3h0M448.5 227.9h0M458.6 236.8h0M457.8 231.0h0M454.9 215.9h0M456.3 230.6h0M472.3 229.7h0M482.2 230.6h0M458.6 235.2h0M453.0 236.3h0M459.0 226.1h0M464.3 238.7h0M458.0 231.6h0M461.5 239.1h0M456.3 215.6h0M455.1 228.5h0M459.5 225.2h0M456.6 213.1h0M461.4 236.4h0M454.0 230.4h0M466.9 234.9h0M462.2 237.1h0M469.2 239.0h0M456.5 218.6h0M454.9 218.5h0M465.5 227.1h0M473.2 235.6h0M471.0 230.3h0M465.5 239.0h0M449.9 237.2h0M450.4 226.3h0M464.2 238.3h0M446.1 234.6h0M470.4 224.0h0M454.4 229.4h0M480.6 237.3h0M447.2 236.9h0M475.7 227.0h0M466.9 226.5h0M475.1 232.0h0M469.5 233.8h0M466.2 227.2h0M469.4 233.0h0M456.4 227.8h0M474.5 234.5h0M468.4 234.1h0M456.2 223.7h0M467.0 238.4h0M458.5 229.4h0M473.8 221.1h0M451.5 237.7h0M467.9 220.5h0M466.7 228.6h0M461.2 233.2h0M461.4 236.9h0M450.0 219.5h0M466.9 214.3h0M459.4 222.0h0M460.6 230.8h0M462.2 228.7h0M454.5 230.7h0M472.9 219.2h0M472.0 217.4h0M471.1 230.2h0M456.0 239.3h0M479.3 221.3h0M459.7 208.5h0M472.7 225.1h0M462.1 238.6h0M462.2 231.4h0M450.4 214.7h0M467.1 235.5h0M468.7 229.5h0M476.2 237.9h0M453.2 196.0h0M457.2 234.5h0M462.6 238.4h0M446.8 237.8h0M468.3 237.1h0M456.2 211.9h0M455.4 211.0h0M456.5 231.2h0M471.1 235.3h0M457.5 230.9h0M446.7 239.3h0M471.2 208.9h0M468.9 237.6h0M459.0 230.6h0M452.3 224.7h0M468.8 223.9h0M463.4 236.6h0M456.1 223.0h0M456.1 226.9h0M459.9 234.2h0M453.2 230.6h0M468.2 228.3h0M446.7 231.9h0M454.7 223.6h0M469.9 230.4h0M467.8 234.4h0M465.5 238.2h0M449.7 205.8h0M469.6 199.7h0M471.5 198.5h0M435.8 226.0h0M454.7 234.3h0M479.5 224.3h0M453.1 233.1h0M449.8 211.9h0M447.8 232.4h0M460.8 230.2h0M453.9 239.1h0M467.3 238.5h0M461.6 231.6h0M457.6 221.1h0M453.2 229.4h0M447.9 215.7h0M459.4 211.5h0M470.8 233.0h0M457.5 212.9h0M473.0 217.1h0M479.7 230.6h0M462.5 234.8h0M462.1 225.5h0M452.8 232.8h0M472.4 226.9h0M461.3 227.6h0M461.4 239.0h0M456.0 236.1h0M458.6 234.1h0M462.4 236.8h0M473.7 210.2h0M455.3 199.6h0M466.4 236.3h0M466.5 234.7h0M477.6 234.2h0M462.0 235.4h0M472.4 237.8h0M473.0 235.7h0M461.0 222.0h0M456.4 235.8h0M456.6 233.7h0M471.0 228.5h0M463.3 235.5h0M470.3 206.7h0M469.6 204.9h0M475.0 232.5h0M457.7 230.5h0M481.1 225.2h0M459.4 237.0h0M457.3 230.2h0M476.9 235.7h0M455.2 235.0h0M473.9 220.8h0M459.3 222.5h0M451.4 231.3h0M482.2 236.3h0M473.4 232.5h0M478.9 234.9h0M471.9 230.2h0M474.9 233.6h0M473.6 225.1h0M477.9 230.2h0M457.0 219.9h0M473.5 235.7h0M480.3 228.2h0M469.8 234.0h0M465.0 239.2h0M448.5 238.3h0M459.3 237.0h0M456.9 197.8h0M458.3 238.6h0M458.0 216.8h0M459.5 230.5h0M458.8 236.8h0M467.6 238.1h0M456.3 215.1h0M473.4 231.1h0M473.8 217.9h0M462.1 235.2h0M477.4 229.9h0M457.8 230.1h0M482.3 227.0h0M441.6 230.3h0M458.2 237.1h0M470.7 224.1h0M460.2 231.5h0M475.3 211.9h0M454.6 234.1h0M444.1 238.7h0M462.0 232.9h0M448.4 233.5h0M465.9 227.5h0M447.9 232.6h0M455.6 236.7h0M457.2 236.4h0M458.8 227.5h0M453.5 219.7h0M472.2 227.0h0M463.4 238.6h0M455.7 227.4h0M476.7 216.5h0M462.6 234.9h0M454.7 231.6h0M475.1 231.0h0M473.6 231.1h0M450.7 231.0h0M455.3 239.3h0M458.6 232.6h0M468.8 236.8h0M474.2 234.3h0M470.2 236.3h0M454.7 217.7h0M463.5 238.2h0M448.2 216.4h0M457.4 212.5h0M460.0 228.1h0M447.7 232.7h0M476.1 232.6h0M448.7 229.5h0M467.6 222.7h0M451.9 235.4h0M450.6 236.8h0M475.7 232.3h0M453.2 232.4h0M449.4 238.5h0M459.4 222.9h0M445.0 234.3h0M451.4 238.7h0M441.4 234.4h0M460.4 239.3h0M465.7 235.3h0M470.9 213.0h0M476.0 230.4h0M475.8 229.3h0M485.9 235.4h0M457.1 203.3h0M453.5 217.7h0M475.9 228.2h0M456.1 236.9h0M449.2 207.1h0M457.6 233.7h0M455.8 220.2h0M458.8 232.0h0M448.4 213.5h0M466.6 237.8h0M473.8 239.0h0M453.1 212.3h0M461.9 224.7h0M454.6 234.2h0M455.5 226.0h0M458.0 235.6h0M454.0 233.3h0M468.7 213.7h0M461.4 237.1h0M461.2 237.7h0M460.2 221.4h0M473.7 230.2h0M457.3 223.9h0M438.7 239.2h0M452.3 231.7h0M467.6 239.0h0M467.1 221.0h0M484.2 225.8h0M459.7 239.1h0M455.2 224.2h0M453.5 236.7h0M447.1 234.2h0M453.2 226.0h0M470.6 219.7h0M458.0 234.5h0M455.5 237.7h0M450.8 225.8h0M465.2 231.9h0M454.4 226.7h0M456.9 238.8h0M442.7 232.3h0M476.7 239.1h0M464.8 234.5h0M462.1 225.7h0M465.4 234.1h0M469.6 239.0h0M453.6 217.6h0M443.7 219.0h0M454.4 226.1h0M446.9 232.3h0M462.8 238.2h0M458.8 225.3h0M453.1 226.5h0M456.6 238.1h0M461.8 237.0h0M473.3 232.7h0M460.1 228.3h0M457.1 231.7h0M457.2 238.9h0M464.8 236.9h0M491.4 220.4h0M457.9 213.2h0M456.2 234.4h0M459.2 234.3h0M470.3 226.9h0M456.1 235.2h0M478.5 234.1h0M470.4 212.4h0M467.1 231.0h0M459.9 225.3h0M443.0 232.0h0M454.9 235.5h0M471.4 239.2h0M471.0 224.1h0M467.5 231.8h0M458.9 233.8h0M457.2 203.7h0M451.9 217.7h0M471.0 210.4h0M472.0 238.9h0M482.6 232.1h0M447.7 196.9h0M466.1 237.5h0M469.8 225.8h0M477.9 225.6h0M471.5 227.4h0M458.5 214.5h0M454.2 238.1h0M469.2 235.9h0M459.4 211.5h0M453.6 227.2h0M457.8 238.4h0M454.2 228.1h0M453.8 219.3h0M467.2 216.7h0M451.4 234.5h0M460.0 216.6h0M468.5 222.8h0M453.7 234.8h0M473.4 231.1h0M472.1 221.2h0M468.3 235.7h0M469.0 237.2h0M466.1 224.3h0M473.6 221.6h0M461.6 229.6h0M482.2 222.0h0M472.6 227.9h0M470.6 234.1h0M459.6 239.1h0M479.0 237.3h0M450.7 207.7h0M459.8 237.7h0M474.6 214.1h0M459.0 213.7h0M461.5 235.2h0M468.7 220.6h0M460.0 229.6h0M459.8 235.4h0M484.6 238.0h0M464.2 237.9h0M444.9 226.6h0M481.5 234.9h0M458.9 236.7h0M461.5 235.0h0M465.9 225.0h0M471.0 209.4h0M456.5 226.1h0M477.6 214.9h0M457.4 238.2h0M487.6 237.0h0M478.2 231.0h0M467.8 236.9h0M462.9 234.4h0M459.3 229.0h0M450.5 237.8h0M451.6 234.4h0M460.1 219.9h0M470.7 225.4h0M465.3 238.6h0M478.7 201.2h0M454.2 236.3h0M461.2 238.2h0M460.3 232.0h0M478.6 227.6h0M478.8 235.6h0M453.5 236.1h0M471.4 217.7h0M472.5 234.6h0M465.6 226.1h0M451.0 202.5h0M453.1 231.1h0M467.1 226.2h0M452.1 223.5h0M451.5 238.2h0M472.0 234.7h0M454.5 223.3h0M474.2 234.3h0M449.0 237.7h0M452.2 228.7h0M466.2 230.2h0M459.4 237.2h0M460.5 230.8h0M473.5 220.4h0M449.8 221.5h0M484.6 228.8h0M467.2 227.0h0M458.5 233.2h0M450.1 229.6h0M456.5 231.0h0M454.3 226.7h0M469.9 226.0h0M462.3 237.3h0M459.2 216.2h0M468.4 238.9h0M457.0 227.4h0M458.5 216.3h0M471.5 235.0h0M478.4 220.9h0M466.4 231.3h0M475.3 236.5h0M459.9 226.2h0M447.2 230.7h0M453.6 231.4h0M478.9 237.2h0M485.6 229.5h0M465.1 237.8h0M475.9 207.6h0M450.6 208.8h0M482.8 239.0h0M466.3 238.3h0M460.5 230.8h0M478.3 236.6h0M473.7 224.3h0M461.7 239.1h0M476.7 235.0h0M452.4 228.8h0M490.1 211.0h0M459.4 233.4h0M468.5 227.7h0M456.2 236.9h0M466.9 223.6h0M470.3 235.4h0M444.5 208.9h0M458.7 234.9h0M461.8 237.9h0M446.0 232.6h0M444.3 217.7h0M481.0 233.4h0M457.1 203.9h0M454.4 206.4h0M453.7 234.9h0M457.8 230.6h0M470.4 233.1h0M478.8 238.7h0M470.8 210.8h0M482.0 237.9h0M458.1 238.5h0M472.2 235.9h0M451.9 212.3h0M456.1 226.7h0M475.2 234.8h0M457.4 231.7h0M452.3 211.0h0M448.5 235.9h0M455.3 225.9h0M462.1 236.4h0M471.5 232.1h0M476.8 218.8h0M451.6 222.7h0M451.0 237.4h0M454.4 221.7h0M439.5 220.3h0M477.5 203.1h0M464.8 232.7h0M467.8 239.2h0M469.3 196.9h0M462.8 234.2h0M467.4 231.2h0M457.4 238.0h0M477.9 234.7h0M461.8 223.3h0M452.0 228.7h0M456.0 219.2h0M457.3 225.2h0M452.9 232.5h0M457.6 231.3h0M461.8 236.2h0M450.7 230.5h0M469.8 214.6h0M461.8 237.1h0M455.8 235.4h0M478.9 212.6h0M456.8 231.4h0M466.2 238.9h0M445.1 230.9h0M454.3 237.5h0M449.5 235.1h0M454.0 232.1h0M461.0 234.0h0M468.9 223.2h0M456.2 234.9h0M463.2 238.4h0M474.5 221.5h0M461.6 237.0h0M472.5 231.5h0M452.8 217.2h0M460.4 237.5h0M468.5 231.8h0M452.9 224.0h0M453.5 238.1h0M459.6 228.0h0M453.5 226.4h0M477.6 236.6h0M480.0 238.2h0M458.0 235.3h0M455.1 235.8h0M459.8 224.2h0M469.7 232.2h0M461.9 237.8h0M475.5 222.1h0M428.9 221.6h0M454.6 227.0h0M472.6 219.4h0M468.1 238.2h0M471.6 238.2h0M452.8 229.1h0M458.2 201.0h0M457.1 238.5h0M473.2 224.6h0M458.0 223.5h0M464.7 238.0h0M457.9 238.7h0M471.5 227.3h0M484.8 229.4h0M462.9 238.2h0M456.7 236.4h0M469.2 238.1h0M454.9 222.9h0M462.4 230.6h0M453.5 218.6h0M458.4 221.5h0M451.2 238.6h0M424.6 218.5h0M469.8 228.0h0M456.6 238.7h0M453.2 206.2h0M456.4 209.1h0M461.6 225.5h0M466.5 217.7h0M451.9 236.2h0M449.7 234.4h0M455.9 224.9h0M451.5 235.9h0M467.4 225.8h0M477.7 236.9h0M444.1 202.5h0M461.6 232.3h0M442.5 239.1h0M456.8 233.7h0M453.5 238.4h0M473.1 216.9h0M481.6 229.1h0M467.4 222.3h0M448.0 232.3h0M458.8 237.2h0M479.0 228.0h0M478.3 221.9h0M468.8 209.1h0M471.6 229.8h0M459.3 235.8h0M482.2 237.1h0M476.2 215.7h0M466.9 234.3h0M467.4 228.4h0M463.8 239.3h0M455.1 229.1h0M453.6 215.8h0M478.0 207.4h0M454.1 232.5h0M457.5 234.7h0M481.7 235.8h0M468.6 222.0h0M436.8 238.4h0M469.3 235.5h0M472.0 215.1h0M453.1 236.7h0M473.4 211.1h0M470.1 238.2h0M472.2 235.0h0M459.3 225.5h0M447.3 211.4h0M459.7 218.8h0M458.6 215.2h0M453.5 226.7h0M460.2 233.1h0M458.9 216.8h0M452.8 238.7h0M485.6 230.9h0M440.0 236.0h0M460.8 221.7h0M480.5 227.4h0M452.7 235.3h0M462.0 233.4h0M459.5 234.3h0M462.1 232.6h0M459.3 233.4h0M454.3 229.7h0M482.2 230.7h0M472.9 234.8h0M472.8 213.4h0M479.9 221.9h0M454.5 234.2h0M452.8 207.2h0M473.3 226.1h0M458.5 238.4h0M451.6 219.2h0M469.9 231.9h0M468.2 205.9h0M467.8 230.8h0M468.8 225.6h0M456.4 232.6h0M467.1 229.9h0M452.2 236.4h0M451.1 212.0h0M485.1 235.1h0M470.2 211.1h0M460.6 235.3h0M480.6 235.5h0M444.2 218.5h0M467.6 232.7h0M469.1 221.4h0M470.4 237.7h0M446.8 224.0h0M458.3 232.6h0M457.2 227.4h0M468.9 209.2h0M467.1 238.1h0M470.5 237.9h0M477.8 204.8h0M441.8 230.6h0M457.8 225.2h0M453.1 215.6h0M455.2 209.3h0M468.0 206.8h0M471.7 229.2h0M455.6 238.9h0M448.5 223.2h0M456.3 218.4h0M457.2 235.8h0M459.7 206.0h0M460.4 234.1h0M456.3 214.7h0M462.2 233.7h0M451.9 237.8h0M456.6 235.9h0M459.2 239.1h0M448.1 207.1h0M447.9 231.0h0M478.9 236.8h0M451.8 212.9h0M460.5 215.5h0M450.2 223.5h0M460.5 238.1h0M474.0 233.8h0M465.1 229.9h0M461.7 235.3h0M461.5 230.4h0M458.5 222.6h0M468.3 220.3h0M461.3 225.1h0M469.0 228.8h0M464.8 234.5h0M458.1 206.5h0M459.9 225.7h0M477.7 232.5h0M476.7 235.0h0M475.2 236.4h0M454.2 214.7h0M452.7 232.4h0M474.3 226.4h0M486.5 226.9h0M473.9 208.8h0M466.8 215.9h0M448.6 232.5h0M460.4 234.0h0M460.3 220.8h0M451.4 223.8h0M471.6 228.5h0M477.7 237.2h0M476.7 231.8h0M454.5 237.9h0M451.8 232.7h0M466.9 232.6h0M493.3 217.0h0M485.4 224.0h0M462.0 239.0h0M458.3 238.5h0M459.5 237.8h0M468.6 225.8h0M476.0 227.3h0M453.4 218.7h0M477.4 239.3h0M452.2 219.7h0M467.4 222.0h0M445.8 224.0h0M458.2 231.5h0M453.3 239.0h0M453.0 212.6h0M476.5 208.2h0M477.1 208.6h0M456.0 233.6h0M460.6 223.9h0M456.6 222.3h0M462.3 231.1h0M448.3 231.7h0M489.0 232.9h0M482.0 233.1h0M481.2 207.4h0M456.4 239.1h0M475.8 225.5h0M460.7 238.4h0M472.5 224.9h0M457.3 237.0h0M449.5 230.4h0M469.1 236.5h0M466.0 231.3h0M462.7 239.0h0M457.1 220.3h0M468.9 230.9h0M470.6 231.1h0M450.3 234.6h0M447.1 225.6h0M448.4 237.3h0M458.6 210.7h0M458.9 235.6h0M466.2 233.3h0M455.6 227.5h0M468.8 227.0h0M459.5 235.5h0M460.2 235.7h0M457.8 220.8h0M471.1 233.4h0M437.1 232.2h0M449.7 220.2h0M449.5 230.2h0M472.6 236.5h0M468.7 233.5h0M457.6 201.3h0M454.2 228.2h0M470.5 208.3h0M469.2 238.0h0M441.5 212.8h0M455.9 214.4h0M457.0 236.6h0M460.6 239.0h0M458.9 238.7h0M462.7 231.0h0M469.2 238.5h0M466.4 235.3h0M450.5 229.3h0M461.5 231.6h0M457.9 223.9h0M473.1 239.0h0M460.4 227.0h0M457.9 209.9h0M456.5 220.1h0M454.8 234.2h0M468.9 211.6h0M454.4 216.7h0M475.7 238.0h0M455.0 235.6h0M461.5 227.4h0M469.9 236.8h0M446.2 202.6h0M468.4 238.9h0M451.9 214.1h0M452.1 227.4h0M461.8 227.0h0M469.2 230.9h0M471.7 215.7h0M470.6 228.9h0M476.0 223.8h0M467.0 234.8h0M459.7 221.4h0M468.6 223.2h0M453.7 219.9h0M466.8 225.2h0M457.5 234.1h0M451.7 208.0h0M454.6 229.3h0M470.1 238.2h0M459.1 231.4h0M456.5 231.7h0M447.8 218.4h0M455.1 238.3h0M446.5 223.8h0M450.9 234.8h0M467.8 236.8h0M457.9 229.0h0M436.7 229.8h0M458.5 237.5h0M451.7 238.2h0M457.7 222.3h0M454.1 238.3h0M454.8 227.2h0M472.0 229.7h0M470.0 235.5h0M453.7 230.4h0M468.4 223.1h0M456.4 230.9h0M452.6 237.1h0M465.0 234.2h0M471.9 238.7h0M451.9 218.6h0M467.3 234.0h0M451.6 233.6h0M449.0 210.8h0M473.7 235.1h0M468.4 218.1h0M445.5 235.0h0M444.5 205.9h0M446.4 211.9h0M461.1 227.5h0M469.6 236.3h0M461.5 231.1h0M451.3 208.7h0M473.2 220.5h0M469.5 238.2h0M468.1 223.1h0M473.4 225.8h0M471.5 224.1h0M457.0 228.2h0M455.0 213.5h0M457.8 225.0h0M473.4 236.7h0M482.7 236.2h0M454.2 215.1h0M460.0 233.1h0M469.7 212.8h0M474.3 199.2h0M461.3 238.0h0M460.2 221.0h0M459.4 228.2h0M458.6 221.3h0M450.4 221.0h0M457.5 233.8h0M467.2 226.0h0M464.1 237.1h0M457.4 236.1h0M460.4 221.7h0M472.7 219.2h0M462.7 239.1h0M457.6 230.3h0M477.3 230.9h0M447.5 236.7h0M470.4 236.9h0M462.8 233.3h0M469.3 226.2h0M438.6 233.1h0M473.9 212.0h0M449.7 234.1h0M458.5 237.2h0M468.8 232.7h0M478.2 237.3h0M475.1 230.7h0M460.9 236.4h0M453.7 235.7h0M456.7 224.6h0M444.1 236.2h0M451.7 216.6h0M455.4 234.6h0M475.6 206.0h0M469.9 228.2h0M472.8 224.1h0M452.9 209.3h0M468.8 230.0h0M482.7 237.4h0M457.6 225.6h0M473.2 233.2h0M472.6 233.0h0M470.5 235.3h0M481.8 222.0h0M462.1 237.4h0M471.7 231.4h0M459.5 235.8h0M458.6 233.4h0M458.7 239.3h0M460.3 236.9h0M454.7 233.4h0M449.3 238.9h0M453.6 209.8h0M469.3 233.4h0M439.2 216.7h0M460.1 227.2h0M461.4 233.4h0M471.4 215.8h0M479.8 238.8h0M455.8 234.0h0M478.4 235.7h0M457.4 236.3h0M460.0 210.7h0M456.0 233.3h0M460.4 238.1h0M469.7 212.0h0M451.6 204.3h0M460.4 214.9h0M476.7 229.7h0M470.3 234.1h0M453.2 226.9h0M457.7 232.0h0M461.4 232.4h0M485.1 207.8h0M449.1 232.0h0M466.1 227.1h0M477.6 238.2h0M465.7 236.5h0M470.5 235.1h0M456.7 219.8h0M456.0 233.3h0M449.2 212.5h0M457.8 226.3h0M455.7 221.6h0M441.8 232.3h0M460.9 224.7h0M478.5 238.9h0M455.2 233.2h0M473.3 232.9h0M460.1 232.6h0M468.3 239.1h0M460.5 234.8h0M453.4 229.9h0M458.0 223.4h0M458.7 231.2h0M470.6 211.1h0M455.3 221.7h0M472.0 233.0h0M458.1 238.0h0M461.2 225.2h0M478.5 212.4h0M457.3 235.6h0M472.2 221.8h0M480.9 226.3h0M467.0 236.0h0M459.4 238.4h0M475.2 204.5h0M451.2 230.6h0M458.4 235.3h0M440.9 238.7h0M460.8 216.6h0M455.6 235.5h0M450.4 217.0h0M458.6 228.8h0M448.6 232.3h0M483.7 229.7h0M476.5 234.0h0M461.3 238.8h0M447.1 226.0h0M488.8 236.2h0M452.9 233.7h0M446.6 236.2h0M469.5 205.6h0M456.3 235.7h0M477.3 226.7h0M471.5 215.1h0M475.2 219.5h0M470.0 238.3h0M451.7 238.4h0M451.4 234.5h0M475.8 217.7h0M477.6 209.3h0M469.3 217.5h0M487.5 236.2h0M450.1 229.9h0M451.3 202.9h0M455.5 238.6h0M483.1 235.5h0M455.5 206.8h0M464.4 236.4h0M453.0 231.8h0M469.3 219.9h0M465.2 239.1h0M470.3 225.9h0M475.5 226.7h0M456.3 236.0h0M472.2 229.3h0M473.4 238.4h0M456.1 228.4h0M445.3 235.2h0M474.0 236.2h0M474.2 210.3h0M449.9 227.6h0M458.3 220.9h0M451.9 229.9h0M462.0 228.4h0M472.8 232.1h0M459.3 233.6h0M469.6 216.8h0M474.4 237.5h0M452.0 237.8h0M464.9 233.1h0M477.2 196.4h0M457.3 233.3h0M468.9 214.0h0M468.7 230.1h0M455.9 228.2h0M449.5 225.8h0M468.5 234.0h0M453.4 219.8h0M445.2 225.4h0M481.0 211.6h0M455.5 226.3h0M473.3 237.9h0M458.6 234.3h0M455.0 226.3h0M461.0 230.1h0M440.8 218.3h0M445.4 232.2h0M448.2 230.0h0M455.7 230.9h0M455.1 236.6h0M471.8 237.1h0M475.2 229.2h0M469.7 234.7h0M468.2 238.6h0M457.6 226.6h0M457.2 235.1h0M461.2 236.2h0M448.5 238.7h0M458.1 236.5h0M467.5 232.5h0M461.1 238.6h0M443.4 238.5h0M447.2 237.2h0M449.8 232.6h0M469.7 238.5h0M457.0 223.0h0M468.1 237.5h0M474.4 225.4h0M477.3 220.4h0M461.1 230.7h0M470.2 204.7h0M457.1 231.4h0M484.5 232.8h0M459.6 233.4h0M461.0 231.5h0M452.5 239.1h0M473.5 239.1h0M461.3 227.1h0M471.0 226.9h0M459.8 229.6h0M473.9 229.5h0M460.5 237.8h0M459.9 228.7h0M454.4 234.1h0M470.2 227.7h0M482.1 227.7h0M458.2 236.0h0M458.1 213.5h0M439.4 237.1h0M461.0 232.0h0M461.8 232.8h0M473.5 212.8h0M456.6 230.2h0M459.8 219.6h0M484.6 229.1h0M462.9 232.8h0M470.3 232.7h0M451.7 233.2h0M450.9 219.3h0M457.9 238.8h0M452.4 220.1h0M469.1 210.1h0M460.8 237.8h0M473.5 205.0h0M441.3 212.7h0M467.4 235.4h0M471.7 228.5h0M444.8 233.0h0M479.1 230.3h0M466.8 230.2h0M467.0 232.6h0M458.0 201.0h0M451.8 224.0h0M448.5 237.4h0M442.6 236.4h0M454.1 236.6h0M454.8 237.8h0M458.3 206.4h0M471.3 219.8h0M464.9 234.7h0M458.9 207.6h0M461.8 231.4h0M472.1 221.1h0M461.9 231.8h0M472.7 225.9h0M456.1 233.7h0M451.8 236.0h0M472.7 238.3h0M437.2 216.0h0M468.1 222.5h0M460.5 237.4h0M470.3 237.0h0M472.0 235.4h0M457.8 238.4h0M459.9 236.5h0M451.9 220.9h0M476.2 236.8h0M470.3 238.9h0M461.9 229.6h0M457.8 219.1h0M455.1 227.2h0M479.3 237.6h0M452.0 237.8h0M460.4 234.6h0M472.3 209.2h0M471.1 238.7h0M469.9 221.3h0M466.4 225.5h0M460.7 236.9h0M472.0 226.9h0M453.5 226.9h0M451.5 237.2h0M466.2 231.0h0M452.0 237.8h0M459.0 229.3h0M469.8 225.1h0M456.3 239.3h0M440.6 238.8h0M454.5 238.5h0M447.2 229.1h0M458.6 232.7h0M469.1 222.8h0M452.3 223.5h0M449.8 235.5h0M485.5 228.6h0M455.1 220.7h0M446.0 231.6h0M480.5 228.3h0M460.0 237.0h0M454.6 230.4h0M457.1 206.3h0M457.7 230.2h0M444.8 235.1h0M465.5 227.1h0M473.2 223.6h0M467.2 238.2h0M451.8 229.6h0M471.6 223.0h0M457.8 210.7h0M459.9 231.5h0M468.9 236.9h0M456.9 232.8h0M458.5 234.2h0M453.8 238.6h0M466.3 233.2h0M451.6 234.6h0M481.9 230.3h0M466.3 224.6h0M472.1 230.2h0M473.5 234.4h0M494.3 237.8h0M452.1 238.6h0M468.6 202.5h0M449.0 228.0h0M453.5 206.3h0M449.3 236.7h0M450.1 220.4h0M453.4 232.4h0M453.8 225.2h0M447.3 221.0h0M452.9 229.5h0M447.5 220.6h0M469.4 206.2h0M459.5 226.1h0M473.0 226.5h0M471.6 227.2h0M466.6 236.5h0M458.7 228.1h0M474.1 233.7h0M466.2 232.0h0M456.8 205.3h0M471.0 224.7h0M453.0 213.3h0M455.6 228.2h0M445.5 218.4h0M467.6 237.1h0M456.0 237.9h0M470.5 235.2h0M466.8 229.8h0M472.3 210.9h0M472.0 215.3h0M452.5 233.3h0M457.3 230.6h0M454.6 217.9h0M471.9 205.2h0M462.1 233.5h0M459.5 227.3h0M447.6 211.5h0M446.6 237.5h0M456.4 235.2h0M460.3 235.4h0M486.4 238.6h0M450.9 239.2h0M458.5 230.4h0M451.0 223.7h0M453.9 232.3h0M455.2 208.5h0M459.8 233.5h0M465.4 237.2h0M479.2 238.6h0M453.0 234.5h0M454.5 227.3h0M460.6 232.7h0M449.1 222.1h0M457.7 238.5h0M468.6 226.9h0M468.1 225.4h0M454.6 232.6h0M456.3 214.7h0M480.6 217.1h0M470.2 215.2h0M465.2 237.3h0M476.3 230.5h0M462.4 227.7h0M460.4 237.2h0M466.6 230.9h0M469.9 236.7h0M466.7 237.4h0M478.3 234.8h0M470.5 209.1h0M456.2 231.6h0M456.5 233.8h0M462.4 228.8h0M460.8 236.6h0M456.8 233.8h0M456.9 235.9h0M455.1 238.9h0M470.7 221.9h0M466.7 224.7h0M451.8 233.3h0M458.2 235.8h0M460.8 227.7h0M468.1 204.1h0M459.7 234.5h0M458.5 224.5h0M453.9 226.8h0M460.6 215.4h0M459.6 224.0h0M459.5 236.4h0M471.1 238.2h0M459.8 209.6h0M471.0 237.8h0M481.0 238.6h0M466.0 238.8h0M458.2 206.5h0M459.0 227.0h0M457.5 239.2h0M467.0 238.3h0M468.2 234.2h0M446.5 228.3h0M481.9 237.1h0M456.6 231.3h0M457.3 209.6h0M451.4 236.6h0M488.3 220.9h0M473.1 232.9h0M458.3 239.2h0M461.2 229.5h0M438.3 226.5h0M454.7 228.3h0M455.0 230.7h0M458.2 234.1h0M460.2 221.3h0M449.3 228.3h0M468.7 236.2h0M461.0 227.6h0M452.9 234.3h0M460.0 235.8h0M472.2 235.1h0M478.7 235.5h0M458.6 210.8h0M474.6 226.6h0M463.0 239.0h0M469.3 238.3h0M451.7 237.9h0M451.9 226.1h0M462.1 227.3h0M452.1 232.3h0M472.3 237.2h0M456.3 229.4h0M460.7 236.6h0M452.9 229.9h0M453.2 234.6h0M467.9 213.5h0M468.0 217.9h0M449.4 233.8h0M467.9 221.1h0M460.9 223.6h0M482.0 232.5h0M470.1 235.9h0M475.3 203.6h0M460.6 219.3h0M457.9 237.6h0M456.8 238.2h0M472.3 218.6h0M480.0 232.7h0M451.4 237.0h0M460.1 224.9h0M465.6 232.1h0M472.0 230.9h0M470.3 225.9h0M465.4 230.8h0M446.8 233.9h0M466.7 224.9h0M462.7 237.3h0M457.9 232.8h0M455.3 219.0h0M468.9 226.6h0M467.0 234.6h0M471.9 237.7h0M438.1 235.9h0M473.5 231.8h0M460.5 238.6h0M468.3 233.0h0M450.2 239.3h0M453.4 226.1h0M451.7 222.8h0M458.0 216.5h0M476.8 219.1h0M454.4 222.5h0M460.4 215.4h0M481.6 216.4h0M452.8 233.9h0M443.5 239.0h0M449.7 237.9h0M471.2 234.0h0M462.4 233.7h0M470.6 237.5h0M453.6 214.5h0M479.5 230.7h0M478.9 220.5h0M473.6 234.6h0M469.7 238.0h0M451.8 229.6h0M482.9 234.9h0M462.4 238.7h0M478.0 206.7h0M459.1 224.8h0M480.2 215.7h0M455.4 216.9h0M456.8 236.6h0M462.7 235.3h0M457.9 234.8h0M476.5 238.7h0M436.9 232.5h0M455.9 236.6h0M441.4 221.9h0M460.1 212.9h0M458.0 222.9h0M472.1 223.7h0M456.6 228.7h0M462.2 234.3h0M457.8 235.6h0M462.8 236.9h0M471.8 231.5h0M467.2 233.4h0M470.9 230.9h0M461.8 234.7h0M459.1 237.4h0M471.9 236.7h0M449.7 222.0h0M462.0 235.9h0M447.9 227.3h0M461.7 237.0h0M465.9 223.7h0M469.1 223.2h0M442.2 233.0h0M458.1 217.8h0M469.2 231.5h0M457.2 229.6h0M445.8 226.2h0M460.0 222.1h0M449.2 234.8h0M457.8 225.4h0M454.1 235.8h0M463.3 235.3h0M462.1 228.3h0M454.3 213.0h0M474.9 238.6h0M454.2 209.8h0M477.2 239.0h0M474.8 225.8h0M468.4 227.2h0M485.2 214.6h0M462.7 232.3h0M461.5 235.0h0M452.6 224.9h0M468.4 237.8h0M472.9 231.4h0M474.1 233.2h0M461.0 222.2h0M469.1 237.8h0M447.2 221.5h0M479.4 226.4h0M456.3 239.3h0M476.1 225.0h0M458.7 236.5h0M460.4 237.2h0M450.2 223.0h0M454.1 218.6h0M447.3 213.1h0M470.0 237.8h0M444.0 237.7h0M470.6 235.3h0M454.1 229.6h0M476.7 234.8h0M465.1 231.1h0M460.0 209.5h0M457.3 232.3h0M466.5 224.2h0M461.6 236.3h0M466.2 230.1h0M461.6 230.6h0M453.9 224.4h0M457.7 237.8h0M472.3 227.4h0M455.6 200.0h0M457.0 223.8h0M468.2 239.0h0M472.6 232.2h0M488.6 232.4h0M473.1 216.5h0M468.2 230.6h0M461.2 223.4h0M456.3 233.7h0M458.3 231.1h0M453.0 205.4h0M455.6 228.9h0M475.3 237.1h0M443.2 202.2h0M451.6 238.9h0M450.8 228.6h0M469.0 223.0h0M455.1 232.2h0M465.8 239.1h0M460.6 237.8h0M451.7 231.0h0M458.0 234.2h0M446.8 236.7h0M454.6 209.8h0M468.3 206.6h0M457.5 213.7h0M463.2 235.5h0M448.3 237.0h0M467.5 219.9h0M454.6 224.7h0M460.7 217.1h0M485.4 239.0h0M470.5 222.3h0M458.2 233.6h0M467.0 218.8h0M450.3 234.9h0M455.0 235.4h0M473.5 220.7h0M446.5 223.9h0M485.0 228.9h0M454.7 229.5h0M446.8 226.7h0M481.3 236.4h0M455.1 206.6h0M473.0 218.4h0M472.9 234.4h0M458.9 215.2h0M479.7 239.2h0M450.6 215.9h0M452.4 209.5h0M466.4 232.3h0M447.5 210.7h0M458.3 234.6h0M442.9 203.2h0M459.5 232.8h0M474.7 239.2h0M461.3 221.5h0M460.9 239.3h0M481.6 230.9h0M443.7 206.7h0M457.0 234.9h0M457.2 216.0h0M458.4 215.6h0M457.1 236.8h0M446.3 215.6h0M468.9 228.1h0M446.7 234.2h0M481.4 221.7h0M457.5 214.5h0M449.7 214.5h0M458.7 238.5h0M454.2 238.3h0M461.2 237.5h0M466.0 232.6h0M448.3 216.5h0M453.3 225.8h0M472.0 230.9h0M467.0 237.2h0M476.7 223.4h0M451.8 238.5h0M469.5 213.6h0M443.8 224.6h0M440.4 238.8h0M467.0 226.7h0M465.5 234.0h0M477.4 229.2h0M470.2 229.1h0M476.2 204.4h0M446.4 231.2h0M455.1 234.8h0M478.0 238.6h0M451.7 238.8h0M476.5 236.3h0M458.8 234.4h0M458.8 238.7h0M467.0 235.1h0M450.6 230.0h0M459.9 224.9h0M452.9 238.3h0M475.0 238.7h0M459.6 239.1h0M473.1 228.8h0M450.9 226.7h0M454.5 212.5h0M469.0 215.2h0M460.3 222.5h0M455.1 231.2h0M455.1 212.3h0M453.7 224.9h0M489.2 235.1h0M457.8 239.3h0M456.0 222.1h0M447.9 237.5h0M460.8 239.1h0M454.1 230.4h0M468.9 226.4h0M453.8 235.5h0M459.4 222.2h0M465.2 229.6h0M459.2 237.3h0M478.5 218.4h0M442.9 234.7h0M451.7 235.1h0M452.7 222.4h0M459.0 237.2h0M469.9 231.0h0M479.7 237.9h0M448.4 235.5h0M470.5 225.5h0M478.0 235.3h0M470.1 230.8h0M469.7 233.5h0M457.0 233.7h0M455.4 227.3h0M441.8 236.5h0M469.7 224.6h0M459.7 232.0h0M466.0 238.2h0M456.7 232.5h0M470.5 234.5h0M450.9 219.1h0M450.8 224.8h0M453.5 235.1h0M454.4 232.9h0M486.8 237.3h0M451.6 239.2h0M452.8 237.5h0M475.6 236.0h0M456.4 227.2h0M483.7 236.1h0M466.3 238.2h0M459.5 232.2h0M470.1 236.8h0M478.4 226.4h0M466.7 234.9h0M460.7 217.5h0M471.1 232.1h0M473.4 232.5h0M475.8 225.3h0M461.6 233.5h0M465.9 230.0h0M433.3 235.7h0M477.1 226.1h0M460.5 235.2h0M477.5 236.7h0M456.1 221.1h0M470.1 237.7h0M458.8 238.5h0M439.9 216.0h0M449.9 228.3h0M449.1 226.4h0M458.2 238.1h0M456.3 232.3h0M457.4 227.4h0M457.7 237.7h0M471.7 212.0h0M466.9 234.8h0M449.3 229.1h0M475.2 234.8h0M452.8 211.1h0M458.7 226.0h0M452.8 231.4h0M461.8 234.1h0M476.7 235.2h0M468.2 234.7h0M454.8 219.5h0M470.1 229.7h0M459.4 233.1h0M449.4 234.1h0M476.5 233.9h0M452.8 233.6h0M455.3 231.5h0M465.4 226.3h0M465.0 231.1h0M459.4 231.1h0M467.3 211.5h0M448.6 207.6h0M452.2 222.6h0M458.5 237.8h0M455.2 219.1h0M457.4 226.1h0M469.9 224.2h0M434.1 227.6h0M467.8 219.5h0M471.0 227.2h0M443.8 208.5h0M468.5 237.6h0M455.4 215.8h0M438.7 219.9h0M448.6 233.8h0M461.1 238.7h0M464.1 239.2h0M454.3 237.1h0M456.2 235.8h0M450.2 237.4h0M451.0 238.5h0M435.0 228.9h0M451.7 235.2h0M459.5 231.8h0M453.4 238.3h0M457.1 225.7h0M454.0 228.2h0M458.5 227.8h0M469.8 233.3h0M451.1 232.0h0M468.6 225.4h0M457.6 218.0h0M467.9 233.0h0M442.9 227.3h0M454.9 211.3h0M445.4 208.6h0M470.6 226.4h0M457.3 200.7h0M471.1 238.3h0M443.8 231.3h0M462.0 230.2h0M451.0 218.9h0M457.8 237.1h0M481.1 228.5h0M466.7 231.6h0M467.1 223.2h0M459.3 237.3h0M458.9 228.9h0M449.5 221.8h0M447.3 229.7h0M441.3 229.6h0M459.0 221.6h0M461.0 222.9h0M448.6 231.9h0M475.0 225.2h0M485.3 235.1h0M471.1 238.1h0M457.0 238.0h0M468.8 234.8h0M467.9 212.8h0M460.1 213.2h0M451.9 237.7h0M457.6 235.3h0M450.8 239.2h0M458.4 231.9h0M453.0 232.8h0M451.1 238.8h0M456.5 232.5h0M460.5 222.2h0M475.0 229.8h0M450.7 225.8h0M458.7 234.5h0M453.5 224.7h0M476.2 215.8h0M483.5 235.5h0M452.8 224.9h0M464.9 232.9h0M442.3 217.6h0M462.6 237.7h0M451.9 223.5h0M462.6 237.4h0M450.5 225.2h0M473.5 231.6h0M483.1 235.6h0M460.6 238.1h0M456.3 223.8h0M448.0 237.3h0M465.7 229.0h0M458.6 230.1h0M462.9 234.3h0M468.4 235.8h0M453.7 234.8h0M469.5 239.1h0M460.3 238.3h0M458.0 229.3h0M458.8 231.6h0M482.9 237.2h0M475.0 221.6h0M452.1 220.1h0M453.6 231.2h0M447.2 234.2h0M454.8 228.0h0M462.0 230.8h0M451.2 220.6h0M461.8 239.2h0M456.2 231.9h0M453.9 234.5h0M452.2 233.8h0M476.6 204.7h0M446.1 221.9h0M458.1 231.5h0M442.0 238.4h0M441.3 217.1h0M445.0 204.2h0M460.8 229.2h0M440.3 215.8h0M481.2 230.0h0M469.5 228.2h0M467.5 236.7h0M471.2 229.4h0M439.2 235.7h0M474.4 224.1h0M473.2 236.7h0M467.8 235.8h0M463.5 237.3h0M456.4 212.3h0M447.9 224.1h0M459.0 216.6h0M439.9 235.2h0M458.5 212.2h0M448.4 219.5h0M456.9 231.1h0M474.6 212.1h0M475.5 203.0h0M460.1 217.1h0M460.6 223.2h0M468.0 229.7h0M458.1 233.9h0M459.5 213.7h0M469.4 197.2h0M471.5 210.5h0M482.7 237.2h0M460.4 232.5h0M456.6 221.1h0M468.6 227.6h0M453.7 219.2h0M458.5 232.6h0M453.9 221.9h0M471.6 214.3h0M467.1 237.1h0M455.7 226.8h0M472.6 236.6h0M457.3 198.6h0M477.5 238.2h0M461.4 226.1h0M464.6 236.4h0M467.9 237.3h0M457.8 231.3h0M485.3 217.3h0M455.6 236.3h0M468.1 211.6h0M453.9 226.8h0M473.3 216.0h0M480.8 230.0h0M461.0 226.7h0M467.6 234.4h0M456.8 220.0h0M458.4 225.7h0M454.4 223.5h0M462.1 228.3h0M465.8 229.7h0M470.8 226.8h0M453.7 236.4h0M459.5 234.4h0M484.1 225.4h0M476.0 211.0h0M460.0 235.7h0M458.1 226.4h0M446.9 215.2h0M456.8 238.4h0M457.0 223.3h0M469.0 232.8h0M461.8 223.9h0M456.0 213.3h0M471.6 216.0h0M451.3 228.2h0M473.2 223.0h0M451.6 227.0h0M468.9 220.0h0M460.0 212.8h0M452.4 234.7h0M480.9 215.7h0M468.7 229.7h0M457.1 225.6h0M453.1 202.8h0M461.4 233.3h0M433.7 231.1h0M469.0 230.1h0M467.2 232.2h0M455.9 230.5h0M472.1 234.6h0M477.6 227.8h0M470.2 231.4h0M463.0 236.5h0M443.5 210.1h0M453.0 228.6h0M476.4 228.2h0M463.2 237.7h0M453.3 222.6h0M457.2 226.4h0M460.3 236.2h0M452.3 220.6h0M477.4 212.5h0M454.3 215.9h0M452.5 202.6h0M449.3 218.1h0M452.4 214.4h0M480.6 226.8h0M457.9 233.5h0M451.8 237.7h0M466.5 237.0h0M472.0 230.4h0M454.5 236.1h0M462.3 228.1h0M453.7 233.4h0M466.1 238.2h0M479.9 230.2h0M477.2 237.7h0M455.3 215.6h0M452.2 235.0h0M464.9 237.0h0M460.2 235.9h0M460.3 238.3h0M461.1 239.1h0M483.2 238.2h0M466.1 238.0h0M454.0 203.1h0M461.4 227.6h0M473.7 238.4h0M476.6 226.2h0M459.2 213.4h0M459.2 237.7h0M459.0 215.9h0M454.3 239.2h0M473.2 224.4h0M480.2 223.4h0M460.3 235.1h0M458.3 238.5h0M464.8 234.8h0M487.8 238.8h0M477.0 236.4h0M487.4 231.0h0M458.6 236.2h0M466.8 237.8h0M434.7 213.7h0M458.2 231.0h0M469.3 226.6h0M472.3 233.5h0M471.3 230.1h0M446.9 214.4h0M466.8 233.0h0M443.1 217.2h0M449.0 230.7h0M466.2 231.8h0M462.5 234.1h0M477.0 236.1h0M451.1 233.3h0M466.5 238.7h0M461.7 234.4h0M457.9 215.1h0M455.5 234.9h0M453.3 239.1h0M458.6 234.6h0M462.0 231.4h0M476.3 226.0h0M464.6 237.5h0M466.9 216.5h0M460.9 233.2h0M462.3 237.8h0M473.0 234.9h0M475.9 228.9h0M456.6 204.3h0M459.0 226.2h0M471.4 226.7h0M487.0 235.5h0M459.5 232.9h0M452.9 207.0h0M451.7 236.3h0M467.5 235.8h0M474.1 235.8h0M448.6 219.3h0M439.6 236.6h0M458.7 237.4h0M478.1 232.3h0M476.6 204.2h0M459.6 231.5h0M453.3 222.7h0M456.3 227.5h0M488.3 229.1h0M467.8 223.4h0M478.4 231.8h0M460.5 226.2h0M460.4 235.0h0M458.8 230.6h0M448.1 231.0h0M469.3 239.1h0M458.2 226.4h0M444.4 237.8h0M459.4 237.0h0M461.5 232.9h0M461.4 229.3h0M446.5 238.1h0M443.6 225.0h0M481.1 229.8h0M477.6 233.6h0M453.2 239.1h0M458.0 206.9h0M435.2 234.4h0M465.8 232.3h0M466.2 229.4h0M454.9 238.9h0M468.5 229.6h0M472.6 209.3h0M478.0 229.5h0M434.1 231.3h0M459.3 237.7h0M442.3 225.7h0M460.9 238.6h0M466.7 231.0h0M461.6 238.0h0M448.2 233.8h0M468.4 216.4h0M469.1 236.2h0M462.6 235.6h0M460.5 238.7h0M452.8 239.1h0M447.1 237.2h0M444.7 238.1h0M458.2 222.6h0M452.5 219.6h0M471.8 234.9h0M468.3 238.1h0M462.1 234.3h0M458.0 234.8h0M469.0 197.5h0M487.6 216.7h0M447.7 226.9h0M456.4 230.3h0M479.5 229.2h0M458.8 238.6h0M453.3 220.3h0M478.3 225.4h0M457.2 225.7h0M454.6 216.2h0M446.7 231.2h0M483.7 227.1h0M460.2 233.2h0M454.8 233.4h0M458.9 237.2h0M468.0 228.9h0M465.8 238.3h0M461.1 234.3h0M453.6 231.9h0M452.0 221.0h0M477.0 229.9h0M465.9 230.9h0M481.0 236.5h0M460.3 221.5h0M449.2 203.1h0M467.6 212.4h0M462.5 234.5h0M458.4 239.1h0M466.3 238.3h0M467.3 229.0h0M445.1 239.0h0M443.8 208.6h0M455.8 233.0h0M477.6 234.5h0M459.5 236.0h0M458.6 233.9h0M472.5 237.2h0M452.3 232.6h0M481.0 222.7h0M471.8 237.9h0M471.4 233.5h0M460.7 215.6h0M469.1 230.4h0M461.7 236.5h0M469.4 231.0h0M445.0 230.0h0M454.3 233.6h0M470.2 221.2h0M458.4 232.2h0M461.4 228.9h0M464.2 236.0h0M470.2 219.3h0M463.7 239.2h0M487.6 227.2h0M472.2 231.7h0M459.7 228.4h0M455.4 237.3h0M442.3 233.0h0M461.6 227.8h0M475.0 216.9h0M457.8 229.6h0M485.9 225.8h0M448.6 211.6h0M462.3 231.3h0M482.5 222.3h0M455.7 227.3h0M462.5 235.8h0M477.6 235.2h0M461.0 222.7h0M459.0 234.4h0M456.8 228.0h0M453.8 199.0h0M465.0 237.2h0M443.6 213.3h0M466.9 231.7h0M442.2 226.0h0M469.4 226.8h0M452.6 232.0h0M451.5 204.0h0M452.5 224.9h0M462.1 237.0h0M469.2 209.4h0M466.2 234.1h0M454.7 222.7h0M461.8 228.5h0M469.1 210.0h0M458.4 210.3h0M441.6 236.9h0M450.4 236.1h0M454.0 236.3h0M456.9 218.0h0M497.0 238.4h0M468.4 222.1h0M456.5 228.0h0M446.2 238.0h0M455.1 233.3h0M463.0 237.4h0M468.8 237.7h0M445.3 229.5h0M448.0 233.2h0M456.4 236.0h0M439.7 227.2h0M473.0 225.8h0M455.7 210.6h0M461.8 228.3h0M466.7 239.1h0M462.9 238.9h0M454.9 233.1h0M456.5 237.1h0M462.3 229.7h0M460.3 221.2h0M484.0 224.9h0M463.0 239.1h0M472.5 234.2h0M463.1 239.2h0M468.3 231.1h0M478.2 235.1h0M454.6 223.4h0M469.1 230.1h0M472.6 232.6h0M456.1 224.1h0M449.0 239.1h0M452.2 213.9h0M449.6 239.1h0M460.5 236.1h0M457.6 239.3h0M469.5 238.5h0M460.5 233.0h0M456.1 238.4h0M469.9 238.1h0M469.9 224.6h0M472.7 205.0h0M460.5 226.0h0M466.8 238.4h0M442.0 220.7h0M462.0 236.1h0M475.9 234.8h0M476.0 238.9h0M469.0 237.7h0M440.4 234.6h0M458.5 236.4h0M474.5 235.4h0M475.0 238.5h0M462.3 238.7h0M463.0 235.4h0M476.7 237.3h0M456.7 212.2h0M458.6 234.2h0M474.5 231.8h0M467.9 228.8h0M455.3 238.4h0M476.7 211.5h0M459.3 238.1h0M457.4 237.8h0M465.3 235.6h0M478.2 238.2h0M470.8 220.5h0M455.9 235.4h0M450.8 239.2h0M475.8 237.9h0M469.0 237.1h0M467.6 216.7h0M455.1 235.0h0M449.2 200.5h0M454.9 217.9h0M461.3 230.4h0M476.7 235.6h0M469.8 232.3h0M475.7 231.5h0M466.2 237.2h0M471.3 223.8h0M455.1 237.0h0M474.2 237.2h0M472.6 239.0h0M467.8 231.5h0M456.1 208.2h0M466.3 235.0h0M471.8 229.9h0M460.4 237.3h0M459.8 238.4h0M460.5 227.2h0M443.0 210.9h0M469.7 232.3h0M470.8 213.0h0M470.2 238.8h0M450.1 216.4h0M456.8 220.4h0M455.9 233.7h0M460.6 228.9h0M457.4 207.2h0M469.8 234.6h0M468.3 231.5h0M454.5 217.5h0M460.5 226.9h0M476.2 202.7h0M470.1 231.1h0M449.9 231.0h0M449.3 220.4h0M475.7 236.1h0M455.2 237.8h0M476.9 231.8h0M458.1 235.3h0M461.7 237.8h0M479.0 238.9h0M469.6 237.3h0M469.4 236.8h0M468.1 232.8h0M449.3 218.1h0M477.7 217.7h0M479.7 237.3h0M453.9 231.3h0M467.7 233.0h0M446.8 230.5h0M473.9 236.4h0M475.9 215.6h0M447.9 228.2h0M451.5 208.9h0M471.4 226.3h0M476.1 199.6h0M461.7 238.5h0M475.8 230.0h0M473.0 238.4h0M456.8 232.8h0M447.3 236.3h0M450.2 237.8h0M466.4 235.9h0M452.6 236.6h0M459.7 221.5h0M461.3 220.8h0M468.3 237.5h0M454.4 220.6h0M476.2 225.2h0M462.7 230.6h0M459.4 218.6h0M458.3 226.9h0M496.4 236.0h0M462.6 233.6h0M448.6 202.1h0M473.2 221.0h0M466.0 226.9h0M464.7 235.4h0M460.3 232.4h0M475.9 238.7h0M456.0 205.3h0M459.6 235.7h0M446.7 237.9h0M471.4 224.9h0M456.3 235.8h0M466.6 220.3h0M468.3 208.5h0M467.9 233.2h0M459.4 231.5h0M479.6 236.1h0M442.3 232.0h0M457.6 237.9h0M471.4 237.7h0M449.1 233.6h0M470.7 238.2h0M457.1 213.4h0M456.8 212.1h0M462.2 236.2h0M456.5 225.9h0M474.9 230.4h0M441.8 212.2h0M458.5 223.2h0M461.0 236.0h0M457.1 237.2h0M456.6 237.1h0M460.6 218.1h0M454.2 228.1h0M448.3 235.1h0M445.9 225.0h0M447.6 215.7h0M458.3 216.5h0M474.1 227.0h0M461.3 231.3h0M470.5 236.0h0M460.3 236.4h0M467.2 224.4h0M456.5 230.0h0M492.8 227.8h0M473.2 196.6h0M466.2 223.0h0M472.3 238.8h0M453.3 228.7h0M474.2 225.7h0M467.9 226.3h0M482.8 237.0h0M469.8 235.2h0M472.4 228.8h0M473.0 235.8h0M467.4 234.2h0M465.6 239.3h0M456.2 236.9h0M467.9 237.8h0M468.2 237.4h0M465.0 236.9h0M468.5 238.0h0M484.0 227.1h0M467.6 230.3h0M456.0 237.4h0M460.4 217.4h0M466.6 235.7h0M476.5 224.8h0M451.1 228.4h0M449.5 237.2h0M480.9 229.1h0M478.6 236.1h0M456.8 239.0h0M457.4 227.0h0M458.4 234.9h0M470.9 235.7h0M461.5 239.1h0M448.5 231.2h0M461.6 225.2h0M456.5 230.6h0M476.0 233.8h0M455.2 221.8h0M454.5 237.2h0M459.5 234.2h0M466.8 234.3h0M466.8 225.4h0M476.3 209.3h0M467.8 236.2h0M456.2 229.7h0M456.3 238.0h0M456.9 222.7h0M457.3 221.1h0M478.1 237.2h0M455.3 218.3h0M473.0 231.9h0M451.9 212.7h0M453.2 235.8h0M479.9 233.8h0M446.0 226.6h0M470.6 229.3h0M468.5 237.7h0M468.8 216.1h0M453.3 233.2h0M461.7 224.5h0M451.8 220.5h0M483.7 222.7h0M468.1 230.8h0M466.6 218.1h0M476.2 227.8h0M471.0 235.3h0M458.2 234.6h0M454.2 231.5h0M468.6 212.1h0M450.0 235.1h0M455.4 222.9h0M477.4 234.3h0M457.8 232.9h0M471.2 231.3h0M457.4 225.1h0M468.5 237.2h0M457.9 221.1h0M476.1 228.2h0M451.5 218.3h0M459.2 217.5h0M462.6 236.1h0M454.2 206.6h0M462.6 236.0h0M487.9 234.7h0M461.1 226.8h0M451.2 237.4h0M459.2 219.0h0M453.2 236.7h0M473.2 222.0h0M456.7 230.1h0M451.8 231.1h0M467.4 223.0h0M466.6 235.8h0M437.5 238.7h0M470.5 235.7h0M437.9 233.7h0M472.7 238.4h0M448.9 223.1h0M447.4 221.1h0M459.0 219.5h0M460.9 230.3h0M451.5 204.8h0M469.2 236.2h0M466.6 220.6h0M454.9 231.5h0M475.3 236.7h0M455.0 219.8h0M470.4 218.9h0M475.5 238.3h0M459.9 224.8h0M480.0 239.1h0M435.6 236.2h0M480.6 222.9h0M470.0 200.9h0M467.5 237.2h0M457.5 212.7h0M468.9 230.0h0M461.4 222.1h0M452.0 227.9h0M456.4 216.5h0M458.0 214.6h0M493.1 238.7h0M457.9 237.1h0M444.9 230.0h0M465.8 228.0h0M468.8 210.0h0M467.9 218.0h0M458.6 238.6h0M478.4 231.8h0M458.1 227.6h0M458.4 232.2h0M473.6 217.0h0M445.1 238.2h0M449.2 234.5h0M464.7 238.7h0M464.8 234.5h0M484.0 231.5h0M455.7 217.0h0M446.7 239.0h0M456.7 239.1h0M470.2 205.6h0M450.9 238.8h0M456.6 234.2h0M460.3 230.7h0M460.5 236.7h0M451.7 234.3h0M457.3 217.5h0M456.6 196.5h0M456.9 239.3h0M457.6 213.4h0M476.8 229.0h0M487.0 236.0h0M458.9 212.2h0M464.9 235.6h0M461.2 220.5h0M456.5 229.7h0M441.2 230.2h0M460.6 223.2h0M459.5 236.2h0M442.1 238.4h0M476.0 215.2h0M471.2 225.3h0M460.0 222.0h0M460.8 227.7h0M450.0 238.0h0M462.0 238.8h0M454.7 232.0h0M458.6 214.1h0M450.0 208.5h0M455.7 218.4h0M474.8 227.0h0M452.3 237.1h0M483.8 234.2h0M479.1 239.0h0M460.0 216.0h0M468.5 233.8h0M463.3 237.7h0M458.3 233.3h0M468.4 220.4h0M475.7 218.8h0M453.5 202.4h0M464.9 234.3h0M455.9 204.9h0M455.5 229.6h0M458.9 213.7h0M452.6 215.2h0M476.5 212.7h0M471.4 229.4h0M438.7 233.4h0M453.4 235.2h0M451.8 222.1h0M448.6 233.3h0M458.2 223.3h0M455.2 212.0h0M473.0 233.4h0M464.2 238.1h0M469.8 227.2h0M460.3 231.4h0M465.9 233.4h0M474.1 224.3h0M454.6 238.0h0M469.9 228.9h0M477.0 234.1h0M446.4 238.8h0M450.2 229.4h0M439.6 215.9h0M477.1 234.8h0M456.4 238.4h0M461.9 229.2h0M461.5 228.2h0M468.4 221.6h0M459.3 237.7h0M448.7 239.2h0M452.3 210.6h0M479.0 223.1h0M479.7 235.2h0M464.4 235.0h0M471.8 239.1h0M457.5 222.5h0M475.7 230.8h0M459.0 227.6h0M461.3 238.5h0M447.8 226.2h0M461.3 231.7h0M471.2 237.4h0M453.3 214.8h0M477.9 224.8h0M455.3 224.6h0M477.1 236.8h0M471.1 226.8h0M451.9 222.5h0M479.1 206.9h0M448.0 233.1h0M448.3 230.6h0M457.4 205.7h0M471.0 236.1h0M460.4 239.1h0M471.9 224.5h0M451.0 210.4h0M478.4 234.5h0M457.4 228.6h0M461.2 223.9h0M469.0 224.4h0M443.9 236.5h0M475.5 228.6h0M448.5 234.5h0M464.9 230.4h0M486.7 234.1h0M467.5 239.0h0M467.8 235.5h0M459.0 235.4h0M452.9 233.4h0M472.5 232.7h0M464.9 237.8h0M471.3 230.0h0M442.3 226.9h0M476.2 221.0h0M456.3 220.4h0M444.1 219.7h0M466.5 237.5h0M451.2 234.9h0M451.2 216.3h0M443.9 225.4h0M454.2 230.5h0M447.3 230.2h0M457.0 208.5h0M454.7 230.6h0M461.1 233.1h0M449.6 234.8h0M450.7 229.3h0M447.9 232.2h0M469.1 233.4h0M461.1 235.4h0M468.8 218.5h0M485.1 239.1h0M465.2 231.9h0M468.1 232.8h0M456.1 218.3h0M464.2 238.7h0M460.5 216.4h0M489.7 235.3h0M460.2 222.1h0M448.2 237.3h0M466.8 238.1h0M477.9 225.3h0M458.6 237.4h0M472.9 226.3h0M449.3 233.1h0M478.2 227.1h0M476.1 227.2h0M460.1 234.9h0M452.6 220.6h0M455.4 218.2h0M444.9 237.4h0M460.0 238.4h0M457.7 233.5h0M455.7 238.9h0M475.0 232.9h0M455.7 199.1h0M479.0 235.0h0M465.3 235.5h0M455.4 225.1h0M452.4 216.3h0M461.6 236.1h0M478.5 228.8h0M460.2 227.5h0M455.9 226.6h0M461.1 222.5h0M443.3 232.0h0M458.3 219.8h0M460.3 221.6h0M453.3 227.4h0M458.7 222.3h0M460.1 215.8h0M455.1 238.2h0M469.5 206.1h0M467.3 229.3h0M467.9 231.9h0M460.5 236.0h0M468.7 233.3h0M456.2 213.1h0M455.6 211.6h0M456.5 228.9h0M458.4 225.0h0M475.5 197.0h0M469.8 231.9h0M474.6 221.2h0M465.4 237.9h0M465.4 238.8h0M471.2 210.6h0M456.1 237.1h0M452.4 234.2h0M468.3 206.8h0M466.8 238.6h0M460.8 238.5h0M454.0 235.3h0M482.4 221.1h0M457.0 216.6h0M449.6 210.1h0M465.8 226.2h0M461.9 231.5h0M454.7 230.1h0M467.8 226.6h0M472.8 205.5h0M470.8 239.1h0M454.5 230.5h0M458.1 224.8h0M470.1 212.0h0M479.4 231.3h0M452.9 224.4h0M450.5 232.4h0M467.3 225.7h0M475.0 236.1h0M456.3 215.6h0M457.0 224.9h0M474.4 211.2h0M448.7 227.4h0M476.4 197.6h0M457.8 215.2h0M453.0 205.0h0M481.4 203.9h0M469.8 234.0h0M468.9 228.3h0M469.4 220.0h0M462.5 233.1h0M465.6 234.1h0M460.9 228.6h0M450.1 235.6h0M451.8 237.8h0M455.3 216.0h0M477.2 216.1h0M461.4 233.4h0M466.9 231.1h0M465.9 238.6h0M457.3 237.5h0M448.3 232.3h0M475.6 199.8h0M466.4 231.1h0M460.1 227.1h0M481.3 229.3h0M465.7 230.6h0M477.8 223.7h0M468.0 205.4h0M473.5 236.0h0M454.6 235.8h0M458.7 206.9h0M443.9 207.9h0M451.5 237.9h0M457.7 230.4h0M459.1 232.8h0M457.9 227.3h0M474.1 237.2h0M456.9 226.1h0M454.9 223.0h0M470.4 231.0h0M475.7 220.9h0M454.5 224.6h0M482.8 213.9h0M455.3 238.3h0M467.5 234.5h0M482.2 220.4h0M479.1 236.0h0M450.6 221.6h0M476.1 227.7h0M469.7 231.3h0M452.2 214.3h0M453.3 230.3h0M460.7 232.1h0M478.5 228.6h0M458.0 234.4h0M473.0 210.4h0M459.8 234.9h0M460.9 238.9h0M471.1 229.8h0M465.0 236.3h0M464.1 239.0h0M450.3 217.1h0M450.9 211.7h0M470.5 232.9h0M467.6 208.7h0M472.5 224.1h0M474.0 234.2h0M467.3 236.4h0M465.9 234.7h0M458.8 229.9h0M449.8 216.1h0M459.2 232.4h0M468.7 234.6h0M444.4 228.4h0M457.3 209.7h0M480.2 199.9h0M458.5 236.9h0M437.2 225.7h0M457.5 211.7h0M455.9 235.4h0M459.9 217.0h0M480.2 235.4h0M473.5 224.0h0M454.1 233.4h0M459.8 236.3h0M446.7 232.7h0M467.7 228.4h0M459.5 237.7h0M458.7 236.3h0M452.9 206.9h0M460.4 239.1h0M444.9 229.8h0M456.4 237.1h0M473.9 236.2h0M437.3 209.8h0M450.2 236.2h0M457.5 234.2h0M454.8 233.3h0M456.2 237.7h0M457.5 238.2h0M444.8 234.7h0M465.7 228.3h0M453.0 230.8h0M452.9 227.1h0M485.1 231.8h0M451.0 224.3h0M472.4 226.0h0M465.0 233.0h0M472.1 233.9h0M457.4 235.2h0M471.5 209.0h0M443.1 237.1h0M447.4 231.6h0M461.8 224.8h0M468.6 228.9h0M456.1 235.5h0M462.8 235.2h0M473.1 224.1h0M470.7 219.8h0M470.8 211.0h0M456.3 213.3h0M455.8 233.6h0M470.7 235.4h0M458.0 230.5h0M462.3 236.9h0M482.7 236.6h0M452.3 239.0h0M480.8 235.7h0M450.2 231.6h0M465.1 237.5h0M471.0 212.9h0M465.4 228.4h0M461.4 227.8h0M455.6 238.6h0M473.8 224.6h0M452.7 215.2h0M455.9 231.2h0M460.1 233.3h0M470.9 228.9h0M455.4 237.9h0M462.4 235.4h0M467.2 212.8h0M456.4 218.6h0M452.6 235.3h0M479.3 237.3h0M476.0 211.5h0M451.7 208.4h0M466.5 230.7h0M450.1 207.7h0M473.0 235.4h0M445.5 228.2h0M470.1 234.7h0M463.5 238.0h0M476.2 236.0h0M473.9 225.0h0M469.6 229.2h0M469.9 216.3h0M483.8 227.5h0M462.8 232.2h0M469.4 227.0h0M458.8 217.3h0M443.8 233.8h0M474.5 226.0h0M460.7 231.1h0M462.5 238.0h0M443.2 224.4h0M447.2 233.5h0M474.6 231.5h0M453.4 221.2h0M455.3 232.7h0M472.6 231.9h0M443.7 234.0h0M451.2 223.0h0M458.2 225.5h0M459.4 235.6h0M450.4 211.4h0M458.9 212.6h0M457.4 230.1h0M469.9 209.4h0M459.4 237.6h0M466.5 222.7h0M487.4 234.7h0M448.5 229.1h0M459.1 237.4h0M455.5 230.3h0M462.5 232.8h0M476.2 230.0h0M453.3 234.7h0M480.6 237.1h0M458.3 213.0h0M468.1 205.4h0M474.6 229.0h0M473.3 233.7h0M468.3 237.7h0M456.5 237.0h0M473.4 227.3h0M448.0 213.0h0M469.1 236.4h0M460.6 217.5h0M468.1 229.8h0M459.5 234.7h0M468.2 223.9h0M470.3 224.6h0M462.7 232.5h0M479.6 224.9h0M469.4 237.1h0M460.3 235.8h0M456.5 229.5h0M468.1 230.2h0M452.9 219.5h0M450.7 236.6h0M483.0 212.3h0M468.8 216.8h0M454.3 231.1h0M459.1 233.8h0M452.2 236.3h0M471.2 207.6h0M469.1 236.0h0M451.4 239.0h0M460.9 235.9h0M445.1 233.2h0M462.4 237.4h0M459.7 223.8h0M468.0 234.8h0M478.1 233.5h0M435.7 236.6h0M448.1 229.4h0M475.2 205.4h0M471.3 229.9h0M464.8 237.4h0M476.2 213.5h0M462.5 229.0h0M459.4 234.5h0M476.1 234.4h0M443.5 228.5h0M486.8 236.8h0M455.5 237.4h0M472.3 239.1h0M451.2 206.0h0M475.7 232.6h0M454.2 238.2h0M469.9 235.9h0M448.9 234.2h0M467.5 227.0h0M437.5 226.5h0M461.2 238.7h0M483.4 228.2h0M452.1 239.3h0M475.8 237.1h0M487.1 238.8h0M474.4 225.1h0M460.8 231.1h0M471.7 237.4h0M446.1 232.3h0M449.4 225.3h0M482.4 235.8h0M446.3 232.8h0M447.1 231.9h0M451.2 229.0h0M448.4 228.9h0M467.9 235.1h0M470.4 226.4h0M456.8 236.3h0M453.8 228.0h0M453.4 223.5h0M468.5 227.3h0M477.4 238.4h0M455.6 235.1h0M475.9 234.5h0M459.7 225.4h0M459.5 231.7h0M448.7 231.3h0M460.1 219.5h0M457.4 216.1h0M461.3 221.2h0M475.3 234.8h0M472.1 226.1h0M446.0 234.8h0M461.8 234.3h0M457.6 237.0h0M477.4 208.8h0M467.7 225.7h0M476.6 233.1h0M458.4 235.3h0M457.2 229.6h0M454.2 210.4h0M459.0 231.3h0M472.5 203.9h0M444.2 203.7h0M475.2 238.5h0M451.7 235.3h0M472.5 234.2h0M468.8 205.1h0M472.6 232.0h0M458.5 221.2h0M484.2 234.4h0M460.4 216.6h0M451.9 228.6h0M479.8 238.8h0M486.4 230.2h0M441.7 229.7h0M484.3 230.5h0M457.0 233.9h0M451.9 227.3h0M456.2 237.0h0M451.4 203.3h0M467.9 217.8h0M478.4 236.0h0M465.3 236.2h0M469.3 238.8h0M470.7 232.7h0M468.3 225.2h0M458.7 231.2h0M458.9 211.2h0M461.6 237.8h0M459.5 237.3h0M447.8 220.2h0M466.8 219.8h0M479.6 234.8h0M459.1 232.5h0M472.8 225.1h0M459.7 227.0h0M468.8 220.3h0M454.9 229.7h0M459.3 225.0h0M465.0 234.1h0M463.6 238.0h0M444.6 236.8h0M467.1 218.5h0M461.1 231.6h0M480.6 237.8h0M468.9 238.8h0M468.2 236.1h0M479.3 236.2h0M458.8 236.2h0M453.4 236.9h0M441.0 234.2h0M483.1 212.2h0M465.8 234.9h0M479.2 213.6h0M452.0 216.2h0M440.7 223.3h0M457.3 227.4h0M459.4 235.4h0M466.6 238.4h0M475.9 222.1h0M466.3 230.2h0M475.7 225.6h0M475.6 220.7h0M469.7 237.9h0M453.8 225.3h0M455.8 210.9h0M466.0 238.1h0M462.3 237.5h0M474.4 228.2h0M454.2 220.7h0M459.1 231.6h0M487.9 235.7h0M480.6 236.8h0M452.1 229.7h0M468.4 235.4h0M467.2 220.6h0M442.2 230.0h0M458.1 222.7h0M474.9 237.6h0M469.6 231.4h0M465.3 237.9h0M466.4 231.2h0M470.4 236.2h0M466.6 232.7h0M459.4 207.6h0M477.5 233.6h0M451.6 233.6h0M464.2 239.1h0M486.3 230.4h0M458.9 225.0h0M457.4 227.9h0M460.7 234.0h0M467.2 238.8h0M467.1 239.1h0M459.8 229.8h0M459.1 209.2h0M481.7 210.4h0M451.8 238.9h0M442.4 230.8h0M451.3 237.8h0M456.3 236.0h0M472.4 226.2h0M465.5 234.1h0M457.4 220.7h0M471.6 228.4h0M470.8 226.4h0M454.8 229.9h0M452.7 235.0h0M454.2 223.1h0M462.4 237.0h0M444.7 223.8h0M455.2 237.7h0M465.6 235.2h0M454.9 239.0h0M460.9 237.8h0M456.9 235.4h0M459.8 213.3h0M454.6 227.9h0M459.4 226.0h0M451.9 239.1h0M460.3 236.4h0M462.1 227.0h0M472.6 236.9h0M474.8 231.6h0M464.8 236.6h0M455.2 218.3h0M447.0 201.6h0M467.9 237.2h0M451.1 236.5h0M475.1 236.5h0M456.1 225.4h0M452.9 232.6h0M482.5 233.5h0M455.5 226.5h0M461.1 235.2h0M454.6 234.4h0M461.0 237.7h0M454.5 233.1h0M453.6 237.8h0M487.5 233.2h0M457.5 229.2h0M467.7 236.1h0M462.3 237.0h0M479.5 236.9h0M471.2 208.0h0M441.5 236.2h0M451.7 226.9h0M458.0 237.5h0M476.6 220.0h0M454.9 237.4h0M461.2 234.0h0M474.4 234.8h0M471.9 234.6h0M471.4 232.4h0M455.3 226.5h0M469.0 238.5h0M458.2 228.9h0M451.7 233.7h0M461.4 232.0h0M458.1 234.3h0M481.7 233.2h0M458.4 217.6h0M470.3 228.8h0M467.9 214.3h0M476.7 233.3h0M471.4 216.1h0M454.5 233.6h0M493.1 235.2h0M464.4 235.7h0M453.8 230.7h0M451.7 197.8h0M457.9 234.1h0M465.5 234.0h0M446.5 230.2h0M463.0 237.1h0M447.6 239.1h0M455.6 224.7h0M470.0 229.8h0M480.1 219.6h0M446.5 235.9h0M448.3 219.5h0M461.5 237.3h0M461.5 237.3h0M468.5 238.4h0M463.1 237.8h0M468.5 222.2h0M473.9 211.3h0M459.8 224.7h0M446.0 220.3h0M448.4 238.6h0M440.9 238.1h0M456.9 239.0h0M483.6 237.7h0M460.7 218.4h0M469.7 232.4h0M476.4 230.1h0M451.4 215.0h0M449.1 233.4h0M458.4 217.1h0M456.5 234.4h0M463.4 236.2h0M469.1 234.7h0M483.9 210.1h0M479.8 239.1h0M472.2 234.0h0M450.6 230.4h0M460.6 221.1h0M453.3 223.0h0M460.5 223.0h0M473.4 217.3h0M474.6 230.1h0M469.1 213.9h0M471.9 201.6h0M473.0 213.2h0M458.0 215.7h0M461.3 237.9h0M459.6 235.4h0M455.7 218.2h0M468.3 235.1h0M451.5 233.6h0M475.4 226.2h0M470.1 235.0h0M468.7 237.7h0M457.1 230.8h0M465.1 235.8h0M454.6 236.0h0M455.4 235.6h0M454.6 233.1h0M471.7 229.0h0M476.9 213.9h0M443.8 238.8h0M457.7 234.4h0M453.7 237.1h0M452.5 225.1h0M454.6 237.9h0M460.0 217.8h0M449.5 235.4h0M472.3 239.1h0M448.5 212.2h0M451.5 210.5h0M476.0 227.7h0M472.4 238.0h0M486.0 229.6h0M448.6 236.0h0M487.1 204.1h0M475.9 218.7h0M456.3 210.4h0M461.4 236.3h0M455.8 196.6h0M461.0 224.1h0M471.0 231.4h0M458.1 204.6h0M452.9 229.4h0M483.7 239.1h0M452.6 220.6h0M451.2 213.7h0M450.4 208.2h0M439.4 233.9h0M458.7 232.3h0M468.4 205.5h0M477.2 231.1h0M477.7 234.5h0M460.5 231.2h0M483.5 236.0h0M458.0 232.0h0M454.5 222.3h0M450.4 231.5h0M457.5 236.1h0M444.7 235.1h0M457.0 221.5h0M473.6 238.6h0M479.3 232.0h0M479.4 231.9h0M451.4 207.4h0M456.6 236.6h0M490.1 235.3h0M454.3 216.0h0M474.7 215.3h0M478.0 217.0h0M471.9 237.0h0M459.0 226.6h0M459.3 237.3h0M447.6 222.9h0M460.9 230.9h0M450.3 237.0h0M466.9 228.7h0M458.4 213.3h0M457.8 239.2h0M453.2 232.2h0M461.7 236.6h0M455.2 233.1h0M465.3 237.2h0M468.3 219.7h0M460.2 231.9h0M458.2 215.5h0M454.0 215.4h0M468.8 217.0h0M445.5 235.1h0M458.9 226.8h0M452.4 237.3h0M474.2 228.8h0M469.5 237.6h0M468.3 238.5h0M452.8 227.7h0M468.7 219.3h0M479.2 236.2h0M459.4 227.6h0M471.2 237.6h0M466.3 231.5h0M455.8 219.2h0M478.1 213.6h0M457.4 228.5h0M460.0 235.1h0M480.3 220.2h0M472.1 237.7h0M462.3 238.2h0M459.4 235.4h0M447.1 239.0h0M460.8 218.7h0M461.7 239.2h0M461.7 239.2h0M452.2 222.3h0M469.4 228.8h0M462.7 234.8h0M450.5 232.0h0M456.6 226.8h0M465.9 238.9h0M463.2 238.6h0M447.2 225.1h0M450.2 199.1h0M448.7 234.9h0M467.7 237.4h0M443.7 238.3h0M472.1 227.0h0M468.5 228.1h0M445.6 233.0h0M457.1 239.1h0M467.6 215.6h0M483.8 237.6h0M477.2 229.8h0M465.6 237.2h0M460.7 237.0h0M453.1 225.4h0M451.9 222.5h0M448.4 231.4h0M449.2 229.7h0M462.5 235.9h0M462.2 237.9h0M462.7 233.6h0M455.4 239.0h0M490.8 231.1h0M472.7 233.9h0M458.9 216.0h0M452.1 235.0h0M462.5 235.8h0M473.0 228.3h0M446.4 228.6h0M457.8 228.6h0M470.3 236.8h0M452.7 231.6h0M454.1 238.8h0M455.6 232.8h0M468.5 232.3h0M486.7 237.0h0M473.4 236.5h0M449.4 233.6h0M450.6 214.0h0M458.6 238.7h0M462.1 231.9h0M466.4 234.7h0M479.2 232.3h0M455.9 237.6h0M463.0 237.2h0M469.3 203.0h0M451.2 226.4h0M457.3 231.2h0M451.8 231.1h0M454.8 210.8h0M457.6 231.0h0M470.1 238.7h0M454.4 213.5h0M471.0 230.6h0M472.5 224.2h0M460.6 235.0h0M449.8 237.4h0M475.0 231.9h0M466.6 237.2h0M451.4 212.9h0M453.1 214.6h0M479.5 204.3h0M460.5 219.0h0M442.8 230.4h0M458.8 237.6h0M473.3 234.3h0M462.8 239.3h0M478.0 229.6h0M459.4 224.6h0M465.2 237.7h0M454.8 228.7h0M459.6 233.6h0M449.5 238.8h0M467.1 233.2h0M462.0 227.9h0M442.4 237.4h0M461.6 228.6h0M457.6 208.2h0M454.6 236.4h0M465.3 238.1h0M462.9 239.0h0M470.0 216.2h0M458.6 228.5h0M457.5 227.0h0M461.0 219.1h0M465.8 225.9h0M473.2 231.9h0M447.7 236.9h0M465.2 238.8h0M451.7 216.5h0M471.3 235.7h0M457.6 236.2h0M463.0 235.5h0M457.6 238.1h0M469.4 227.7h0M468.2 224.7h0M448.1 216.8h0M485.7 237.0h0M471.2 236.0h0M449.8 235.5h0M472.7 236.4h0M449.0 237.2h0M458.5 237.7h0M461.6 225.2h0M453.3 217.8h0M431.1 235.4h0M453.0 238.4h0M450.5 218.8h0M457.3 201.0h0M473.4 219.4h0M471.2 222.9h0M442.2 225.4h0M468.6 205.9h0M474.8 213.2h0M451.8 239.2h0M476.3 225.1h0M486.0 231.4h0M477.5 230.3h0M458.4 236.1h0M452.4 238.2h0M457.7 220.3h0M454.8 213.2h0M449.5 239.3h0M468.8 234.9h0M473.8 235.1h0M455.4 236.8h0M471.4 233.0h0M458.9 216.0h0M485.4 225.4h0M485.7 222.5h0M475.0 208.9h0M459.8 232.8h0M473.2 222.8h0M447.3 213.3h0M451.5 238.9h0M472.7 229.3h0M466.6 228.9h0M460.6 235.6h0M463.1 234.7h0M451.2 235.2h0M473.9 237.4h0M453.9 239.0h0M454.6 203.5h0M461.0 235.4h0M453.6 214.7h0M452.0 219.7h0M442.8 231.0h0M473.8 228.3h0M467.9 222.2h0M459.4 231.3h0M458.9 217.1h0M464.7 237.4h0M451.6 226.4h0M477.4 234.9h0M496.2 236.8h0M470.6 234.7h0M479.4 231.8h0M450.2 220.6h0M469.1 233.8h0M467.9 230.2h0M465.5 236.8h0M458.4 238.1h0M466.5 235.8h0M456.9 225.9h0M467.4 215.0h0M473.9 221.8h0M462.0 227.6h0M451.3 233.6h0M479.0 236.6h0M475.0 236.0h0M456.7 229.0h0M472.8 236.0h0M462.4 231.9h0M454.8 236.9h0M469.7 235.7h0M460.7 232.2h0M455.2 213.0h0M446.4 223.8h0M459.7 229.0h0M458.5 239.2h0M471.9 229.1h0M465.5 233.0h0M474.9 204.6h0M468.3 227.9h0M474.7 221.2h0M477.9 207.2h0M466.2 235.7h0M475.7 213.2h0M452.3 232.4h0M458.0 232.4h0M468.7 236.8h0M473.0 232.2h0M482.3 204.9h0M459.3 215.3h0M454.7 238.7h0M448.1 221.6h0M472.1 234.0h0M481.2 235.5h0M459.7 232.7h0M452.5 226.0h0M452.3 235.6h0M466.5 226.0h0M426.9 238.1h0M479.2 219.7h0M465.9 222.1h0M454.8 238.6h0M440.1 237.8h0M458.9 235.3h0M461.0 227.0h0M474.2 213.0h0M472.9 197.1h0M458.7 237.3h0M461.7 222.1h0M466.8 234.5h0M453.7 215.2h0M445.5 229.0h0M453.9 234.1h0M444.2 218.4h0M459.8 232.4h0M461.7 224.9h0M452.0 233.6h0M471.5 238.8h0M454.4 210.9h0M455.8 230.3h0M468.9 220.6h0M470.9 238.4h0M458.4 234.6h0M456.8 223.4h0M490.3 215.0h0M480.5 226.6h0M466.3 235.0h0M459.6 238.4h0M471.4 207.1h0M453.0 238.9h0M464.5 235.0h0M472.2 237.7h0M458.9 231.9h0M465.8 238.1h0M481.4 217.5h0M440.0 237.0h0M471.9 238.5h0M458.3 231.6h0M454.7 221.0h0M453.7 239.1h0M464.3 239.3h0M452.4 236.6h0M469.5 231.6h0M459.6 234.0h0M456.2 220.3h0M467.5 231.2h0M457.9 223.2h0M465.5 232.9h0M461.9 234.1h0M477.8 226.5h0M449.7 231.9h0M454.9 225.7h0M447.9 211.5h0M460.2 220.4h0M469.6 228.6h0M489.2 236.3h0M481.8 235.1h0M467.2 234.0h0M471.0 238.2h0M445.9 233.9h0M458.4 225.7h0M453.2 218.8h0M465.6 227.0h0M455.5 238.4h0M453.1 217.2h0M466.9 239.2h0M462.9 235.5h0M469.9 238.9h0M468.7 229.5h0M455.5 236.7h0M450.3 211.9h0M457.0 231.2h0M480.9 223.5h0M433.2 225.9h0M471.4 232.0h0M472.5 235.6h0M456.9 239.3h0M462.4 228.7h0M460.4 230.4h0M447.0 226.5h0M476.3 236.6h0M453.9 231.0h0M449.2 222.3h0M463.5 239.0h0M475.9 233.2h0M477.8 213.7h0M464.3 235.3h0M458.8 221.4h0M471.5 228.1h0M456.9 237.0h0M468.7 223.5h0M452.6 238.2h0M454.7 238.3h0M458.4 228.4h0M465.4 238.8h0M456.7 231.1h0M473.0 238.6h0M448.9 237.9h0M440.6 228.2h0M469.7 214.2h0M470.8 226.1h0M459.9 208.1h0M454.3 228.7h0M478.8 220.1h0M457.7 227.6h0M452.0 235.9h0M483.3 232.1h0M456.7 230.9h0M448.9 211.4h0M443.3 226.9h0M477.8 206.1h0M440.4 214.1h0M460.9 226.8h0M464.2 238.8h0M470.6 225.8h0M467.9 206.0h0M459.2 233.0h0M459.3 221.6h0M479.1 213.3h0M459.1 222.1h0M453.6 208.1h0M453.2 235.8h0M453.2 239.1h0M457.7 237.0h0M458.6 208.0h0M447.2 225.2h0M458.4 211.5h0M468.0 238.9h0M463.4 237.1h0M469.3 226.7h0M472.4 214.6h0M460.9 236.9h0M475.7 229.4h0M448.6 216.6h0M459.0 210.1h0M461.1 220.2h0M456.4 209.1h0M468.5 237.4h0M470.9 214.7h0M471.0 235.0h0M457.4 230.5h0M450.2 216.3h0M467.1 223.7h0M469.4 228.9h0M455.4 213.8h0M473.2 234.8h0M465.4 234.0h0M451.2 228.7h0M458.5 222.3h0M465.1 238.9h0M464.8 233.8h0M466.8 236.4h0M471.5 235.7h0M443.7 235.2h0M480.5 238.3h0M459.4 239.0h0M455.6 221.3h0M459.7 234.4h0M482.5 236.9h0M465.5 233.0h0M449.2 238.1h0M449.5 223.6h0M445.0 237.5h0M470.4 230.8h0M453.5 223.3h0M448.6 228.0h0M456.2 227.0h0M478.6 234.5h0M455.1 223.7h0M475.5 234.9h0M457.2 217.8h0M466.5 222.2h0M470.9 238.7h0M468.5 211.7h0M444.4 234.9h0M458.0 216.4h0M471.8 235.0h0M450.7 234.0h0M461.6 238.7h0M474.6 236.2h0M461.0 233.2h0M460.3 228.3h0M453.6 236.8h0M447.7 233.1h0M468.9 217.4h0M472.5 239.3h0M457.3 228.8h0M459.3 208.6h0M454.0 230.1h0M470.7 204.3h0M454.3 235.7h0M462.2 234.6h0M455.2 238.8h0M462.4 234.3h0M462.1 239.2h0M476.6 227.2h0M474.2 232.5h0M467.3 235.2h0M440.4 238.4h0M453.9 238.4h0M480.9 232.7h0M461.6 232.4h0M454.7 210.7h0M452.5 227.3h0M469.4 225.0h0M477.0 237.1h0M460.9 225.0h0M452.1 238.6h0M480.2 222.9h0M459.4 221.6h0M453.6 232.7h0M470.2 234.1h0M468.2 239.1h0M466.3 232.4h0M452.7 222.5h0M454.7 238.4h0M453.4 238.1h0M455.2 225.7h0M452.6 224.3h0M477.5 230.7h0M452.1 200.8h0M452.1 238.3h0M460.1 225.0h0M477.1 232.0h0M457.0 218.7h0M472.3 226.6h0M473.2 225.9h0M455.8 205.7h0M475.3 238.5h0M482.1 239.1h0M457.3 235.9h0M460.0 216.9h0M448.6 236.1h0M456.9 235.4h0M478.5 228.4h0M468.4 219.8h0M473.8 223.1h0M456.6 238.6h0M468.1 232.8h0M471.6 238.4h0M465.5 238.0h0M451.2 229.8h0M449.3 225.0h0M470.9 228.0h0M460.2 227.8h0M468.3 205.9h0M458.3 236.4h0M460.1 231.2h0M474.1 209.7h0M460.5 236.7h0M485.9 205.1h0M459.9 231.0h0M446.3 231.9h0M470.1 230.1h0M481.4 213.9h0M470.0 232.9h0M465.5 234.3h0M453.8 237.7h0M452.5 233.0h0M452.4 223.5h0M460.7 225.2h0M460.6 225.3h0M445.9 234.7h0M460.0 227.8h0M451.8 227.2h0M462.1 229.0h0M475.8 229.4h0M456.2 237.4h0M459.9 237.4h0M450.9 237.2h0M449.7 226.5h0M455.2 206.1h0M488.0 234.8h0M485.5 226.9h0M462.2 228.9h0M490.1 230.7h0M457.7 219.7h0M446.2 219.8h0M457.9 238.9h0M444.3 217.3h0M471.3 236.6h0M440.6 238.6h0M466.7 236.6h0M471.7 230.9h0M450.4 229.0h0M460.6 236.1h0M473.6 232.3h0M457.0 226.9h0M444.5 238.4h0M486.3 236.2h0M446.6 218.3h0M477.2 198.0h0M451.8 224.4h0M466.9 225.0h0M470.8 220.9h0M451.6 233.1h0M472.7 232.2h0M477.0 221.0h0M450.4 231.1h0M454.1 210.8h0M467.6 212.9h0M473.0 211.1h0M456.0 212.0h0M478.6 233.4h0M472.4 237.5h0M472.0 236.4h0M465.0 238.1h0M459.8 222.7h0M490.4 232.3h0M480.0 236.8h0M462.4 228.3h0M471.2 236.0h0M459.7 223.7h0M474.6 232.9h0M455.8 221.2h0M438.4 226.2h0M468.2 232.3h0M469.4 230.4h0M464.7 236.6h0M456.3 238.0h0M457.2 238.7h0M458.6 233.8h0M469.6 228.3h0M459.2 233.7h0M441.0 239.3h0M472.0 235.4h0M448.7 235.3h0M450.9 225.7h0M453.5 237.0h0M470.2 232.2h0M468.5 237.9h0M469.2 228.9h0M486.8 233.2h0M458.3 227.9h0M468.6 226.2h0M469.7 228.2h0M461.6 235.8h0M460.8 235.8h0M458.4 237.7h0M454.1 230.7h0M453.1 235.4h0M458.6 227.9h0M462.0 231.2h0M469.8 232.9h0M466.4 234.4h0M466.1 232.9h0M458.7 210.5h0M439.4 226.7h0M457.3 220.7h0M455.2 233.4h0M462.1 225.9h0M472.6 219.7h0M460.7 238.9h0M453.5 223.3h0M459.6 237.1h0M460.4 220.1h0M462.9 236.5h0M448.6 219.3h0M455.1 237.0h0M447.8 228.3h0M449.4 237.9h0M473.2 230.6h0M466.4 234.6h0M461.3 238.4h0M477.1 230.7h0M459.5 206.4h0M443.9 229.2h0M461.3 239.0h0M476.9 221.6h0M459.0 239.1h0M462.1 236.9h0M473.4 219.8h0M451.3 230.9h0M461.9 230.9h0M472.6 236.5h0M443.0 226.0h0M474.6 237.7h0M458.8 224.1h0M468.5 206.1h0M469.3 231.9h0M452.4 231.0h0M461.7 237.6h0M462.5 237.4h0M467.9 238.1h0M445.9 236.7h0M475.7 237.1h0M456.2 212.9h0M454.8 232.9h0M453.0 225.3h0M460.5 221.2h0M458.8 234.9h0M459.2 228.9h0M466.0 223.2h0M458.8 233.3h0M465.3 235.6h0M477.2 214.3h0M470.2 232.7h0M466.5 234.2h0M448.7 227.7h0M477.2 219.5h0M460.9 233.7h0M455.9 234.5h0M466.3 233.0h0M446.5 204.8h0M444.9 233.9h0M448.3 233.5h0M450.7 209.2h0M441.0 229.9h0M477.5 232.8h0M477.5 238.0h0M461.8 234.0h0M473.6 236.7h0M473.6 233.4h0M447.2 228.4h0M454.2 212.2h0M447.2 235.8h0M469.9 218.9h0M470.9 226.5h0M450.1 232.7h0M458.1 224.5h0M462.1 238.5h0M467.0 218.1h0M449.1 237.8h0M453.1 217.7h0M466.2 236.7h0M444.2 215.5h0M462.7 238.1h0M443.5 209.3h0M455.3 238.8h0M450.8 212.6h0M470.9 220.7h0M467.0 213.4h0M477.5 238.2h0M447.7 230.1h0M462.7 233.2h0M469.2 229.3h0M458.4 235.0h0M478.9 234.2h0M473.3 234.4h0M461.4 223.5h0M476.6 233.5h0M459.2 226.5h0M458.0 235.1h0M474.6 220.0h0M458.8 217.8h0M451.5 213.6h0M462.4 237.0h0M459.5 221.0h0M468.8 230.3h0M458.3 232.2h0M449.0 237.5h0M454.9 233.1h0M451.9 233.0h0M456.6 239.2h0M456.8 219.3h0M458.9 205.1h0M470.2 235.8h0M467.3 236.5h0M451.2 220.5h0M458.7 238.5h0M451.0 236.9h0M452.3 235.4h0M457.1 233.0h0M454.6 237.8h0M441.7 232.7h0M483.2 239.2h0M456.7 231.9h0M451.5 238.7h0M468.3 231.6h0M475.3 214.6h0M450.1 222.0h0M445.3 222.5h0M458.6 209.7h0M461.5 239.2h0M445.5 237.1h0M457.0 232.5h0M471.2 236.7h0M462.7 237.4h0M478.5 236.5h0M492.0 230.4h0M451.6 237.0h0M477.5 236.5h0M482.7 238.6h0M453.2 231.4h0M455.5 206.0h0M473.7 213.3h0M449.2 213.7h0M456.9 221.3h0M453.2 212.4h0M450.2 235.4h0M460.7 238.7h0M469.5 239.1h0M462.1 231.3h0M477.9 226.0h0M444.6 238.1h0M479.5 226.2h0M455.2 212.7h0M450.2 222.9h0M486.0 231.3h0M461.3 232.9h0M467.0 226.8h0M456.1 237.1h0M467.1 234.1h0M474.6 234.5h0M457.3 217.1h0M470.4 230.5h0M486.8 232.4h0M447.7 233.7h0M473.4 235.2h0M452.3 237.6h0M480.0 233.5h0M447.3 239.0h0M454.0 221.3h0M472.3 221.6h0M455.6 234.6h0M452.9 230.0h0M476.6 229.8h0M448.8 212.9h0M481.0 217.3h0M457.6 234.9h0M477.5 233.1h0M454.9 224.8h0M465.6 231.0h0M442.6 237.7h0M471.9 232.6h0M460.0 237.7h0M459.4 234.5h0M460.2 235.8h0M458.3 233.0h0M460.6 224.1h0M453.4 214.2h0M473.3 222.3h0M450.5 227.6h0M448.6 232.3h0M455.2 237.2h0M441.8 237.9h0M455.8 231.8h0M450.9 220.2h0M477.3 238.3h0M458.3 231.5h0M475.9 232.9h0M435.9 238.5h0M456.9 207.9h0M450.7 232.3h0M456.4 209.3h0M458.6 210.2h0M471.9 232.6h0M449.0 237.5h0M468.6 234.0h0M460.7 226.3h0M457.5 222.2h0M461.8 230.3h0M444.3 228.6h0M453.6 215.2h0M476.6 233.9h0M471.2 234.3h0M454.2 218.1h0M466.0 237.2h0M493.3 235.6h0M457.5 226.9h0M456.4 226.9h0M462.3 237.9h0M480.4 226.6h0M467.6 218.7h0M451.2 228.3h0M477.7 236.8h0M450.4 207.0h0M465.2 234.1h0M488.8 235.0h0M470.3 231.9h0M458.1 212.1h0M470.9 221.4h0M471.3 234.1h0M475.6 230.3h0M454.0 233.1h0M460.6 229.1h0M459.6 233.3h0M461.9 238.5h0M456.8 236.6h0M467.8 230.6h0M457.5 213.7h0M452.5 238.1h0M457.4 202.4h0M441.8 229.6h0M455.6 233.5h0M465.4 239.1h0M471.0 225.8h0M453.2 237.1h0M469.9 238.9h0M466.8 235.4h0M460.6 237.0h0M453.8 235.4h0M468.4 234.3h0M453.3 232.1h0M468.6 236.6h0M455.6 238.5h0M444.9 238.1h0M466.2 238.8h0M447.7 217.7h0M459.4 229.5h0M477.5 238.4h0M451.9 231.8h0M475.7 239.2h0M436.1 224.2h0M469.4 198.4h0M467.0 222.7h0M462.1 237.8h0M470.8 224.7h0M488.5 237.7h0M478.7 238.1h0M474.4 225.6h0M454.3 214.1h0M470.3 226.4h0M453.8 237.1h0M465.7 238.3h0M458.4 232.2h0M441.3 220.7h0M456.8 223.3h0M466.1 232.3h0M457.8 229.7h0M467.2 238.2h0M452.4 220.9h0M474.4 216.4h0M478.9 230.2h0M478.4 236.8h0M476.1 236.8h0M458.7 227.6h0M471.9 239.0h0M454.2 234.4h0M472.2 230.3h0M449.1 237.0h0M476.2 210.2h0M456.3 230.3h0M470.2 230.5h0M470.2 233.2h0M463.1 236.2h0M458.2 230.6h0M452.1 214.2h0M474.2 239.1h0M449.1 236.1h0M472.5 232.6h0M453.5 217.0h0M476.7 215.7h0M476.0 237.4h0M485.2 238.3h0M453.7 229.3h0M472.3 214.8h0M466.2 234.3h0M448.6 231.7h0M454.6 226.7h0M454.1 232.4h0M455.1 233.7h0M466.9 226.5h0M474.7 237.0h0M467.1 237.5h0M459.6 236.5h0M478.3 233.1h0M465.2 228.9h0M481.3 228.3h0M457.4 237.7h0M473.5 238.0h0M461.5 235.8h0M456.3 236.9h0M460.9 236.8h0M449.3 231.8h0M454.9 225.1h0M463.1 237.1h0M454.4 216.2h0M471.8 204.9h0M450.6 235.0h0M443.1 235.0h0M453.4 225.0h0M453.8 229.6h0M454.1 227.6h0M474.3 237.7h0M457.1 215.6h0M456.6 230.2h0M453.9 225.4h0M475.5 236.7h0M450.3 233.4h0M457.4 233.9h0M456.5 227.4h0M451.0 235.1h0M463.1 235.4h0M457.3 213.5h0M462.1 235.5h0M478.6 232.6h0M450.7 236.0h0M468.3 231.5h0M458.3 238.9h0M458.7 230.1h0M457.1 230.2h0M454.9 238.0h0M460.4 219.4h0M466.6 230.9h0M436.8 221.2h0M466.1 232.1h0M447.1 217.6h0M441.0 236.5h0M464.6 237.9h0M485.1 224.1h0M448.8 239.3h0M468.4 235.6h0M449.9 220.4h0M458.8 229.6h0M469.1 227.1h0M447.6 224.4h0M453.9 232.6h0M447.8 201.7h0M443.6 214.8h0M475.5 230.0h0M459.0 235.6h0M447.4 232.4h0M448.6 236.2h0M455.5 211.1h0M457.1 233.9h0M458.7 236.8h0M472.6 203.3h0M461.6 238.9h0M480.2 225.8h0M461.7 236.2h0M476.5 235.9h0M447.2 227.5h0M451.2 216.0h0M446.7 234.4h0M454.9 210.7h0M443.3 211.5h0M455.8 216.8h0M453.1 205.5h0M459.0 227.1h0M467.0 234.2h0M458.0 214.6h0M471.7 233.8h0M459.2 236.6h0M490.1 217.2h0M467.7 236.0h0M481.8 234.9h0M469.6 228.3h0M456.2 229.3h0M457.7 233.4h0M456.5 235.7h0M465.7 234.6h0M482.7 238.1h0M455.3 237.8h0M466.1 236.5h0M477.8 238.0h0M455.7 235.4h0M471.5 229.8h0M468.5 215.8h0M458.4 234.2h0M464.1 238.3h0M451.2 223.0h0M452.2 214.4h0M468.5 207.0h0M454.9 232.3h0M442.9 230.9h0M449.2 221.1h0M457.2 210.8h0M468.4 224.0h0M456.8 226.2h0M450.7 234.1h0M471.3 238.3h0M456.0 226.5h0M460.2 228.0h0M459.1 237.9h0M460.1 234.6h0M468.4 217.1h0M470.5 238.9h0M459.4 236.8h0M469.4 211.7h0M438.9 215.0h0M465.9 233.3h0M465.6 236.8h0M476.4 233.6h0M451.9 233.5h0M442.2 236.8h0M467.4 218.8h0M459.5 230.3h0M450.4 237.4h0M446.2 233.7h0M471.4 222.7h0M467.8 237.1h0M473.6 222.2h0M459.8 214.7h0M457.0 228.6h0M445.2 219.1h0M462.2 230.9h0M471.3 237.5h0M455.9 229.3h0M481.8 236.1h0M451.4 210.1h0M446.7 235.7h0M445.7 236.4h0M480.7 238.6h0M476.2 223.8h0M452.3 227.3h0M444.3 231.1h0M455.8 214.5h0M480.3 209.7h0M459.3 225.8h0M472.1 223.8h0M461.4 232.3h0M456.0 235.0h0M455.1 227.7h0M456.0 236.6h0M494.3 232.9h0M456.3 233.7h0M457.6 228.3h0M469.4 237.5h0M446.4 223.1h0M469.3 234.4h0M445.3 236.0h0M442.3 237.9h0M468.3 239.1h0M472.9 230.5h0M468.3 214.8h0M485.6 213.5h0M447.8 237.8h0M474.1 225.5h0M473.3 231.6h0M452.1 238.3h0M465.6 231.7h0M470.0 233.7h0M458.5 238.8h0M461.3 237.1h0M472.3 207.4h0M450.2 205.1h0M447.3 236.5h0M458.0 230.6h0M484.8 237.2h0M469.8 237.5h0M457.5 229.7h0M459.5 226.7h0M458.5 231.6h0M467.2 232.5h0M469.4 220.1h0M471.3 233.0h0M468.9 224.8h0M458.8 224.5h0M457.1 227.0h0M466.5 237.9h0M469.0 218.3h0M471.7 221.3h0M453.9 208.1h0M474.4 220.6h0M461.1 234.4h0M450.6 227.8h0M450.5 238.3h0M457.6 220.6h0M465.0 232.2h0M465.8 231.8h0M451.1 219.8h0M464.6 232.9h0M475.7 227.7h0M463.9 239.2h0M471.2 237.9h0M469.5 218.6h0M445.1 222.8h0M488.8 232.7h0M466.4 228.3h0M469.4 238.7h0M473.0 221.6h0M482.4 224.9h0M447.0 221.3h0M472.9 237.9h0M458.5 215.5h0M459.8 212.1h0M467.4 234.5h0M443.1 223.9h0M470.6 235.1h0M477.5 224.6h0M449.9 233.1h0M471.3 225.7h0M455.0 200.0h0M480.3 208.1h0M481.9 222.8h0M462.9 233.6h0M457.5 198.7h0M442.4 236.9h0M461.4 222.2h0M464.5 236.2h0M457.4 234.2h0M446.0 231.8h0M444.8 206.1h0M478.0 224.3h0M444.4 226.1h0M444.0 235.1h0M460.4 238.4h0M465.3 235.9h0M444.0 226.7h0M455.4 228.1h0M473.2 201.4h0M448.9 226.5h0M454.2 231.5h0M458.7 237.9h0M460.2 218.4h0M458.3 230.3h0M448.4 233.5h0M461.9 231.3h0M466.3 229.8h0M456.4 219.7h0M439.9 234.2h0M443.1 206.4h0M462.5 229.0h0M469.3 235.2h0M456.1 232.4h0M460.4 236.8h0M458.3 213.2h0M457.6 232.1h0M454.7 228.5h0M448.2 227.1h0M457.3 228.4h0M467.8 231.6h0M474.9 201.8h0M448.2 235.6h0M452.6 216.8h0M481.1 221.4h0M467.9 231.3h0M454.1 238.5h0M459.9 213.9h0M450.1 233.6h0M467.9 234.6h0M473.9 235.4h0M453.5 207.3h0M459.7 236.0h0M458.4 207.5h0M453.8 235.9h0M442.9 238.0h0M461.6 226.7h0M476.6 236.3h0M459.7 236.8h0M458.5 237.1h0M475.0 231.4h0M482.6 237.4h0M461.1 224.7h0M433.7 230.0h0M452.5 222.0h0M474.2 220.5h0M470.6 220.1h0M458.6 226.1h0M471.1 227.8h0M454.7 233.3h0M456.5 227.5h0M480.5 231.1h0M461.1 235.3h0M460.0 209.5h0M447.1 225.3h0M457.8 237.4h0M457.0 218.4h0M455.0 234.6h0M456.3 233.3h0M478.9 234.7h0M478.5 232.0h0M494.0 234.7h0M472.7 236.6h0M487.1 227.0h0M469.2 238.8h0M469.8 236.8h0M450.8 227.9h0M447.6 227.5h0M456.5 231.9h0M455.3 233.8h0M480.1 203.7h0M464.5 237.8h0M455.2 227.1h0M472.4 233.4h0M448.0 230.3h0M467.0 230.0h0M466.4 227.7h0M456.6 236.8h0M464.8 236.3h0M444.7 217.7h0M444.1 233.3h0M476.0 233.9h0M472.2 230.5h0M469.4 228.9h0M468.6 225.8h0M459.0 236.3h0M456.8 236.3h0M460.0 235.4h0M447.5 230.6h0M460.4 237.4h0M459.9 232.6h0M445.3 235.6h0M451.1 228.7h0M469.9 222.1h0M451.2 238.8h0M458.5 220.4h0M458.4 231.8h0M462.9 236.2h0M449.3 234.2h0M459.3 225.5h0M462.4 234.5h0M443.5 231.6h0M460.0 237.0h0M461.6 237.2h0M450.3 227.4h0M456.2 229.3h0M459.9 232.6h0M470.2 237.9h0M454.9 228.7h0M468.5 202.3h0M480.5 234.4h0M449.6 222.6h0M450.1 229.2h0M467.5 221.1h0M455.7 237.0h0M456.6 205.0h0M471.6 218.2h0M471.6 221.7h0M453.9 237.8h0M451.3 233.0h0M472.2 225.4h0M473.4 203.6h0M473.9 226.4h0M445.5 230.7h0M467.4 224.3h0M454.3 206.9h0M451.8 232.6h0M472.3 237.1h0M440.5 224.0h0M469.7 224.2h0M455.6 210.5h0M457.7 227.4h0M447.4 236.3h0M468.3 225.0h0M448.6 227.5h0M461.6 237.3h0M456.7 223.2h0M458.4 223.6h0M462.5 234.7h0M459.2 234.7h0M478.2 237.5h0M459.8 220.5h0M470.3 214.5h0M464.6 236.2h0M468.9 236.2h0M460.1 223.0h0M447.2 238.8h0M457.8 238.8h0M448.8 208.5h0M452.1 230.1h0M462.8 231.5h0M441.0 238.9h0M477.1 236.0h0M469.9 224.8h0M461.4 236.1h0M469.2 233.6h0M450.5 228.7h0M474.4 238.7h0M460.0 238.6h0M480.5 237.2h0M461.1 226.8h0M451.7 233.2h0M471.0 233.3h0M459.0 231.6h0M455.9 236.4h0M479.0 213.6h0M460.2 238.8h0M452.7 235.9h0M460.9 236.2h0M450.7 232.6h0M462.8 238.2h0M447.3 232.4h0M455.1 232.7h0M480.2 226.3h0M461.5 231.8h0M482.1 213.3h0M460.9 237.7h0M448.6 219.0h0M459.8 230.1h0M453.9 227.2h0M460.1 220.8h0M451.0 230.6h0M457.9 230.0h0M457.7 227.2h0M468.4 229.4h0M481.3 218.2h0M466.4 227.3h0M474.2 222.2h0M455.7 225.8h0M470.7 227.9h0M470.4 214.4h0M456.6 234.7h0M459.3 231.8h0M457.7 237.9h0M455.4 228.1h0M448.7 235.7h0M467.0 225.3h0M460.9 237.3h0M461.7 239.2h0M465.5 225.8h0M447.6 221.0h0M462.7 238.9h0M474.3 233.7h0M479.8 235.8h0M461.2 232.1h0M452.1 209.5h0M460.4 235.6h0M441.3 224.7h0M466.9 215.7h0M456.1 213.9h0M451.6 225.6h0M491.9 238.2h0M458.9 218.8h0M471.0 230.6h0M455.5 230.3h0M472.8 207.0h0M471.8 233.2h0M436.6 238.8h0M467.0 223.6h0M458.4 220.1h0M468.9 233.6h0M473.8 238.5h0M433.3 206.3h0M467.6 235.6h0M461.3 222.6h0M467.0 238.4h0M454.1 206.1h0M462.4 236.4h0M461.8 223.5h0M471.0 234.1h0M471.9 229.8h0M455.7 219.0h0M448.7 229.6h0M453.9 238.9h0M461.9 225.7h0M456.3 226.6h0M460.3 216.0h0M471.0 222.6h0M444.1 232.4h0M461.6 228.9h0M444.3 232.7h0M449.5 206.4h0M463.2 236.2h0M466.2 228.4h0M458.3 238.9h0M464.9 230.9h0M459.5 226.7h0M453.8 220.8h0M458.2 221.9h0M448.4 238.6h0M442.6 239.1h0M457.3 238.5h0M449.2 239.3h0M459.1 239.2h0M468.8 238.1h0M481.2 223.0h0M461.0 231.2h0M464.9 237.2h0M487.6 234.8h0M452.4 236.5h0M471.5 218.5h0M458.8 224.5h0M465.1 231.1h0M472.1 235.0h0M450.5 233.4h0M462.4 236.4h0M475.8 216.0h0M459.8 212.8h0M475.2 226.9h0M456.4 225.4h0M448.6 225.7h0M472.3 233.4h0M483.0 236.7h0M465.8 227.7h0M468.6 228.5h0M466.2 230.0h0M454.0 224.3h0M461.5 234.2h0M467.7 238.8h0M475.7 225.4h0M460.4 227.5h0M450.4 229.8h0M455.1 222.9h0M468.1 227.8h0M456.6 208.6h0M471.3 227.3h0M461.9 234.0h0M468.0 214.1h0M465.6 230.1h0M450.1 221.3h0M462.2 235.8h0M458.4 227.2h0M448.8 237.2h0M444.9 227.6h0M457.6 205.7h0M457.2 204.8h0M447.9 217.9h0M472.1 238.4h0M456.9 229.2h0M444.2 219.1h0M462.5 238.1h0M480.9 237.1h0M450.6 238.0h0M458.0 205.3h0M450.8 216.6h0M476.2 198.7h0M457.6 213.5h0M461.3 239.2h0M453.5 237.1h0M474.9 228.9h0M472.6 215.3h0M475.1 237.1h0M455.8 229.3h0M460.5 228.5h0M470.8 227.6h0M441.3 210.8h0M478.9 234.0h0M460.4 238.3h0M476.1 216.4h0M450.3 217.9h0M459.6 207.8h0M458.7 237.8h0M446.1 229.3h0M465.7 232.4h0M482.8 201.3h0M473.3 215.4h0M451.4 231.6h0M470.0 238.2h0M465.2 235.4h0M469.0 238.0h0M455.2 232.5h0M464.6 235.7h0M467.3 237.7h0M474.5 230.5h0M477.8 232.0h0M442.9 238.3h0M468.1 227.1h0M453.8 219.4h0M453.7 236.3h0M460.7 223.2h0M455.8 238.3h0M450.2 212.4h0M463.4 236.7h0M455.7 237.4h0M470.9 207.7h0M479.9 224.6h0M448.4 205.3h0M467.5 226.7h0M458.2 209.4h0M456.5 226.4h0M448.9 219.2h0M457.8 235.6h0M455.5 229.2h0M446.1 235.3h0M484.0 233.5h0M452.9 235.1h0M454.2 208.1h0M466.2 229.8h0M459.6 228.2h0M467.4 234.2h0M484.1 223.6h0M462.8 235.5h0M442.8 232.7h0M469.5 217.6h0M442.7 215.3h0M457.5 205.4h0M473.6 238.3h0M462.0 239.2h0M451.7 230.5h0M478.8 208.9h0M449.7 225.8h0M465.8 228.4h0M457.4 234.7h0M450.7 239.2h0M471.3 231.6h0M465.2 232.3h0M479.1 235.5h0M481.0 217.1h0M467.1 223.0h0M455.4 216.7h0M476.1 205.3h0M448.4 218.7h0M446.1 230.4h0M446.3 220.6h0M460.7 218.2h0M475.1 226.9h0M461.2 234.0h0M456.7 238.5h0M442.0 233.2h0M473.1 236.1h0M466.1 234.1h0M458.2 230.2h0M480.4 230.9h0M477.1 213.2h0M460.0 230.0h0M456.6 216.8h0M453.5 233.1h0M454.7 237.2h0M448.2 231.3h0M467.6 211.7h0M458.0 234.9h0M451.3 231.5h0M473.5 229.5h0M469.8 204.6h0M453.5 212.0h0M478.4 237.5h0M460.7 239.2h0M471.9 227.3h0M471.2 228.5h0M457.3 214.8h0M453.1 238.9h0M458.8 237.1h0M459.9 234.4h0M465.4 238.7h0M443.1 225.7h0M470.1 238.2h0M460.1 237.8h0M460.0 226.1h0M469.7 235.5h0M451.6 226.3h0M460.2 222.2h0M481.1 238.5h0M478.3 232.7h0M466.1 237.3h0M458.9 219.9h0M472.2 230.2h0M455.4 232.6h0M452.6 236.9h0M440.2 208.5h0M458.2 237.5h0M452.6 228.7h0M451.1 230.6h0M459.2 236.0h0M476.9 225.2h0M467.1 234.3h0M469.4 233.6h0M457.9 238.8h0M453.5 237.5h0M457.2 200.0h0M427.0 235.8h0M465.9 235.2h0M475.1 225.7h0M474.4 239.2h0M458.8 226.6h0M462.0 238.0h0M468.2 227.3h0M452.9 220.8h0M470.5 213.0h0M468.9 218.1h0M472.7 222.8h0M482.4 209.1h0M462.9 237.9h0M478.2 227.7h0M452.9 226.6h0M445.9 228.8h0M474.3 231.2h0M468.9 234.8h0M445.6 236.6h0M449.1 237.0h0M455.2 225.7h0M456.9 234.5h0M472.1 212.0h0M441.8 232.0h0M461.3 226.4h0M461.2 230.1h0M459.0 233.0h0M465.0 234.5h0M466.5 234.0h0M491.8 234.5h0M461.1 223.1h0M461.1 222.8h0M458.3 231.0h0M461.4 233.2h0M471.1 235.6h0M481.6 229.9h0M466.3 238.4h0M429.2 232.0h0M456.9 238.2h0M471.7 236.5h0M458.9 235.2h0M439.8 210.7h0M458.7 205.6h0M467.1 227.5h0M466.9 214.2h0M446.3 238.7h0M484.2 221.3h0M462.7 237.8h0M474.8 226.5h0M451.1 223.5h0M441.3 225.2h0M453.3 228.1h0M454.3 227.8h0M456.8 226.9h0M474.5 217.9h0M459.3 224.7h0M461.7 232.1h0M466.9 230.9h0M458.5 234.9h0M476.6 237.7h0M464.9 237.0h0M450.4 237.4h0M481.8 227.5h0M471.2 231.6h0M455.8 225.4h0M466.1 222.7h0M452.6 234.2h0M460.1 237.3h0M454.2 235.3h0M461.2 233.0h0M460.8 232.1h0M460.9 228.7h0M461.4 228.6h0M442.1 234.9h0M462.0 238.6h0M466.6 233.5h0M465.2 233.2h0M457.2 234.1h0M457.2 230.0h0M468.0 228.9h0M455.4 210.3h0M460.6 222.2h0M465.7 237.7h0M466.3 235.2h0M452.5 232.4h0M468.2 225.6h0M458.5 233.4h0M455.6 220.0h0M461.6 235.6h0M452.6 236.3h0M475.5 232.5h0M458.4 238.3h0M472.0 215.0h0M477.7 226.5h0M459.4 232.9h0M477.9 230.1h0M452.1 234.8h0M459.4 236.5h0M456.7 231.1h0M461.2 217.7h0M474.3 219.0h0M462.4 237.8h0M457.4 211.1h0M467.6 235.6h0M475.6 231.5h0M468.7 236.1h0M488.1 236.6h0M476.4 238.9h0M459.8 231.6h0M481.0 235.4h0M462.5 238.7h0M453.0 227.7h0M485.2 218.9h0M454.9 238.4h0M461.6 238.1h0M463.0 237.5h0M457.0 207.7h0M445.1 238.1h0M457.2 239.1h0M459.1 223.1h0M479.8 225.3h0M467.9 218.2h0M460.3 239.0h0M451.4 238.9h0M459.7 225.1h0M470.6 228.7h0M454.5 236.5h0M470.2 222.4h0M469.7 231.9h0M451.3 231.3h0M460.6 213.8h0M465.1 236.0h0M467.8 231.3h0M460.2 238.3h0M456.3 217.9h0M460.0 230.1h0M474.0 234.8h0M453.6 229.4h0M494.1 236.9h0M453.3 208.0h0M467.2 235.8h0M458.2 210.9h0M470.2 237.7h0M472.7 211.3h0M457.4 231.7h0M442.7 230.0h0M488.3 228.3h0M461.8 228.1h0M453.2 237.9h0M473.4 238.9h0M474.2 239.3h0M465.5 232.5h0M459.6 216.0h0M460.2 236.0h0M474.9 201.1h0M473.5 223.3h0M445.0 237.9h0M444.1 236.7h0M471.4 216.0h0M474.5 230.8h0M455.5 235.3h0M455.1 225.5h0M456.6 239.0h0M471.3 231.9h0M470.8 236.3h0M472.1 238.2h0M453.4 236.9h0M453.3 236.4h0M450.4 237.5h0M484.4 232.6h0M453.1 220.0h0M456.9 235.4h0M454.5 237.3h0M446.5 220.3h0M458.8 237.8h0M454.1 236.7h0M459.0 228.6h0M452.4 205.3h0M471.6 230.2h0M435.3 225.2h0M449.9 213.7h0M425.4 206.5h0M486.0 204.5h0M421.9 205.6h0M419.9 214.3h0M502.7 223.3h0M421.0 221.3h0M442.4 222.9h0M427.6 208.3h0M423.8 211.5h0M437.9 221.5h0M498.1 229.6h0M447.4 219.9h0M442.6 223.9h0M442.0 217.6h0M439.7 220.2h0M501.8 209.8h0M430.5 209.1h0M426.6 221.4h0" stroke="#a2a2b2" stroke-width="1.30" stroke-linecap="round" fill="none"/>
<path d="M471.1 234.5h0M466.4 205.3h0M472.7 204.1h0M465.3 236.8h0M473.5 238.4h0M468.0 224.8h0M467.1 211.0h0M471.8 233.7h0M465.2 219.7h0M468.1 203.0h0M474.5 224.7h0M471.0 210.2h0M469.3 213.0h0M468.2 211.0h0M467.5 229.3h0M466.3 231.6h0M467.3 232.0h0M476.6 204.5h0M466.6 224.8h0M466.5 220.3h0M471.8 203.7h0M466.0 235.5h0M467.7 216.9h0M466.9 204.2h0M465.2 236.7h0M465.8 218.4h0M467.7 220.1h0M465.3 203.2h0M470.7 214.5h0M468.2 236.3h0M468.5 215.6h0M466.9 201.7h0M472.8 215.7h0M467.8 234.0h0M467.4 200.1h0M486.0 235.1h0M469.4 230.5h0M480.3 215.6h0M471.0 213.0h0M466.7 216.4h0M465.4 226.1h0M467.7 205.4h0M471.1 223.9h0M468.6 200.6h0M466.1 208.0h0M465.6 226.9h0M469.1 222.2h0M466.8 227.0h0M472.8 235.9h0M469.9 208.6h0M476.2 207.7h0M466.8 220.1h0M466.2 210.5h0M469.8 223.0h0M467.0 224.0h0M481.6 225.1h0M469.0 213.3h0M469.8 233.2h0M467.8 238.0h0M469.2 201.0h0M472.3 200.6h0M478.9 215.7h0M467.3 231.7h0M465.2 224.4h0M477.9 225.8h0M475.9 234.4h0M468.3 236.5h0M466.3 217.8h0M465.8 221.9h0M467.3 211.8h0M465.6 204.5h0M471.4 233.2h0M467.4 204.8h0M475.9 220.2h0M466.7 218.8h0M450.5 235.9h0M448.2 237.6h0M451.8 229.1h0M450.6 234.0h0M460.5 233.3h0M450.5 234.3h0M470.6 234.9h0M470.5 229.3h0M471.8 238.8h0M460.2 234.8h0M460.0 239.0h0M447.7 236.1h0M460.1 232.3h0M464.8 236.9h0M448.7 236.7h0M457.8 234.4h0M462.6 229.6h0M461.7 233.1h0M468.8 231.5h0M467.4 237.0h0M462.2 238.6h0M446.9 235.6h0M452.7 227.4h0M447.8 207.3h0M442.5 225.1h0M442.4 207.1h0M446.5 220.5h0M450.9 205.9h0M456.6 216.0h0M456.8 205.3h0M460.9 224.5h0M461.4 237.5h0" stroke="#1a1a1a" stroke-width="1.00" stroke-linecap="round" fill="none"/>
<path d="M470.6 181.8h0M471.8 184.6h0M470.2 199.6h0M475.0 198.8h0" stroke="#1a1a1a" stroke-width="1.00" stroke-linecap="round" fill="none"/>
<path d="M473.3 166.5h0M474.9 174.1h0M478.2 179.1h0M479.6 178.4h0M469.3 179.7h0M470.9 182.7h0M471.7 184.3h0M477.4 183.0h0M483.3 185.6h0M470.1 187.5h0M473.3 186.2h0M474.9 189.1h0M476.6 189.9h0M479.0 191.6h0M477.0 192.4h0M471.7 193.2h0M466.0 193.2h0M489.0 192.0h0M491.9 194.8h0M451.8 192.8h0M470.1 196.0h0M475.7 196.9h0" stroke="#a00830" stroke-width="2.10" stroke-linecap="round" fill="none"/>
<path d="M477 177L480.8 173.8" stroke="#111" stroke-width="0.9"/>
<text x="483.8" y="173.7" font-size="5.90" text-anchor="start" font-weight="normal" fill="#222" >BCL2</text>
<path d="M419 236.3L463.6 242.1L500.7 236.3" fill="none" stroke="#fff" stroke-width="2.4" stroke-linejoin="round"/>
<ellipse cx="463.6" cy="242.2" rx="6" ry="2" fill="#fff"/>
<path d="M418.8 236L463.6 242.4H418.8Z" fill="#f5d0e2" stroke="#3a2030" stroke-width="0.7"/>
<path d="M463.6 242.4L500.7 236V242.4Z" fill="#a2002c" stroke="#2a0010" stroke-width="0.7"/>
<path d="M403.1 242.6H505" stroke="#1e1e1e" stroke-width="1.3"/>
<circle cx="390.5" cy="224" r="0.4" fill="#8080c0"/>
<rect x="0" y="0" width="2" height="278" fill="#8c8c8c"/><rect x="0" y="0" width="1" height="278" fill="#000"/>
<rect x="0" y="0" width="520" height="2" fill="#d8d8d8"/><rect x="0" y="0" width="520" height="1" fill="#000"/>
<rect x="518" y="0" width="2" height="278" fill="#808080"/><rect x="519" y="0" width="1" height="278" fill="#000"/>
<rect x="0" y="276" width="520" height="2" fill="#808080"/><rect x="0" y="277" width="520" height="1" fill="#000"/>
</svg></body></html>
